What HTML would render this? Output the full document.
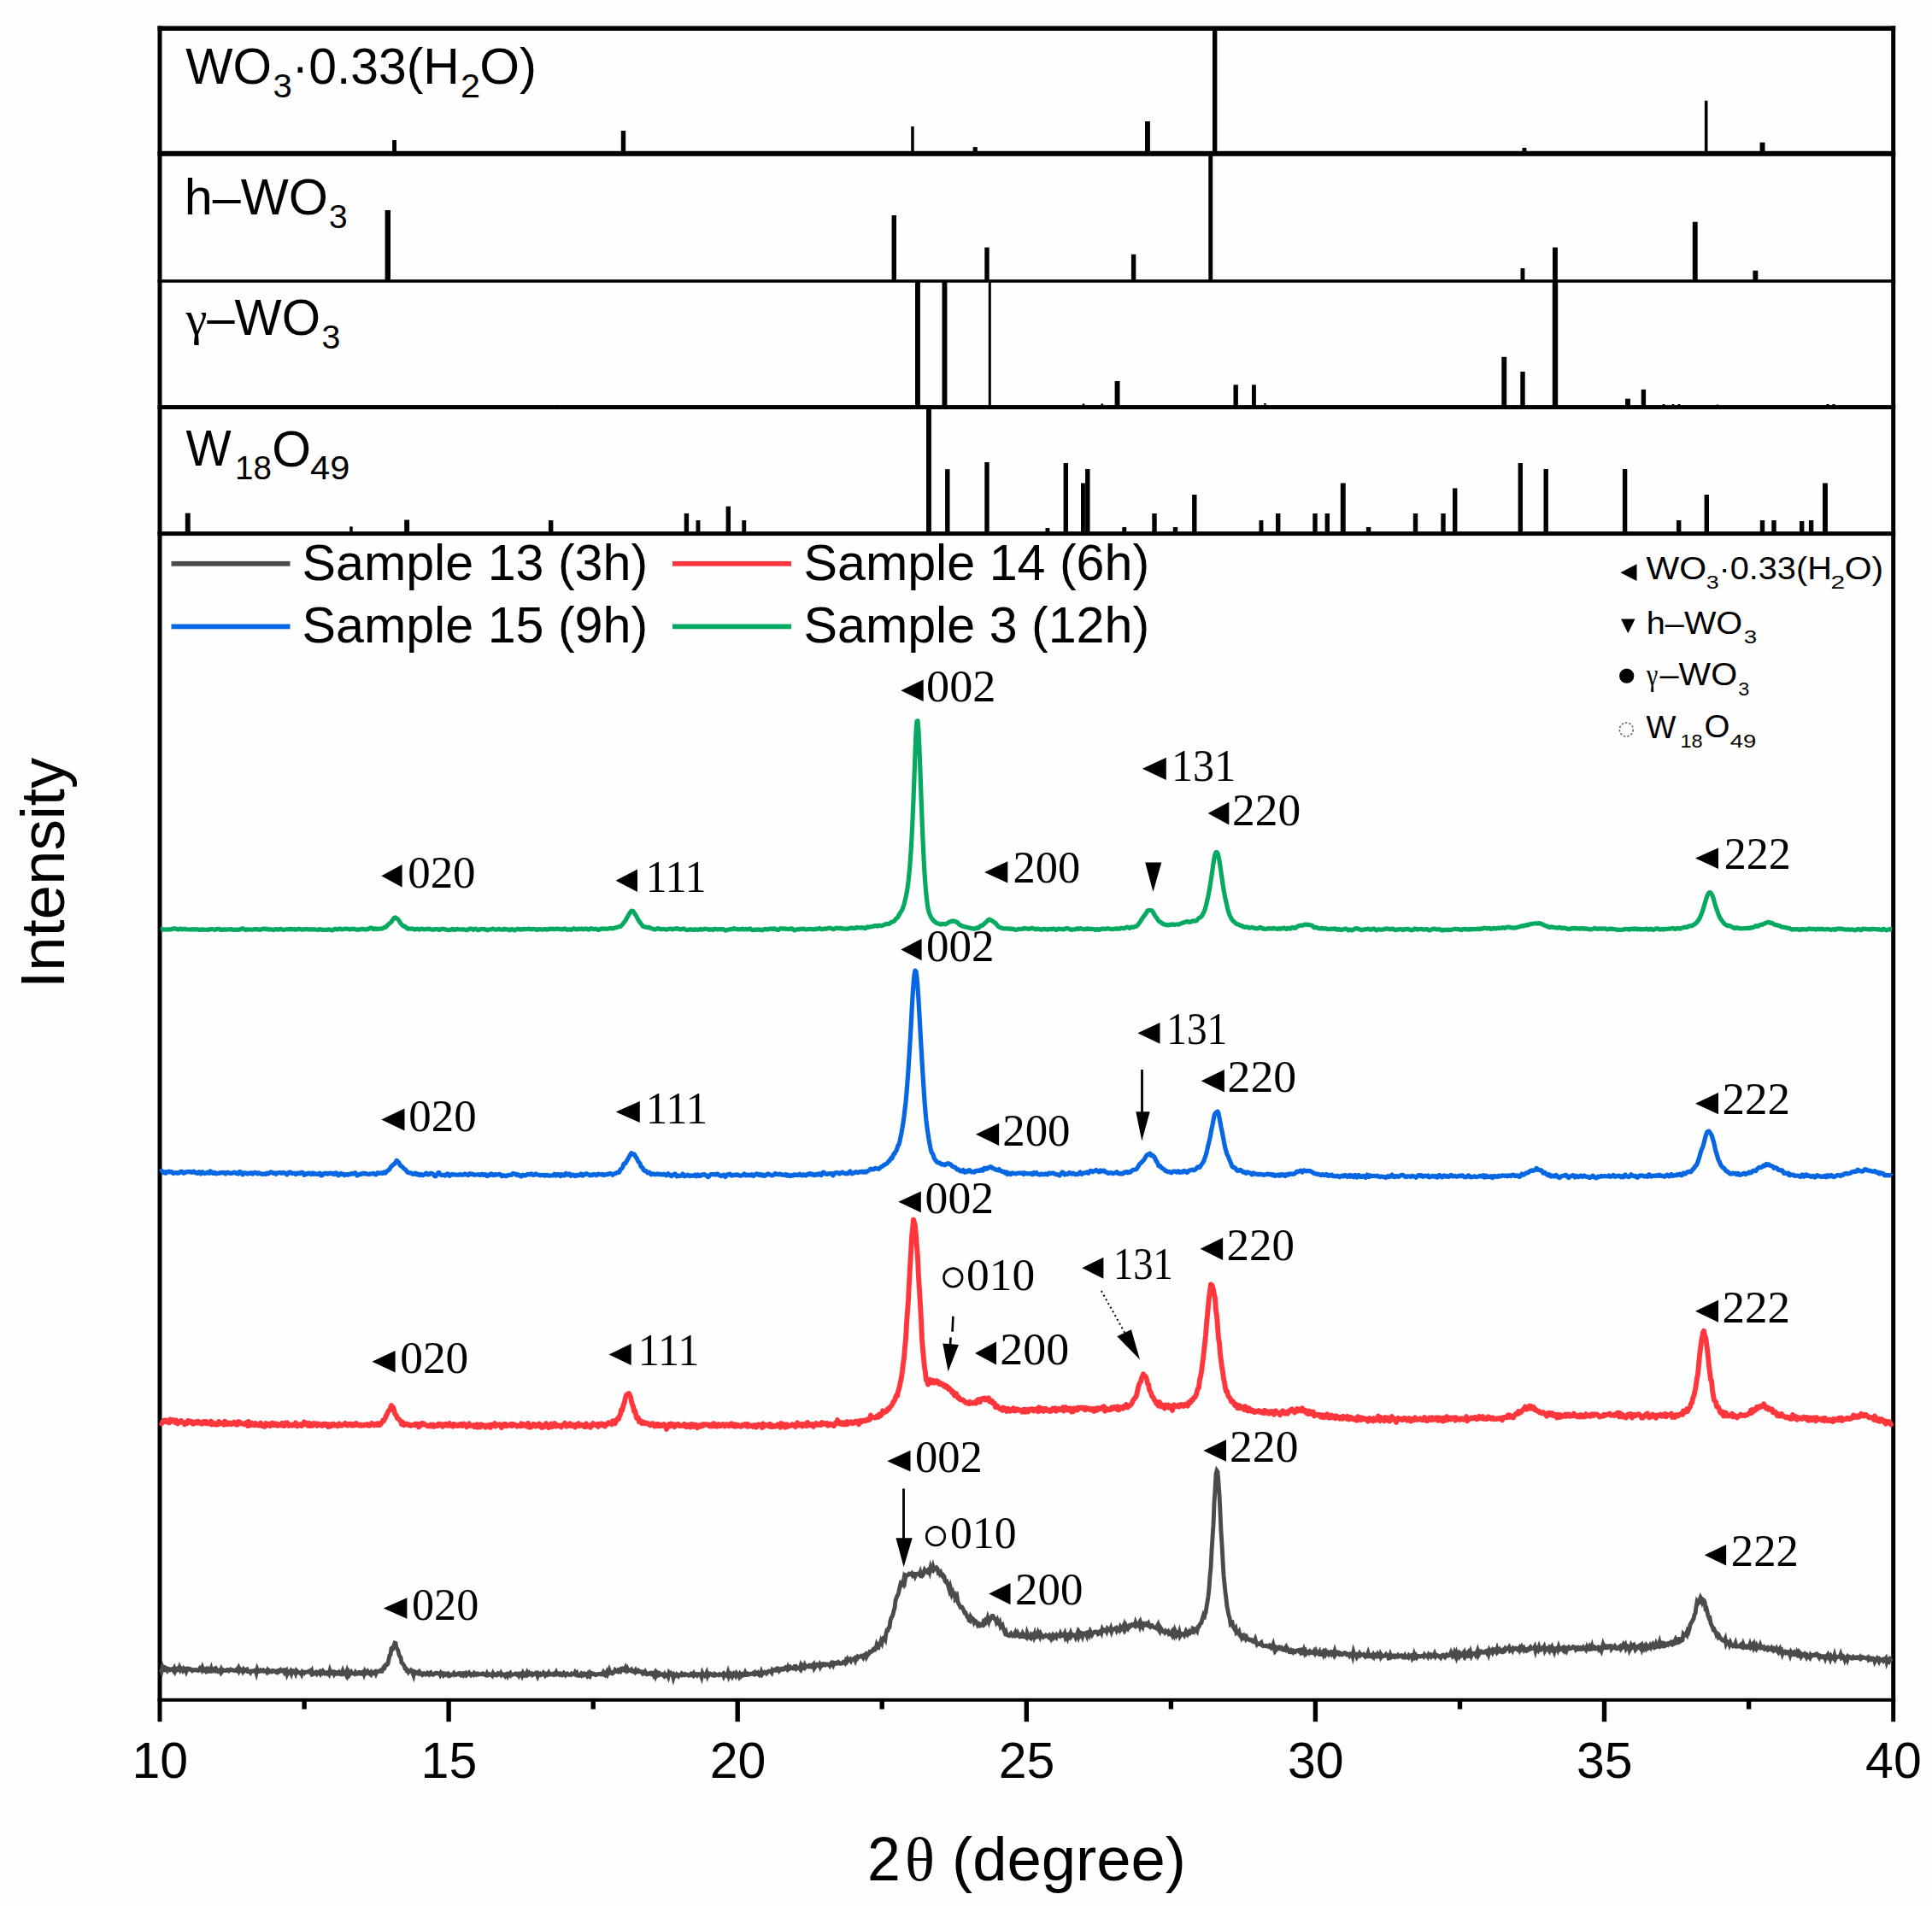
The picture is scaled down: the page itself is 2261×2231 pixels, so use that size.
<!DOCTYPE html>
<html lang="en"><head><meta charset="utf-8"><title>XRD patterns</title>
<style>html,body{margin:0;padding:0;background:#fefefe}svg{display:block}.s{font-family:"Liberation Sans",sans-serif;fill:#000}.t{font-family:"Liberation Serif",serif;fill:#000}</style></head><body>
<svg width="2261" height="2231" viewBox="0 0 2261 2231">
<rect x="0" y="0" width="2261" height="2231" fill="#fefefe"/>
<g id="sticks">
<rect x="459.1" y="164.0" width="4.9" height="15.8" fill="#000"/>
<rect x="726.8" y="153.0" width="5.4" height="26.8" fill="#000"/>
<rect x="1066.2" y="148.0" width="3.5" height="31.8" fill="#000"/>
<rect x="1138.7" y="172.1" width="5.1" height="7.7" fill="#000"/>
<rect x="1340.0" y="142.0" width="5.9" height="37.8" fill="#000"/>
<rect x="1419.0" y="33.2" width="5.4" height="146.6" fill="#000"/>
<rect x="1781.5" y="173.0" width="4.9" height="6.8" fill="#000"/>
<rect x="1994.9" y="117.8" width="3.6" height="62.0" fill="#000"/>
<rect x="2059.6" y="166.7" width="5.9" height="13.1" fill="#000"/>
<rect x="450.6" y="246.0" width="6.4" height="83.0" fill="#000"/>
<rect x="1043.6" y="252.0" width="5.4" height="77.0" fill="#000"/>
<rect x="1152.3" y="289.6" width="5.4" height="39.4" fill="#000"/>
<rect x="1323.9" y="297.7" width="5.4" height="31.3" fill="#000"/>
<rect x="1414.3" y="179.8" width="4.9" height="149.2" fill="#000"/>
<rect x="1779.5" y="314.0" width="4.9" height="15.0" fill="#000"/>
<rect x="1817.0" y="289.6" width="5.9" height="39.4" fill="#000"/>
<rect x="1980.8" y="259.7" width="5.9" height="69.3" fill="#000"/>
<rect x="2051.4" y="316.7" width="5.9" height="12.3" fill="#000"/>
<rect x="650.7" y="474.0" width="2.0" height="2.6" fill="#000"/>
<rect x="901.8" y="474.0" width="2.0" height="2.6" fill="#000"/>
<rect x="1071.0" y="329.0" width="5.9" height="147.6" fill="#000"/>
<rect x="1102.5" y="329.0" width="5.9" height="147.6" fill="#000"/>
<rect x="1156.8" y="329.0" width="3.0" height="147.6" fill="#000"/>
<rect x="1266.8" y="472.5" width="2.5" height="4.1" fill="#000"/>
<rect x="1288.5" y="472.5" width="2.5" height="4.1" fill="#000"/>
<rect x="1304.6" y="446.0" width="5.9" height="30.6" fill="#000"/>
<rect x="1443.5" y="450.4" width="5.4" height="26.2" fill="#000"/>
<rect x="1465.0" y="450.4" width="4.9" height="26.2" fill="#000"/>
<rect x="1479.2" y="472.0" width="2.5" height="4.6" fill="#000"/>
<rect x="1757.3" y="417.8" width="5.9" height="58.8" fill="#000"/>
<rect x="1779.3" y="435.0" width="5.4" height="41.6" fill="#000"/>
<rect x="1816.8" y="329.0" width="6.4" height="147.6" fill="#000"/>
<rect x="1902.0" y="466.7" width="5.9" height="9.9" fill="#000"/>
<rect x="1920.7" y="455.9" width="5.4" height="20.7" fill="#000"/>
<rect x="1945.8" y="473.0" width="2.5" height="3.6" fill="#000"/>
<rect x="1956.8" y="473.0" width="2.5" height="3.6" fill="#000"/>
<rect x="1963.8" y="473.0" width="2.5" height="3.6" fill="#000"/>
<rect x="2008.8" y="473.5" width="2.5" height="3.1" fill="#000"/>
<rect x="2035.8" y="474.0" width="2.5" height="2.6" fill="#000"/>
<rect x="2119.8" y="474.0" width="2.5" height="2.6" fill="#000"/>
<rect x="2137.5" y="473.0" width="3.0" height="3.6" fill="#000"/>
<rect x="2144.5" y="473.0" width="3.0" height="3.6" fill="#000"/>
<rect x="2164.8" y="474.0" width="2.5" height="2.6" fill="#000"/>
<rect x="2195.8" y="474.0" width="2.5" height="2.6" fill="#000"/>
<rect x="216.8" y="600.6" width="5.9" height="24.0" fill="#000"/>
<rect x="409.2" y="616.4" width="3.5" height="8.2" fill="#000"/>
<rect x="473.2" y="608.5" width="5.9" height="16.1" fill="#000"/>
<rect x="642.0" y="609.0" width="5.4" height="15.6" fill="#000"/>
<rect x="800.7" y="600.9" width="5.4" height="23.7" fill="#000"/>
<rect x="814.5" y="609.0" width="4.9" height="15.6" fill="#000"/>
<rect x="849.6" y="592.7" width="5.4" height="31.9" fill="#000"/>
<rect x="868.3" y="609.0" width="4.9" height="15.6" fill="#000"/>
<rect x="1084.0" y="476.6" width="5.9" height="148.0" fill="#000"/>
<rect x="1106.1" y="549.2" width="5.4" height="75.4" fill="#000"/>
<rect x="1152.3" y="541.0" width="5.4" height="83.6" fill="#000"/>
<rect x="1223.5" y="618.0" width="4.9" height="6.6" fill="#000"/>
<rect x="1244.6" y="542.0" width="5.4" height="82.6" fill="#000"/>
<rect x="1265.0" y="565.5" width="4.9" height="59.1" fill="#000"/>
<rect x="1270.1" y="549.0" width="5.4" height="75.6" fill="#000"/>
<rect x="1313.3" y="617.0" width="4.9" height="7.6" fill="#000"/>
<rect x="1348.3" y="601.0" width="5.4" height="23.6" fill="#000"/>
<rect x="1372.8" y="617.0" width="5.4" height="7.6" fill="#000"/>
<rect x="1395.1" y="579.0" width="5.4" height="45.6" fill="#000"/>
<rect x="1473.5" y="609.0" width="4.9" height="15.6" fill="#000"/>
<rect x="1493.0" y="601.0" width="5.4" height="23.6" fill="#000"/>
<rect x="1536.3" y="601.0" width="5.4" height="23.6" fill="#000"/>
<rect x="1550.6" y="601.0" width="5.4" height="23.6" fill="#000"/>
<rect x="1568.8" y="565.5" width="5.9" height="59.1" fill="#000"/>
<rect x="1598.9" y="617.0" width="5.4" height="7.6" fill="#000"/>
<rect x="1653.8" y="601.0" width="5.4" height="23.6" fill="#000"/>
<rect x="1686.3" y="601.0" width="5.4" height="23.6" fill="#000"/>
<rect x="1700.0" y="571.5" width="5.4" height="53.1" fill="#000"/>
<rect x="1776.6" y="542.0" width="5.4" height="82.6" fill="#000"/>
<rect x="1806.5" y="549.0" width="5.4" height="75.6" fill="#000"/>
<rect x="1898.9" y="549.0" width="5.4" height="75.6" fill="#000"/>
<rect x="1962.0" y="609.0" width="5.4" height="15.6" fill="#000"/>
<rect x="1994.6" y="579.0" width="5.4" height="45.6" fill="#000"/>
<rect x="2059.8" y="609.0" width="5.4" height="15.6" fill="#000"/>
<rect x="2073.3" y="609.0" width="5.4" height="15.6" fill="#000"/>
<rect x="2106.0" y="610.0" width="5.4" height="14.6" fill="#000"/>
<rect x="2116.9" y="609.0" width="5.4" height="15.6" fill="#000"/>
<rect x="2133.0" y="565.5" width="5.9" height="59.1" fill="#000"/>
</g>
<g id="frame" fill="#000">
<rect x="184.5" y="30.4" width="5" height="1984.9"/>
<rect x="2213.2" y="30.4" width="5" height="1984.9"/>
<rect x="184.5" y="30.4" width="2033.7" height="5.6"/>
<rect x="184.5" y="176.8" width="2033.7" height="6"/>
<rect x="184.5" y="327.2" width="2033.7" height="3.6"/>
<rect x="184.5" y="474.1" width="2033.7" height="5"/>
<rect x="184.5" y="622.1" width="2033.7" height="5"/>
<rect x="184.5" y="1987.8" width="2033.7" height="4"/>
<rect x="353.4" y="1989" width="5.4" height="11.6"/>
<rect x="522.4" y="1989" width="5.4" height="26.3"/>
<rect x="691.5" y="1989" width="5.4" height="11.6"/>
<rect x="860.5" y="1989" width="5.4" height="26.3"/>
<rect x="1029.5" y="1989" width="5.4" height="11.6"/>
<rect x="1198.6" y="1989" width="5.4" height="26.3"/>
<rect x="1367.7" y="1989" width="5.4" height="11.6"/>
<rect x="1536.7" y="1989" width="5.4" height="26.3"/>
<rect x="1705.8" y="1989" width="5.4" height="11.6"/>
<rect x="1874.8" y="1989" width="5.4" height="26.3"/>
<rect x="2043.9" y="1989" width="5.4" height="11.6"/>
</g>
<g class="s" font-size="59" text-anchor="middle">
<text x="187.3" y="2081">10</text>
<text x="525.4" y="2081">15</text>
<text x="863.5" y="2081">20</text>
<text x="1201.6" y="2081">25</text>
<text x="1539.7" y="2081">30</text>
<text x="1877.8" y="2081">35</text>
<text x="2215.9" y="2081">40</text>
</g>
<text class="s"><tspan class="s" x="1015.0" y="2200.7" font-size="72.8" textLength="38.8" lengthAdjust="spacingAndGlyphs">2</tspan><tspan class="t" x="1059.0" y="2200.7" font-size="72.8" textLength="34.9" lengthAdjust="spacingAndGlyphs">θ</tspan><tspan class="s" x="1093.9" y="2200.7" font-size="72.8" textLength="294.0" lengthAdjust="spacingAndGlyphs"> (degree)</tspan></text>
<text class="s" x="-5.7" y="0.0" font-size="72.6" textLength="270.2" lengthAdjust="spacingAndGlyphs" transform="translate(74.9 1151.2) rotate(-90)">Intensity</text>
<text class="s"><tspan class="s" x="217.3" y="98.3" font-size="59.6" textLength="100.8" lengthAdjust="spacingAndGlyphs">WO</tspan><tspan class="s" x="319.5" y="114.3" font-size="39.6" textLength="22.3" lengthAdjust="spacingAndGlyphs">3</tspan><tspan class="s" x="341.6" y="98.3" font-size="59.6" textLength="196.2" lengthAdjust="spacingAndGlyphs">·0.33(H</tspan><tspan class="s" x="538.9" y="114.3" font-size="39.6" textLength="23.0" lengthAdjust="spacingAndGlyphs">2</tspan><tspan class="s" x="561.2" y="98.3" font-size="59.6" textLength="66.9" lengthAdjust="spacingAndGlyphs">O)</tspan></text>
<text class="s"><tspan class="s" x="215.7" y="250.7" font-size="59.6" textLength="168.2" lengthAdjust="spacingAndGlyphs">h–WO</tspan><tspan class="s" x="385.0" y="266.7" font-size="39.6" textLength="21.6" lengthAdjust="spacingAndGlyphs">3</tspan></text>
<text class="s"><tspan class="t" x="217.6" y="392.0" font-size="58" textLength="24.9" lengthAdjust="spacingAndGlyphs">γ</tspan><tspan class="s" x="242.2" y="392.0" font-size="59.6" textLength="132.8" lengthAdjust="spacingAndGlyphs">–WO</tspan><tspan class="s" x="376.6" y="407.8" font-size="39.6" textLength="21.8" lengthAdjust="spacingAndGlyphs">3</tspan></text>
<text class="s"><tspan class="s" x="217.6" y="545.1" font-size="59.6" textLength="53.2" lengthAdjust="spacingAndGlyphs">W</tspan><tspan class="s" x="275.0" y="561.4" font-size="39.6" textLength="42.8" lengthAdjust="spacingAndGlyphs">18</tspan><tspan class="s" x="318.3" y="545.6" font-size="59.6" textLength="45.8" lengthAdjust="spacingAndGlyphs">O</tspan><tspan class="s" x="363.0" y="561.4" font-size="39.6" textLength="46.3" lengthAdjust="spacingAndGlyphs">49</tspan></text>
<g id="legend">
<rect x="200.5" y="656.9" width="139.0" height="5.8" fill="#4D4A4A"/>
<rect x="787" y="656.9" width="139" height="5.8" fill="#FF363C"/>
<rect x="200.5" y="730.5" width="139.0" height="5.8" fill="#0767E3"/>
<rect x="787" y="730.5" width="139" height="5.8" fill="#05AA60"/>
<g class="s" font-size="59.2">
<text x="353.5" y="679">Sample 13 (3h)</text>
<text x="940.5" y="679">Sample 14 (6h)</text>
<text x="353.5" y="752">Sample 15 (9h)</text>
<text x="940.5" y="752">Sample 3 (12h)</text>
</g></g>
<g id="phases">
<polygon points="1896.4,670.2 1915.5,660.3 1915.5,680.1"/>
<text class="s"><tspan class="s" x="1926.6" y="678.2" font-size="36.4" textLength="70.5" lengthAdjust="spacingAndGlyphs">WO</tspan><tspan class="s" x="1996.8" y="689.1" font-size="21.8" textLength="14.9" lengthAdjust="spacingAndGlyphs">3</tspan><tspan class="s" x="2011.5" y="678.2" font-size="36.4" textLength="132.3" lengthAdjust="spacingAndGlyphs">·0.33(H</tspan><tspan class="s" x="2142.6" y="689.1" font-size="21.8" textLength="16.6" lengthAdjust="spacingAndGlyphs">2</tspan><tspan class="s" x="2158.8" y="678.2" font-size="36.4" textLength="45.4" lengthAdjust="spacingAndGlyphs">O)</tspan></text>
<polygon points="1897,724.5 1913.5,724.5 1905.3,741.2"/>
<text class="s"><tspan class="s" x="1926.8" y="741.7" font-size="36.4" textLength="112.4" lengthAdjust="spacingAndGlyphs">h–WO</tspan><tspan class="s" x="2040.7" y="753.4" font-size="21.8" textLength="15.4" lengthAdjust="spacingAndGlyphs">3</tspan></text>
<circle cx="1903.7" cy="791.2" r="8.6"/>
<text class="s"><tspan class="t" x="1927.1" y="801.9" font-size="36" textLength="13.3" lengthAdjust="spacingAndGlyphs">γ</tspan><tspan class="s" x="1942.5" y="801.9" font-size="36.4" textLength="90.6" lengthAdjust="spacingAndGlyphs">–WO</tspan><tspan class="s" x="2034.2" y="813.8" font-size="21.8" textLength="13.1" lengthAdjust="spacingAndGlyphs">3</tspan></text>
<circle cx="1903.3" cy="854" r="8" fill="none" stroke="#667" stroke-width="1.6" stroke-dasharray="2.5 2"/>
<text class="s"><tspan class="s" x="1926.6" y="864.4" font-size="36.4" textLength="34.9" lengthAdjust="spacingAndGlyphs">W</tspan><tspan class="s" x="1966.5" y="874.7" font-size="21.8" textLength="26.2" lengthAdjust="spacingAndGlyphs">18</tspan><tspan class="s" x="1994.4" y="862.6" font-size="36.4" textLength="29.9" lengthAdjust="spacingAndGlyphs">O</tspan><tspan class="s" x="2024.8" y="874.7" font-size="21.8" textLength="30.5" lengthAdjust="spacingAndGlyphs">49</tspan></text>
</g>
<g id="curves">
<polyline points="188.0,1954.0 189.0,1956.3 190.0,1952.1 191.0,1955.2 192.0,1955.1 193.0,1951.7 194.0,1952.2 195.0,1952.7 196.0,1955.0 197.0,1953.4 198.0,1953.7 199.0,1954.7 200.0,1954.1 201.0,1954.2 202.0,1953.6 203.0,1955.3 204.0,1953.1 205.0,1955.9 206.0,1953.7 207.0,1953.2 208.0,1954.8 209.0,1954.6 210.0,1951.9 211.0,1954.4 212.0,1952.7 213.0,1953.3 214.0,1955.1 215.0,1953.3 216.0,1954.7 217.0,1953.9 218.0,1956.5 219.0,1954.2 220.0,1953.0 221.0,1953.1 222.0,1953.4 223.0,1954.5 224.0,1954.4 225.0,1955.5 226.0,1954.6 227.0,1954.6 228.0,1954.9 229.0,1954.4 230.0,1954.9 231.0,1955.4 232.0,1955.5 233.0,1954.0 234.0,1952.6 235.0,1953.7 236.0,1955.0 237.0,1951.9 238.0,1954.2 239.0,1955.2 240.0,1954.1 241.0,1953.5 242.0,1956.7 243.0,1956.3 244.0,1954.5 245.0,1956.3 246.0,1956.3 247.0,1953.6 248.0,1957.9 249.0,1953.9 250.0,1954.6 251.0,1953.7 252.0,1955.1 253.0,1953.5 254.0,1955.0 255.0,1956.2 256.0,1955.3 257.0,1954.8 258.0,1956.8 259.0,1954.1 260.0,1956.2 261.0,1954.8 262.0,1955.4 263.0,1955.2 264.0,1955.4 265.0,1955.2 266.0,1954.4 267.0,1954.6 268.0,1955.8 269.0,1955.2 270.0,1954.1 271.0,1954.6 272.0,1954.6 273.0,1955.3 274.0,1955.6 275.0,1955.5 276.0,1954.7 277.0,1955.5 278.0,1954.0 279.0,1952.3 280.0,1955.5 281.0,1953.7 282.0,1954.5 283.0,1954.3 284.0,1956.3 285.0,1954.3 286.0,1956.0 287.0,1955.2 288.0,1954.4 289.0,1954.0 290.0,1956.3 291.0,1956.2 292.0,1956.7 293.0,1957.8 294.0,1956.1 295.0,1956.2 296.0,1955.8 297.0,1956.0 298.0,1955.5 299.0,1955.0 300.0,1958.2 301.0,1954.0 302.0,1956.3 303.0,1956.5 304.0,1956.2 305.0,1955.0 306.0,1955.9 307.0,1955.6 308.0,1955.0 309.0,1956.1 310.0,1955.8 311.0,1955.6 312.0,1957.0 313.0,1955.1 314.0,1956.8 315.0,1955.7 316.0,1956.8 317.0,1956.5 318.0,1956.7 319.0,1955.4 320.0,1955.6 321.0,1955.6 322.0,1956.7 323.0,1957.4 324.0,1957.8 325.0,1956.1 326.0,1956.7 327.0,1954.9 328.0,1954.3 329.0,1955.8 330.0,1956.0 331.0,1955.1 332.0,1954.9 333.0,1957.4 334.0,1956.0 335.0,1955.1 336.0,1959.4 337.0,1957.1 338.0,1956.7 339.0,1957.7 340.0,1956.2 341.0,1958.8 342.0,1955.5 343.0,1955.7 344.0,1957.0 345.0,1956.4 346.0,1958.7 347.0,1955.5 348.0,1956.5 349.0,1957.6 350.0,1957.9 351.0,1958.4 352.0,1957.8 353.0,1959.8 354.0,1956.9 355.0,1957.7 356.0,1958.4 357.0,1957.2 358.0,1957.2 359.0,1957.1 360.0,1956.9 361.0,1956.4 362.0,1957.1 363.0,1956.1 364.0,1958.1 365.0,1956.1 366.0,1959.9 367.0,1959.6 368.0,1959.0 369.0,1957.6 370.0,1957.2 371.0,1959.2 372.0,1958.1 373.0,1958.5 374.0,1957.2 375.0,1959.1 376.0,1957.2 377.0,1958.1 378.0,1956.2 379.0,1957.4 380.0,1958.6 381.0,1957.6 382.0,1957.7 383.0,1959.0 384.0,1958.1 385.0,1959.5 386.0,1955.7 387.0,1958.8 388.0,1958.8 389.0,1956.6 390.0,1956.9 391.0,1959.2 392.0,1957.2 393.0,1957.6 394.0,1958.9 395.0,1958.0 396.0,1958.8 397.0,1957.4 398.0,1958.7 399.0,1959.5 400.0,1958.7 401.0,1956.1 402.0,1959.1 403.0,1958.5 404.0,1957.5 405.0,1959.8 406.0,1956.6 407.0,1960.3 408.0,1957.8 409.0,1960.0 410.0,1958.4 411.0,1957.0 412.0,1958.5 413.0,1958.8 414.0,1959.0 415.0,1959.5 416.0,1957.5 417.0,1958.9 418.0,1959.2 419.0,1958.1 420.0,1957.4 421.0,1957.4 422.0,1959.1 423.0,1959.2 424.0,1957.5 425.0,1956.9 426.0,1959.6 427.0,1956.6 428.0,1958.4 429.0,1957.3 430.0,1956.3 431.0,1958.2 432.0,1957.8 433.0,1959.5 434.0,1960.3 435.0,1957.6 436.0,1958.8 437.0,1958.8 438.0,1957.0 439.0,1956.5 440.0,1959.0 441.0,1956.7 442.0,1956.9 443.0,1956.4 444.0,1956.2 445.0,1955.4 446.0,1956.4 447.0,1956.4 448.0,1953.8 449.0,1951.7 450.0,1952.2 451.0,1949.0 452.0,1948.2 453.0,1948.5 454.0,1947.5 455.0,1942.3 456.0,1937.5 457.0,1936.8 458.0,1929.4 459.0,1928.5 460.0,1929.2 461.0,1926.5 462.0,1923.0 463.0,1923.3 464.0,1928.7 465.0,1930.1 466.0,1932.4 467.0,1937.0 468.0,1938.9 469.0,1940.1 470.0,1946.3 471.0,1946.8 472.0,1948.4 473.0,1949.7 474.0,1952.9 475.0,1952.9 476.0,1955.4 477.0,1955.1 478.0,1957.2 479.0,1956.0 480.0,1956.1 481.0,1955.0 482.0,1956.2 483.0,1958.3 484.0,1961.0 485.0,1956.6 486.0,1957.0 487.0,1958.5 488.0,1958.8 489.0,1957.7 490.0,1958.6 491.0,1956.9 492.0,1958.3 493.0,1959.6 494.0,1960.4 495.0,1958.7 496.0,1958.6 497.0,1959.4 498.0,1960.1 499.0,1959.5 500.0,1958.3 501.0,1959.4 502.0,1960.1 503.0,1958.4 504.0,1957.8 505.0,1959.7 506.0,1959.6 507.0,1960.2 508.0,1959.4 509.0,1958.6 510.0,1958.9 511.0,1958.3 512.0,1958.4 513.0,1958.8 514.0,1958.9 515.0,1960.5 516.0,1958.2 517.0,1959.4 518.0,1958.9 519.0,1960.9 520.0,1959.7 521.0,1959.1 522.0,1960.3 523.0,1959.6 524.0,1959.0 525.0,1961.1 526.0,1960.2 527.0,1961.3 528.0,1960.7 529.0,1960.3 530.0,1959.7 531.0,1958.5 532.0,1960.3 533.0,1959.7 534.0,1960.3 535.0,1959.6 536.0,1958.9 537.0,1958.6 538.0,1960.3 539.0,1960.9 540.0,1959.3 541.0,1960.1 542.0,1961.0 543.0,1958.8 544.0,1959.3 545.0,1958.5 546.0,1960.8 547.0,1959.9 548.0,1959.2 549.0,1958.0 550.0,1959.5 551.0,1960.7 552.0,1959.4 553.0,1959.3 554.0,1960.3 555.0,1958.5 556.0,1959.7 557.0,1960.3 558.0,1958.9 559.0,1958.9 560.0,1960.0 561.0,1959.6 562.0,1959.5 563.0,1959.9 564.0,1959.9 565.0,1958.8 566.0,1959.1 567.0,1960.2 568.0,1960.8 569.0,1961.1 570.0,1958.9 571.0,1960.8 572.0,1960.5 573.0,1959.7 574.0,1960.2 575.0,1960.6 576.0,1961.5 577.0,1958.7 578.0,1960.4 579.0,1959.6 580.0,1959.6 581.0,1960.9 582.0,1960.6 583.0,1958.8 584.0,1959.5 585.0,1960.0 586.0,1958.4 587.0,1960.6 588.0,1959.7 589.0,1959.9 590.0,1960.1 591.0,1961.6 592.0,1959.8 593.0,1959.4 594.0,1961.5 595.0,1959.3 596.0,1959.3 597.0,1958.4 598.0,1960.9 599.0,1960.1 600.0,1960.3 601.0,1960.0 602.0,1959.7 603.0,1959.0 604.0,1959.0 605.0,1960.2 606.0,1959.9 607.0,1961.4 608.0,1959.1 609.0,1959.3 610.0,1958.8 611.0,1961.2 612.0,1958.6 613.0,1960.6 614.0,1961.2 615.0,1959.7 616.0,1960.5 617.0,1957.7 618.0,1959.4 619.0,1958.2 620.0,1960.0 621.0,1959.8 622.0,1959.1 623.0,1960.7 624.0,1960.2 625.0,1959.3 626.0,1959.3 627.0,1958.4 628.0,1959.6 629.0,1961.9 630.0,1959.1 631.0,1960.2 632.0,1959.3 633.0,1960.6 634.0,1960.3 635.0,1959.6 636.0,1958.1 637.0,1959.3 638.0,1961.0 639.0,1959.6 640.0,1960.4 641.0,1959.4 642.0,1958.0 643.0,1960.2 644.0,1960.1 645.0,1959.3 646.0,1959.5 647.0,1960.1 648.0,1959.2 649.0,1960.2 650.0,1959.6 651.0,1957.5 652.0,1959.7 653.0,1959.2 654.0,1959.0 655.0,1960.2 656.0,1959.3 657.0,1960.4 658.0,1960.9 659.0,1960.0 660.0,1958.3 661.0,1959.1 662.0,1960.7 663.0,1959.6 664.0,1959.0 665.0,1959.7 666.0,1960.3 667.0,1960.1 668.0,1960.5 669.0,1959.0 670.0,1959.6 671.0,1959.6 672.0,1959.8 673.0,1957.8 674.0,1959.6 675.0,1958.5 676.0,1961.2 677.0,1961.4 678.0,1961.5 679.0,1960.6 680.0,1959.3 681.0,1960.8 682.0,1959.6 683.0,1960.4 684.0,1958.9 685.0,1959.2 686.0,1960.2 687.0,1961.5 688.0,1959.7 689.0,1962.0 690.0,1962.5 691.0,1958.5 692.0,1959.7 693.0,1958.8 694.0,1959.5 695.0,1959.1 696.0,1959.6 697.0,1960.6 698.0,1960.5 699.0,1959.8 700.0,1959.5 701.0,1959.5 702.0,1959.5 703.0,1959.9 704.0,1959.2 705.0,1959.6 706.0,1957.7 707.0,1959.7 708.0,1960.6 709.0,1958.9 710.0,1957.1 711.0,1959.8 712.0,1957.9 713.0,1955.0 714.0,1957.7 715.0,1958.4 716.0,1957.9 717.0,1958.6 718.0,1957.8 719.0,1957.0 720.0,1954.6 721.0,1955.3 722.0,1956.4 723.0,1956.8 724.0,1954.7 725.0,1955.0 726.0,1956.0 727.0,1953.2 728.0,1953.0 729.0,1954.7 730.0,1955.1 731.0,1954.2 732.0,1952.1 733.0,1954.7 734.0,1953.1 735.0,1955.4 736.0,1954.6 737.0,1955.0 738.0,1955.5 739.0,1954.4 740.0,1956.0 741.0,1956.6 742.0,1955.9 743.0,1957.1 744.0,1955.2 745.0,1957.1 746.0,1956.6 747.0,1955.5 748.0,1956.7 749.0,1956.4 750.0,1956.6 751.0,1957.5 752.0,1958.8 753.0,1957.5 754.0,1958.2 755.0,1956.7 756.0,1958.5 757.0,1959.8 758.0,1959.6 759.0,1959.4 760.0,1958.5 761.0,1958.2 762.0,1959.2 763.0,1958.1 764.0,1958.3 765.0,1960.6 766.0,1958.8 767.0,1961.5 768.0,1958.4 769.0,1960.3 770.0,1958.8 771.0,1960.2 772.0,1959.0 773.0,1960.1 774.0,1960.0 775.0,1959.7 776.0,1960.7 777.0,1961.7 778.0,1959.6 779.0,1961.1 780.0,1960.3 781.0,1960.2 782.0,1962.4 783.0,1958.2 784.0,1959.6 785.0,1958.6 786.0,1960.0 787.0,1960.1 788.0,1964.0 789.0,1960.7 790.0,1962.1 791.0,1961.6 792.0,1959.9 793.0,1960.8 794.0,1962.0 795.0,1960.5 796.0,1960.6 797.0,1960.9 798.0,1958.9 799.0,1959.6 800.0,1960.7 801.0,1960.9 802.0,1959.5 803.0,1960.1 804.0,1960.3 805.0,1960.2 806.0,1961.1 807.0,1960.5 808.0,1960.6 809.0,1959.0 810.0,1959.4 811.0,1960.7 812.0,1958.8 813.0,1960.6 814.0,1959.7 815.0,1959.6 816.0,1961.0 817.0,1959.7 818.0,1959.5 819.0,1959.7 820.0,1960.4 821.0,1963.0 822.0,1958.3 823.0,1960.3 824.0,1960.1 825.0,1961.3 826.0,1960.0 827.0,1957.9 828.0,1961.6 829.0,1959.3 830.0,1960.3 831.0,1959.0 832.0,1959.2 833.0,1959.8 834.0,1961.1 835.0,1961.1 836.0,1959.7 837.0,1960.8 838.0,1959.9 839.0,1960.4 840.0,1960.4 841.0,1960.8 842.0,1959.6 843.0,1960.1 844.0,1960.4 845.0,1960.3 846.0,1959.4 847.0,1961.9 848.0,1959.7 849.0,1960.9 850.0,1960.3 851.0,1961.3 852.0,1958.0 853.0,1962.1 854.0,1959.9 855.0,1958.9 856.0,1960.2 857.0,1962.3 858.0,1960.5 859.0,1958.8 860.0,1959.6 861.0,1961.3 862.0,1958.6 863.0,1959.8 864.0,1959.7 865.0,1962.1 866.0,1959.6 867.0,1961.2 868.0,1959.2 869.0,1959.1 870.0,1960.9 871.0,1960.5 872.0,1958.1 873.0,1960.5 874.0,1960.5 875.0,1959.2 876.0,1960.0 877.0,1960.0 878.0,1959.3 879.0,1959.2 880.0,1959.1 881.0,1959.4 882.0,1958.3 883.0,1959.5 884.0,1958.0 885.0,1959.5 886.0,1959.2 887.0,1958.1 888.0,1959.9 889.0,1960.9 890.0,1960.1 891.0,1957.1 892.0,1959.7 893.0,1958.4 894.0,1957.9 895.0,1957.1 896.0,1957.5 897.0,1958.8 898.0,1957.7 899.0,1956.4 900.0,1955.9 901.0,1956.0 902.0,1956.8 903.0,1958.0 904.0,1954.6 905.0,1955.5 906.0,1954.9 907.0,1954.3 908.0,1955.3 909.0,1955.3 910.0,1952.9 911.0,1953.1 912.0,1955.5 913.0,1954.3 914.0,1954.4 915.0,1953.1 916.0,1953.1 917.0,1953.9 918.0,1952.7 919.0,1951.9 920.0,1953.0 921.0,1954.0 922.0,1951.6 923.0,1953.9 924.0,1953.4 925.0,1951.5 926.0,1952.4 927.0,1952.3 928.0,1953.0 929.0,1952.9 930.0,1950.5 931.0,1950.4 932.0,1953.0 933.0,1951.9 934.0,1952.2 935.0,1952.0 936.0,1953.3 937.0,1950.0 938.0,1952.6 939.0,1950.3 940.0,1952.0 941.0,1952.6 942.0,1949.3 943.0,1951.3 944.0,1950.5 945.0,1950.3 946.0,1950.6 947.0,1949.3 948.0,1949.3 949.0,1951.1 950.0,1951.2 951.0,1949.4 952.0,1948.2 953.0,1952.6 954.0,1951.1 955.0,1950.1 956.0,1948.3 957.0,1948.7 958.0,1949.6 959.0,1948.1 960.0,1951.0 961.0,1949.2 962.0,1949.4 963.0,1947.5 964.0,1947.6 965.0,1947.6 966.0,1948.8 967.0,1948.0 968.0,1947.9 969.0,1948.5 970.0,1948.3 971.0,1949.7 972.0,1947.5 973.0,1946.4 974.0,1947.5 975.0,1949.2 976.0,1946.6 977.0,1947.2 978.0,1946.5 979.0,1947.3 980.0,1947.0 981.0,1945.5 982.0,1946.1 983.0,1947.4 984.0,1947.4 985.0,1947.0 986.0,1946.8 987.0,1945.1 988.0,1944.9 989.0,1946.3 990.0,1943.5 991.0,1944.7 992.0,1942.2 993.0,1943.8 994.0,1943.1 995.0,1942.2 996.0,1944.1 997.0,1942.2 998.0,1942.3 999.0,1942.1 1000.0,1941.2 1001.0,1943.6 1002.0,1940.8 1003.0,1941.3 1004.0,1939.0 1005.0,1939.6 1006.0,1939.4 1007.0,1939.0 1008.0,1938.2 1009.0,1938.7 1010.0,1940.1 1011.0,1937.5 1012.0,1937.0 1013.0,1936.2 1014.0,1939.6 1015.0,1937.9 1016.0,1935.9 1017.0,1935.6 1018.0,1933.2 1019.0,1933.4 1020.0,1933.3 1021.0,1932.5 1022.0,1930.5 1023.0,1929.8 1024.0,1930.8 1025.0,1929.7 1026.0,1925.4 1027.0,1927.6 1028.0,1928.2 1029.0,1924.5 1030.0,1924.6 1031.0,1921.0 1032.0,1923.1 1033.0,1918.9 1034.0,1917.0 1035.0,1916.5 1036.0,1918.5 1037.0,1911.7 1038.0,1908.3 1039.0,1908.3 1040.0,1905.3 1041.0,1904.7 1042.0,1897.2 1043.0,1893.7 1044.0,1892.5 1045.0,1889.7 1046.0,1885.5 1047.0,1882.3 1048.0,1873.5 1049.0,1870.5 1050.0,1868.0 1051.0,1866.5 1052.0,1862.6 1053.0,1857.8 1054.0,1853.6 1055.0,1854.5 1056.0,1852.4 1057.0,1854.0 1058.0,1847.6 1059.0,1850.1 1060.0,1844.0 1061.0,1844.5 1062.0,1843.6 1063.0,1843.3 1064.0,1842.0 1065.0,1842.2 1066.0,1842.8 1067.0,1841.7 1068.0,1843.7 1069.0,1842.2 1070.0,1842.3 1071.0,1845.0 1072.0,1842.8 1073.0,1842.4 1074.0,1842.1 1075.0,1842.2 1076.0,1843.2 1077.0,1840.5 1078.0,1844.2 1079.0,1844.9 1080.0,1844.0 1081.0,1840.5 1082.0,1837.8 1083.0,1839.4 1084.0,1839.8 1085.0,1840.4 1086.0,1837.7 1087.0,1836.8 1088.0,1839.8 1089.0,1835.2 1090.0,1838.4 1091.0,1838.2 1092.0,1834.1 1093.0,1837.5 1094.0,1836.3 1095.0,1836.1 1096.0,1835.0 1097.0,1836.1 1098.0,1840.6 1099.0,1839.9 1100.0,1842.2 1101.0,1840.8 1102.0,1843.5 1103.0,1845.0 1104.0,1844.0 1105.0,1845.3 1106.0,1850.8 1107.0,1851.7 1108.0,1851.2 1109.0,1854.2 1110.0,1857.1 1111.0,1860.8 1112.0,1857.5 1113.0,1861.9 1114.0,1866.3 1115.0,1864.3 1116.0,1868.5 1117.0,1862.9 1118.0,1871.7 1119.0,1870.7 1120.0,1869.0 1121.0,1875.3 1122.0,1877.5 1123.0,1879.4 1124.0,1881.1 1125.0,1880.7 1126.0,1881.2 1127.0,1883.3 1128.0,1885.6 1129.0,1887.9 1130.0,1887.8 1131.0,1890.0 1132.0,1892.5 1133.0,1892.7 1134.0,1896.8 1135.0,1897.4 1136.0,1892.9 1137.0,1894.7 1138.0,1894.3 1139.0,1895.3 1140.0,1898.8 1141.0,1897.1 1142.0,1897.6 1143.0,1899.5 1144.0,1901.7 1145.0,1900.2 1146.0,1900.5 1147.0,1902.8 1148.0,1902.1 1149.0,1902.0 1150.0,1902.4 1151.0,1898.6 1152.0,1899.8 1153.0,1897.5 1154.0,1899.2 1155.0,1897.9 1156.0,1893.9 1157.0,1896.9 1158.0,1892.0 1159.0,1895.2 1160.0,1893.3 1161.0,1891.4 1162.0,1891.4 1163.0,1893.4 1164.0,1894.9 1165.0,1895.0 1166.0,1898.4 1167.0,1896.5 1168.0,1899.8 1169.0,1900.9 1170.0,1899.1 1171.0,1903.8 1172.0,1902.5 1173.0,1901.9 1174.0,1906.1 1175.0,1907.9 1176.0,1910.8 1177.0,1909.6 1178.0,1913.5 1179.0,1914.1 1180.0,1914.0 1181.0,1914.6 1182.0,1913.3 1183.0,1912.1 1184.0,1914.0 1185.0,1914.7 1186.0,1913.7 1187.0,1913.1 1188.0,1911.2 1189.0,1914.8 1190.0,1914.4 1191.0,1912.0 1192.0,1914.2 1193.0,1915.3 1194.0,1914.1 1195.0,1915.5 1196.0,1915.6 1197.0,1912.3 1198.0,1914.1 1199.0,1915.4 1200.0,1916.1 1201.0,1916.9 1202.0,1911.8 1203.0,1914.7 1204.0,1915.9 1205.0,1916.7 1206.0,1917.4 1207.0,1913.4 1208.0,1914.2 1209.0,1913.2 1210.0,1916.0 1211.0,1912.8 1212.0,1916.6 1213.0,1916.2 1214.0,1915.5 1215.0,1911.5 1216.0,1913.8 1217.0,1915.9 1218.0,1912.6 1219.0,1914.4 1220.0,1914.6 1221.0,1916.1 1222.0,1915.2 1223.0,1915.2 1224.0,1914.1 1225.0,1914.8 1226.0,1914.6 1227.0,1915.9 1228.0,1914.5 1229.0,1916.3 1230.0,1912.2 1231.0,1916.6 1232.0,1914.5 1233.0,1916.5 1234.0,1914.9 1235.0,1916.1 1236.0,1917.0 1237.0,1913.9 1238.0,1914.9 1239.0,1914.5 1240.0,1915.1 1241.0,1912.3 1242.0,1914.5 1243.0,1914.4 1244.0,1913.5 1245.0,1914.4 1246.0,1912.3 1247.0,1916.8 1248.0,1915.3 1249.0,1917.4 1250.0,1913.2 1251.0,1912.7 1252.0,1914.8 1253.0,1911.8 1254.0,1914.6 1255.0,1913.1 1256.0,1913.6 1257.0,1914.4 1258.0,1914.0 1259.0,1916.7 1260.0,1914.7 1261.0,1911.7 1262.0,1915.0 1263.0,1911.4 1264.0,1913.5 1265.0,1911.3 1266.0,1911.8 1267.0,1915.0 1268.0,1912.0 1269.0,1911.8 1270.0,1911.8 1271.0,1912.1 1272.0,1914.6 1273.0,1910.5 1274.0,1910.3 1275.0,1912.9 1276.0,1909.5 1277.0,1911.3 1278.0,1913.4 1279.0,1911.6 1280.0,1910.7 1281.0,1910.2 1282.0,1909.8 1283.0,1910.2 1284.0,1911.1 1285.0,1912.7 1286.0,1912.1 1287.0,1909.6 1288.0,1909.2 1289.0,1911.2 1290.0,1907.2 1291.0,1909.1 1292.0,1909.1 1293.0,1907.7 1294.0,1907.7 1295.0,1909.6 1296.0,1906.3 1297.0,1907.3 1298.0,1907.5 1299.0,1908.5 1300.0,1906.0 1301.0,1909.7 1302.0,1907.3 1303.0,1907.2 1304.0,1906.8 1305.0,1906.1 1306.0,1905.5 1307.0,1908.6 1308.0,1906.9 1309.0,1906.2 1310.0,1907.8 1311.0,1904.9 1312.0,1906.9 1313.0,1905.7 1314.0,1904.1 1315.0,1906.5 1316.0,1902.8 1317.0,1906.0 1318.0,1903.3 1319.0,1905.2 1320.0,1906.5 1321.0,1905.0 1322.0,1902.9 1323.0,1903.6 1324.0,1902.8 1325.0,1901.3 1326.0,1901.2 1327.0,1902.8 1328.0,1903.4 1329.0,1899.6 1330.0,1902.1 1331.0,1902.9 1332.0,1902.1 1333.0,1900.2 1334.0,1903.3 1335.0,1899.7 1336.0,1902.6 1337.0,1904.1 1338.0,1898.3 1339.0,1902.1 1340.0,1902.3 1341.0,1902.3 1342.0,1900.9 1343.0,1901.9 1344.0,1900.4 1345.0,1903.1 1346.0,1904.1 1347.0,1902.5 1348.0,1902.5 1349.0,1903.5 1350.0,1904.6 1351.0,1905.1 1352.0,1905.2 1353.0,1905.8 1354.0,1904.0 1355.0,1902.1 1356.0,1907.7 1357.0,1909.3 1358.0,1905.1 1359.0,1906.6 1360.0,1908.4 1361.0,1909.7 1362.0,1909.6 1363.0,1910.9 1364.0,1909.2 1365.0,1910.3 1366.0,1910.6 1367.0,1909.7 1368.0,1912.5 1369.0,1912.0 1370.0,1912.8 1371.0,1911.0 1372.0,1913.5 1373.0,1910.5 1374.0,1913.0 1375.0,1908.6 1376.0,1911.1 1377.0,1913.9 1378.0,1912.1 1379.0,1913.1 1380.0,1910.3 1381.0,1915.0 1382.0,1913.4 1383.0,1912.4 1384.0,1912.9 1385.0,1912.6 1386.0,1914.1 1387.0,1912.1 1388.0,1909.3 1389.0,1910.9 1390.0,1913.0 1391.0,1911.6 1392.0,1909.8 1393.0,1911.1 1394.0,1909.9 1395.0,1910.3 1396.0,1906.4 1397.0,1907.0 1398.0,1908.8 1399.0,1906.8 1400.0,1907.0 1401.0,1908.7 1402.0,1904.3 1403.0,1904.1 1404.0,1901.7 1405.0,1900.2 1406.0,1899.5 1407.0,1895.5 1408.0,1892.2 1409.0,1895.2 1410.0,1889.6 1411.0,1887.7 1412.0,1881.1 1413.0,1875.1 1414.0,1868.5 1415.0,1859.3 1416.0,1844.4 1417.0,1835.5 1418.0,1815.3 1419.0,1799.5 1420.0,1784.7 1421.0,1759.1 1422.0,1744.1 1423.0,1725.5 1424.0,1721.4 1425.0,1722.9 1426.0,1735.1 1427.0,1749.5 1428.0,1769.5 1429.0,1792.5 1430.0,1807.7 1431.0,1826.2 1432.0,1843.7 1433.0,1853.7 1434.0,1863.5 1435.0,1871.6 1436.0,1880.6 1437.0,1885.3 1438.0,1890.7 1439.0,1893.8 1440.0,1900.2 1441.0,1899.1 1442.0,1898.8 1443.0,1904.0 1444.0,1905.5 1445.0,1907.2 1446.0,1905.8 1447.0,1911.2 1448.0,1910.5 1449.0,1911.5 1450.0,1910.0 1451.0,1914.0 1452.0,1914.0 1453.0,1916.8 1454.0,1914.8 1455.0,1914.2 1456.0,1916.8 1457.0,1915.9 1458.0,1918.3 1459.0,1916.6 1460.0,1918.5 1461.0,1918.8 1462.0,1919.5 1463.0,1919.2 1464.0,1919.2 1465.0,1920.6 1466.0,1920.3 1467.0,1921.7 1468.0,1921.5 1469.0,1919.0 1470.0,1922.5 1471.0,1924.9 1472.0,1923.7 1473.0,1924.4 1474.0,1924.5 1475.0,1923.5 1476.0,1922.6 1477.0,1926.0 1478.0,1926.6 1479.0,1926.2 1480.0,1926.3 1481.0,1926.6 1482.0,1926.3 1483.0,1927.0 1484.0,1926.9 1485.0,1927.5 1486.0,1926.0 1487.0,1926.7 1488.0,1928.6 1489.0,1927.6 1490.0,1924.9 1491.0,1928.7 1492.0,1925.6 1493.0,1931.5 1494.0,1930.1 1495.0,1930.2 1496.0,1928.5 1497.0,1928.1 1498.0,1929.5 1499.0,1930.0 1500.0,1929.0 1501.0,1930.5 1502.0,1931.3 1503.0,1931.4 1504.0,1929.3 1505.0,1927.9 1506.0,1931.0 1507.0,1930.2 1508.0,1931.8 1509.0,1933.6 1510.0,1933.7 1511.0,1932.0 1512.0,1933.3 1513.0,1934.1 1514.0,1932.1 1515.0,1932.5 1516.0,1933.4 1517.0,1932.3 1518.0,1931.8 1519.0,1931.6 1520.0,1932.7 1521.0,1931.9 1522.0,1933.9 1523.0,1932.5 1524.0,1935.0 1525.0,1934.8 1526.0,1931.6 1527.0,1934.8 1528.0,1932.9 1529.0,1935.3 1530.0,1934.2 1531.0,1933.6 1532.0,1934.6 1533.0,1933.1 1534.0,1934.3 1535.0,1934.4 1536.0,1933.8 1537.0,1934.6 1538.0,1932.8 1539.0,1934.9 1540.0,1932.7 1541.0,1935.1 1542.0,1935.0 1543.0,1935.3 1544.0,1933.7 1545.0,1938.5 1546.0,1934.3 1547.0,1934.8 1548.0,1933.7 1549.0,1936.6 1550.0,1934.2 1551.0,1936.1 1552.0,1933.6 1553.0,1935.3 1554.0,1934.5 1555.0,1936.2 1556.0,1934.7 1557.0,1934.0 1558.0,1935.7 1559.0,1933.7 1560.0,1934.0 1561.0,1936.3 1562.0,1932.9 1563.0,1936.4 1564.0,1934.9 1565.0,1934.3 1566.0,1935.8 1567.0,1936.4 1568.0,1934.8 1569.0,1935.4 1570.0,1936.7 1571.0,1936.7 1572.0,1935.7 1573.0,1934.8 1574.0,1934.6 1575.0,1935.1 1576.0,1936.8 1577.0,1936.7 1578.0,1936.4 1579.0,1937.9 1580.0,1935.8 1581.0,1935.7 1582.0,1935.8 1583.0,1938.8 1584.0,1933.7 1585.0,1936.8 1586.0,1937.1 1587.0,1936.6 1588.0,1939.6 1589.0,1938.2 1590.0,1937.7 1591.0,1935.6 1592.0,1937.5 1593.0,1936.4 1594.0,1937.0 1595.0,1937.3 1596.0,1936.5 1597.0,1938.0 1598.0,1939.3 1599.0,1938.6 1600.0,1937.7 1601.0,1935.0 1602.0,1938.9 1603.0,1938.9 1604.0,1937.4 1605.0,1937.1 1606.0,1938.6 1607.0,1936.8 1608.0,1938.9 1609.0,1936.6 1610.0,1936.9 1611.0,1938.1 1612.0,1936.3 1613.0,1938.2 1614.0,1938.9 1615.0,1936.6 1616.0,1939.5 1617.0,1937.7 1618.0,1939.1 1619.0,1938.7 1620.0,1938.0 1621.0,1937.9 1622.0,1936.5 1623.0,1937.8 1624.0,1937.7 1625.0,1940.7 1626.0,1940.0 1627.0,1937.0 1628.0,1939.8 1629.0,1939.0 1630.0,1938.3 1631.0,1939.4 1632.0,1939.8 1633.0,1938.1 1634.0,1938.5 1635.0,1939.0 1636.0,1937.6 1637.0,1939.0 1638.0,1938.7 1639.0,1937.9 1640.0,1937.7 1641.0,1939.2 1642.0,1939.9 1643.0,1939.2 1644.0,1937.7 1645.0,1939.7 1646.0,1939.0 1647.0,1939.5 1648.0,1940.2 1649.0,1937.6 1650.0,1938.5 1651.0,1938.0 1652.0,1937.6 1653.0,1941.2 1654.0,1939.8 1655.0,1936.4 1656.0,1939.2 1657.0,1937.9 1658.0,1940.0 1659.0,1938.7 1660.0,1938.3 1661.0,1938.7 1662.0,1939.0 1663.0,1938.5 1664.0,1938.2 1665.0,1938.3 1666.0,1939.1 1667.0,1937.0 1668.0,1938.4 1669.0,1938.2 1670.0,1937.8 1671.0,1939.3 1672.0,1936.7 1673.0,1937.8 1674.0,1937.2 1675.0,1938.9 1676.0,1937.6 1677.0,1938.3 1678.0,1938.7 1679.0,1936.1 1680.0,1938.7 1681.0,1937.2 1682.0,1937.7 1683.0,1937.9 1684.0,1939.0 1685.0,1938.9 1686.0,1940.2 1687.0,1938.1 1688.0,1937.3 1689.0,1937.2 1690.0,1938.7 1691.0,1939.8 1692.0,1938.2 1693.0,1937.0 1694.0,1938.1 1695.0,1938.0 1696.0,1937.7 1697.0,1936.7 1698.0,1934.4 1699.0,1936.9 1700.0,1938.8 1701.0,1937.7 1702.0,1934.7 1703.0,1937.4 1704.0,1935.1 1705.0,1939.8 1706.0,1937.5 1707.0,1935.7 1708.0,1938.2 1709.0,1936.2 1710.0,1937.8 1711.0,1937.0 1712.0,1935.5 1713.0,1937.7 1714.0,1935.1 1715.0,1938.4 1716.0,1936.7 1717.0,1935.2 1718.0,1934.1 1719.0,1938.3 1720.0,1938.0 1721.0,1934.5 1722.0,1938.0 1723.0,1936.0 1724.0,1935.4 1725.0,1935.5 1726.0,1935.1 1727.0,1937.1 1728.0,1935.4 1729.0,1932.7 1730.0,1937.6 1731.0,1935.9 1732.0,1933.2 1733.0,1934.0 1734.0,1933.2 1735.0,1934.2 1736.0,1934.5 1737.0,1934.2 1738.0,1933.0 1739.0,1932.6 1740.0,1934.5 1741.0,1933.2 1742.0,1936.1 1743.0,1932.0 1744.0,1933.9 1745.0,1932.8 1746.0,1931.6 1747.0,1934.2 1748.0,1932.5 1749.0,1931.0 1750.0,1931.6 1751.0,1933.2 1752.0,1930.1 1753.0,1933.4 1754.0,1932.4 1755.0,1931.0 1756.0,1933.0 1757.0,1933.4 1758.0,1931.8 1759.0,1931.1 1760.0,1933.2 1761.0,1932.7 1762.0,1929.4 1763.0,1930.2 1764.0,1930.1 1765.0,1929.8 1766.0,1928.3 1767.0,1931.4 1768.0,1930.2 1769.0,1930.2 1770.0,1931.9 1771.0,1929.2 1772.0,1929.8 1773.0,1930.2 1774.0,1929.3 1775.0,1929.7 1776.0,1930.8 1777.0,1929.8 1778.0,1931.6 1779.0,1928.8 1780.0,1930.1 1781.0,1927.9 1782.0,1929.7 1783.0,1928.9 1784.0,1931.7 1785.0,1930.8 1786.0,1930.5 1787.0,1932.3 1788.0,1931.8 1789.0,1930.9 1790.0,1929.0 1791.0,1928.0 1792.0,1929.9 1793.0,1929.5 1794.0,1929.1 1795.0,1929.6 1796.0,1927.8 1797.0,1932.1 1798.0,1928.6 1799.0,1929.2 1800.0,1930.9 1801.0,1928.0 1802.0,1931.4 1803.0,1931.4 1804.0,1929.8 1805.0,1928.8 1806.0,1929.6 1807.0,1927.8 1808.0,1932.1 1809.0,1930.3 1810.0,1929.3 1811.0,1929.0 1812.0,1931.0 1813.0,1932.3 1814.0,1928.6 1815.0,1929.5 1816.0,1927.9 1817.0,1931.1 1818.0,1930.4 1819.0,1933.2 1820.0,1930.0 1821.0,1929.6 1822.0,1929.2 1823.0,1931.3 1824.0,1928.0 1825.0,1931.1 1826.0,1930.5 1827.0,1929.4 1828.0,1928.9 1829.0,1931.5 1830.0,1932.5 1831.0,1929.4 1832.0,1930.7 1833.0,1932.3 1834.0,1929.1 1835.0,1929.6 1836.0,1928.3 1837.0,1929.7 1838.0,1929.7 1839.0,1929.3 1840.0,1928.8 1841.0,1927.6 1842.0,1927.9 1843.0,1928.4 1844.0,1930.5 1845.0,1929.0 1846.0,1928.5 1847.0,1930.5 1848.0,1930.3 1849.0,1928.5 1850.0,1928.6 1851.0,1930.3 1852.0,1929.9 1853.0,1928.3 1854.0,1929.7 1855.0,1929.3 1856.0,1930.8 1857.0,1928.1 1858.0,1930.4 1859.0,1929.8 1860.0,1927.8 1861.0,1930.5 1862.0,1930.3 1863.0,1927.3 1864.0,1931.7 1865.0,1927.4 1866.0,1927.7 1867.0,1928.5 1868.0,1929.9 1869.0,1929.6 1870.0,1928.7 1871.0,1930.6 1872.0,1929.3 1873.0,1930.6 1874.0,1932.5 1875.0,1928.9 1876.0,1925.1 1877.0,1928.0 1878.0,1927.1 1879.0,1928.7 1880.0,1928.7 1881.0,1926.8 1882.0,1926.9 1883.0,1928.1 1884.0,1928.2 1885.0,1924.8 1886.0,1929.7 1887.0,1928.4 1888.0,1928.3 1889.0,1928.7 1890.0,1926.9 1891.0,1928.2 1892.0,1929.7 1893.0,1929.7 1894.0,1928.9 1895.0,1927.8 1896.0,1927.0 1897.0,1930.0 1898.0,1928.8 1899.0,1927.5 1900.0,1925.1 1901.0,1926.8 1902.0,1925.3 1903.0,1929.7 1904.0,1928.2 1905.0,1926.9 1906.0,1927.5 1907.0,1931.5 1908.0,1929.5 1909.0,1925.9 1910.0,1927.6 1911.0,1926.0 1912.0,1925.3 1913.0,1927.9 1914.0,1931.0 1915.0,1929.8 1916.0,1927.6 1917.0,1927.0 1918.0,1927.8 1919.0,1928.9 1920.0,1925.3 1921.0,1924.7 1922.0,1930.0 1923.0,1927.7 1924.0,1929.5 1925.0,1927.5 1926.0,1929.2 1927.0,1926.2 1928.0,1927.7 1929.0,1929.2 1930.0,1928.4 1931.0,1926.2 1932.0,1928.1 1933.0,1925.8 1934.0,1924.6 1935.0,1927.3 1936.0,1928.5 1937.0,1927.6 1938.0,1924.6 1939.0,1927.5 1940.0,1927.1 1941.0,1925.4 1942.0,1922.4 1943.0,1927.3 1944.0,1927.0 1945.0,1926.4 1946.0,1923.0 1947.0,1923.2 1948.0,1926.7 1949.0,1926.3 1950.0,1925.7 1951.0,1924.4 1952.0,1925.2 1953.0,1923.6 1954.0,1923.8 1955.0,1922.7 1956.0,1924.1 1957.0,1922.9 1958.0,1924.6 1959.0,1924.0 1960.0,1921.4 1961.0,1924.9 1962.0,1920.2 1963.0,1922.0 1964.0,1922.5 1965.0,1922.3 1966.0,1916.5 1967.0,1920.6 1968.0,1920.2 1969.0,1919.7 1970.0,1913.2 1971.0,1914.5 1972.0,1914.2 1973.0,1912.4 1974.0,1913.7 1975.0,1908.9 1976.0,1910.2 1977.0,1907.1 1978.0,1901.7 1979.0,1900.0 1980.0,1898.3 1981.0,1896.4 1982.0,1895.0 1983.0,1889.9 1984.0,1888.5 1985.0,1881.0 1986.0,1875.3 1987.0,1877.1 1988.0,1876.0 1989.0,1872.5 1990.0,1870.0 1991.0,1872.0 1992.0,1875.0 1993.0,1872.4 1994.0,1873.1 1995.0,1875.2 1996.0,1883.0 1997.0,1882.6 1998.0,1886.9 1999.0,1891.2 2000.0,1894.1 2001.0,1893.8 2002.0,1899.8 2003.0,1902.3 2004.0,1904.2 2005.0,1907.3 2006.0,1906.9 2007.0,1909.6 2008.0,1910.6 2009.0,1914.1 2010.0,1913.3 2011.0,1916.1 2012.0,1915.0 2013.0,1917.4 2014.0,1917.9 2015.0,1919.1 2016.0,1920.2 2017.0,1920.3 2018.0,1920.9 2019.0,1918.6 2020.0,1923.8 2021.0,1921.6 2022.0,1922.6 2023.0,1922.1 2024.0,1925.1 2025.0,1922.6 2026.0,1924.9 2027.0,1926.1 2028.0,1927.0 2029.0,1926.6 2030.0,1925.9 2031.0,1923.5 2032.0,1927.3 2033.0,1927.3 2034.0,1926.9 2035.0,1927.0 2036.0,1926.1 2037.0,1925.3 2038.0,1927.8 2039.0,1928.2 2040.0,1924.9 2041.0,1927.8 2042.0,1927.0 2043.0,1928.0 2044.0,1927.2 2045.0,1928.5 2046.0,1928.4 2047.0,1928.3 2048.0,1925.1 2049.0,1928.3 2050.0,1927.3 2051.0,1925.6 2052.0,1928.3 2053.0,1925.4 2054.0,1928.7 2055.0,1929.9 2056.0,1926.8 2057.0,1928.9 2058.0,1928.2 2059.0,1928.6 2060.0,1925.8 2061.0,1928.6 2062.0,1928.0 2063.0,1928.9 2064.0,1928.0 2065.0,1929.7 2066.0,1928.7 2067.0,1929.4 2068.0,1930.5 2069.0,1929.0 2070.0,1930.4 2071.0,1929.5 2072.0,1930.2 2073.0,1928.9 2074.0,1931.0 2075.0,1931.9 2076.0,1930.3 2077.0,1931.8 2078.0,1931.5 2079.0,1929.7 2080.0,1932.0 2081.0,1933.6 2082.0,1931.4 2083.0,1929.9 2084.0,1932.9 2085.0,1932.0 2086.0,1935.8 2087.0,1933.4 2088.0,1933.8 2089.0,1933.2 2090.0,1934.6 2091.0,1933.8 2092.0,1933.6 2093.0,1935.0 2094.0,1934.2 2095.0,1937.3 2096.0,1934.1 2097.0,1935.8 2098.0,1935.2 2099.0,1934.4 2100.0,1938.6 2101.0,1933.8 2102.0,1938.6 2103.0,1934.9 2104.0,1937.0 2105.0,1940.0 2106.0,1934.2 2107.0,1935.3 2108.0,1938.9 2109.0,1937.5 2110.0,1936.6 2111.0,1937.4 2112.0,1936.2 2113.0,1937.7 2114.0,1939.6 2115.0,1937.2 2116.0,1938.0 2117.0,1939.4 2118.0,1940.5 2119.0,1937.2 2120.0,1938.4 2121.0,1937.4 2122.0,1937.3 2123.0,1937.7 2124.0,1937.5 2125.0,1936.1 2126.0,1935.8 2127.0,1937.5 2128.0,1938.7 2129.0,1940.2 2130.0,1938.0 2131.0,1938.5 2132.0,1939.6 2133.0,1939.8 2134.0,1938.7 2135.0,1938.9 2136.0,1941.4 2137.0,1938.6 2138.0,1938.5 2139.0,1937.0 2140.0,1939.8 2141.0,1938.9 2142.0,1941.8 2143.0,1938.9 2144.0,1940.5 2145.0,1940.7 2146.0,1941.6 2147.0,1937.8 2148.0,1941.6 2149.0,1939.7 2150.0,1939.5 2151.0,1939.3 2152.0,1939.3 2153.0,1939.4 2154.0,1936.8 2155.0,1940.6 2156.0,1940.0 2157.0,1938.8 2158.0,1939.9 2159.0,1943.0 2160.0,1940.6 2161.0,1939.7 2162.0,1942.4 2163.0,1939.2 2164.0,1940.1 2165.0,1939.6 2166.0,1940.1 2167.0,1941.3 2168.0,1941.2 2169.0,1939.5 2170.0,1940.4 2171.0,1940.7 2172.0,1940.1 2173.0,1940.6 2174.0,1939.8 2175.0,1939.8 2176.0,1940.8 2177.0,1939.5 2178.0,1941.4 2179.0,1940.6 2180.0,1939.7 2181.0,1940.2 2182.0,1940.4 2183.0,1940.8 2184.0,1941.2 2185.0,1940.8 2186.0,1940.0 2187.0,1943.0 2188.0,1942.4 2189.0,1941.4 2190.0,1942.5 2191.0,1941.7 2192.0,1941.0 2193.0,1941.5 2194.0,1944.8 2195.0,1942.8 2196.0,1942.9 2197.0,1941.1 2198.0,1942.4 2199.0,1944.5 2200.0,1942.2 2201.0,1943.1 2202.0,1943.4 2203.0,1942.6 2204.0,1943.9 2205.0,1942.2 2206.0,1942.6 2207.0,1941.2 2208.0,1945.4 2209.0,1942.5 2210.0,1942.3 2211.0,1943.9 2212.0,1941.6 2213.0,1942.3 2214.0,1941.3" fill="none" stroke="#4D4A4A" stroke-width="4.9" stroke-linejoin="miter" stroke-linecap="butt"/>
<polyline points="188.0,1664.9 189.0,1666.3 190.0,1665.1 191.0,1663.2 192.0,1662.6 193.0,1664.0 194.0,1662.5 195.0,1664.5 196.0,1663.1 197.0,1664.9 198.0,1665.4 199.0,1661.4 200.0,1664.2 201.0,1663.0 202.0,1662.2 203.0,1663.2 204.0,1663.7 205.0,1665.2 206.0,1662.2 207.0,1665.3 208.0,1666.4 209.0,1664.8 210.0,1664.8 211.0,1664.1 212.0,1662.8 213.0,1664.8 214.0,1664.7 215.0,1665.1 216.0,1667.3 217.0,1665.2 218.0,1664.9 219.0,1666.2 220.0,1662.9 221.0,1663.1 222.0,1664.1 223.0,1663.8 224.0,1665.4 225.0,1664.2 226.0,1666.7 227.0,1666.4 228.0,1665.6 229.0,1664.3 230.0,1665.5 231.0,1665.7 232.0,1663.6 233.0,1665.3 234.0,1665.7 235.0,1665.2 236.0,1666.8 237.0,1666.4 238.0,1664.1 239.0,1665.2 240.0,1664.1 241.0,1665.8 242.0,1664.2 243.0,1666.3 244.0,1665.7 245.0,1666.4 246.0,1665.1 247.0,1663.6 248.0,1667.4 249.0,1665.2 250.0,1667.0 251.0,1666.0 252.0,1666.3 253.0,1667.6 254.0,1666.0 255.0,1667.2 256.0,1663.9 257.0,1666.7 258.0,1665.4 259.0,1665.6 260.0,1665.8 261.0,1666.2 262.0,1667.7 263.0,1663.7 264.0,1665.9 265.0,1665.1 266.0,1667.3 267.0,1665.5 268.0,1666.5 269.0,1665.6 270.0,1666.9 271.0,1667.3 272.0,1665.7 273.0,1666.2 274.0,1664.6 275.0,1666.6 276.0,1667.3 277.0,1665.7 278.0,1667.6 279.0,1664.0 280.0,1664.3 281.0,1664.8 282.0,1665.9 283.0,1666.5 284.0,1666.4 285.0,1666.5 286.0,1667.4 287.0,1666.1 288.0,1665.2 289.0,1665.2 290.0,1669.1 291.0,1664.0 292.0,1666.5 293.0,1668.4 294.0,1667.4 295.0,1665.9 296.0,1666.9 297.0,1667.9 298.0,1668.3 299.0,1665.9 300.0,1667.8 301.0,1667.3 302.0,1668.3 303.0,1668.6 304.0,1666.7 305.0,1665.5 306.0,1667.6 307.0,1669.2 308.0,1667.9 309.0,1667.5 310.0,1669.9 311.0,1666.1 312.0,1668.3 313.0,1666.6 314.0,1667.4 315.0,1667.4 316.0,1669.1 317.0,1666.3 318.0,1666.8 319.0,1665.6 320.0,1668.0 321.0,1666.9 322.0,1668.0 323.0,1666.3 324.0,1667.1 325.0,1668.7 326.0,1667.4 327.0,1668.3 328.0,1668.2 329.0,1667.2 330.0,1665.9 331.0,1668.7 332.0,1667.8 333.0,1668.8 334.0,1665.4 335.0,1665.8 336.0,1665.3 337.0,1666.7 338.0,1668.9 339.0,1668.4 340.0,1667.7 341.0,1667.9 342.0,1668.6 343.0,1667.5 344.0,1668.3 345.0,1668.0 346.0,1665.4 347.0,1667.4 348.0,1669.4 349.0,1667.4 350.0,1667.7 351.0,1667.2 352.0,1667.3 353.0,1669.2 354.0,1667.6 355.0,1666.8 356.0,1664.4 357.0,1667.3 358.0,1665.7 359.0,1665.9 360.0,1668.8 361.0,1668.7 362.0,1665.8 363.0,1668.9 364.0,1668.4 365.0,1667.1 366.0,1668.8 367.0,1666.1 368.0,1666.6 369.0,1666.3 370.0,1666.7 371.0,1668.9 372.0,1666.5 373.0,1666.7 374.0,1666.9 375.0,1668.2 376.0,1667.6 377.0,1668.9 378.0,1667.2 379.0,1666.5 380.0,1667.4 381.0,1668.0 382.0,1666.9 383.0,1668.3 384.0,1670.0 385.0,1667.3 386.0,1668.0 387.0,1669.5 388.0,1667.2 389.0,1667.0 390.0,1666.7 391.0,1668.4 392.0,1668.5 393.0,1667.8 394.0,1668.0 395.0,1669.4 396.0,1668.9 397.0,1666.4 398.0,1667.9 399.0,1668.1 400.0,1668.8 401.0,1667.7 402.0,1667.2 403.0,1667.4 404.0,1665.9 405.0,1667.9 406.0,1667.3 407.0,1668.5 408.0,1666.8 409.0,1667.4 410.0,1666.8 411.0,1666.7 412.0,1668.7 413.0,1667.4 414.0,1668.4 415.0,1666.6 416.0,1668.0 417.0,1666.0 418.0,1667.3 419.0,1667.3 420.0,1668.5 421.0,1668.0 422.0,1667.6 423.0,1668.8 424.0,1668.0 425.0,1668.4 426.0,1668.6 427.0,1667.7 428.0,1667.4 429.0,1668.1 430.0,1667.2 431.0,1668.1 432.0,1668.8 433.0,1668.5 434.0,1667.1 435.0,1666.0 436.0,1667.3 437.0,1667.2 438.0,1668.5 439.0,1666.7 440.0,1666.8 441.0,1667.8 442.0,1666.2 443.0,1666.4 444.0,1668.2 445.0,1667.6 446.0,1666.1 447.0,1665.0 448.0,1662.6 449.0,1663.3 450.0,1661.3 451.0,1659.7 452.0,1656.8 453.0,1655.3 454.0,1652.7 455.0,1651.1 456.0,1650.7 457.0,1648.1 458.0,1645.1 459.0,1646.5 460.0,1647.2 461.0,1650.2 462.0,1654.2 463.0,1656.2 464.0,1657.2 465.0,1660.2 466.0,1660.6 467.0,1661.2 468.0,1662.4 469.0,1663.9 470.0,1667.2 471.0,1664.5 472.0,1667.8 473.0,1668.2 474.0,1666.7 475.0,1667.0 476.0,1666.5 477.0,1667.3 478.0,1668.1 479.0,1667.5 480.0,1668.7 481.0,1668.9 482.0,1668.0 483.0,1668.1 484.0,1667.7 485.0,1668.2 486.0,1666.6 487.0,1668.3 488.0,1668.1 489.0,1666.9 490.0,1670.3 491.0,1666.9 492.0,1667.0 493.0,1668.3 494.0,1665.8 495.0,1667.1 496.0,1666.3 497.0,1667.0 498.0,1667.9 499.0,1668.4 500.0,1669.3 501.0,1669.0 502.0,1669.4 503.0,1668.8 504.0,1667.6 505.0,1669.4 506.0,1667.6 507.0,1667.5 508.0,1669.9 509.0,1669.1 510.0,1668.4 511.0,1669.0 512.0,1669.2 513.0,1666.7 514.0,1668.1 515.0,1666.9 516.0,1668.4 517.0,1667.5 518.0,1669.8 519.0,1668.8 520.0,1667.3 521.0,1668.2 522.0,1666.9 523.0,1668.3 524.0,1668.9 525.0,1668.6 526.0,1666.1 527.0,1667.9 528.0,1668.9 529.0,1668.6 530.0,1669.6 531.0,1666.9 532.0,1668.9 533.0,1667.6 534.0,1668.5 535.0,1668.8 536.0,1669.1 537.0,1667.7 538.0,1668.5 539.0,1667.0 540.0,1666.8 541.0,1669.0 542.0,1668.3 543.0,1666.5 544.0,1667.4 545.0,1668.4 546.0,1670.1 547.0,1669.5 548.0,1669.2 549.0,1666.4 550.0,1668.3 551.0,1668.9 552.0,1668.8 553.0,1668.8 554.0,1668.1 555.0,1670.3 556.0,1670.0 557.0,1668.3 558.0,1667.3 559.0,1670.7 560.0,1667.8 561.0,1669.7 562.0,1670.5 563.0,1667.4 564.0,1668.7 565.0,1668.0 566.0,1669.0 567.0,1668.8 568.0,1670.6 569.0,1669.1 570.0,1668.4 571.0,1669.7 572.0,1668.1 573.0,1668.0 574.0,1670.9 575.0,1667.5 576.0,1667.9 577.0,1668.5 578.0,1667.3 579.0,1666.1 580.0,1669.6 581.0,1667.6 582.0,1667.8 583.0,1668.0 584.0,1667.4 585.0,1667.3 586.0,1668.6 587.0,1671.1 588.0,1669.3 589.0,1669.3 590.0,1666.8 591.0,1668.4 592.0,1667.1 593.0,1669.3 594.0,1668.2 595.0,1668.5 596.0,1668.4 597.0,1667.8 598.0,1666.8 599.0,1669.1 600.0,1666.9 601.0,1667.2 602.0,1668.1 603.0,1667.7 604.0,1668.8 605.0,1669.6 606.0,1668.8 607.0,1668.7 608.0,1668.5 609.0,1669.4 610.0,1666.4 611.0,1668.9 612.0,1667.4 613.0,1667.1 614.0,1668.5 615.0,1668.1 616.0,1669.1 617.0,1669.7 618.0,1665.9 619.0,1668.4 620.0,1670.7 621.0,1669.5 622.0,1670.1 623.0,1668.6 624.0,1666.9 625.0,1667.2 626.0,1669.3 627.0,1669.6 628.0,1667.7 629.0,1668.2 630.0,1668.8 631.0,1666.5 632.0,1668.1 633.0,1670.3 634.0,1670.9 635.0,1668.4 636.0,1670.5 637.0,1667.9 638.0,1667.6 639.0,1666.0 640.0,1669.6 641.0,1668.1 642.0,1671.1 643.0,1668.9 644.0,1668.7 645.0,1666.5 646.0,1670.2 647.0,1668.1 648.0,1668.3 649.0,1666.0 650.0,1669.5 651.0,1669.6 652.0,1667.8 653.0,1668.6 654.0,1668.9 655.0,1669.5 656.0,1668.6 657.0,1670.4 658.0,1668.2 659.0,1667.8 660.0,1667.9 661.0,1665.6 662.0,1667.6 663.0,1669.6 664.0,1668.7 665.0,1667.5 666.0,1668.8 667.0,1666.2 668.0,1668.1 669.0,1669.0 670.0,1669.2 671.0,1667.6 672.0,1669.4 673.0,1670.5 674.0,1667.9 675.0,1669.2 676.0,1666.7 677.0,1666.2 678.0,1669.1 679.0,1668.4 680.0,1668.6 681.0,1667.7 682.0,1668.0 683.0,1669.2 684.0,1670.2 685.0,1668.1 686.0,1666.4 687.0,1669.7 688.0,1668.9 689.0,1669.0 690.0,1668.4 691.0,1670.8 692.0,1668.3 693.0,1668.7 694.0,1666.1 695.0,1667.5 696.0,1667.3 697.0,1668.0 698.0,1668.4 699.0,1667.1 700.0,1669.9 701.0,1666.7 702.0,1667.4 703.0,1668.1 704.0,1666.4 705.0,1668.3 706.0,1668.4 707.0,1667.2 708.0,1669.6 709.0,1667.5 710.0,1667.6 711.0,1666.1 712.0,1665.2 713.0,1666.2 714.0,1666.4 715.0,1666.0 716.0,1667.2 717.0,1663.3 718.0,1664.3 719.0,1663.0 720.0,1666.1 721.0,1663.0 722.0,1662.1 723.0,1660.1 724.0,1660.9 725.0,1657.3 726.0,1655.8 727.0,1650.2 728.0,1651.2 729.0,1646.8 730.0,1643.5 731.0,1640.9 732.0,1635.7 733.0,1632.9 734.0,1632.3 735.0,1631.3 736.0,1631.0 737.0,1633.2 738.0,1635.2 739.0,1640.2 740.0,1644.0 741.0,1646.3 742.0,1652.1 743.0,1650.8 744.0,1655.2 745.0,1659.9 746.0,1659.3 747.0,1659.5 748.0,1664.4 749.0,1664.4 750.0,1663.1 751.0,1666.1 752.0,1664.5 753.0,1664.5 754.0,1666.2 755.0,1666.0 756.0,1665.5 757.0,1666.5 758.0,1666.0 759.0,1667.3 760.0,1667.3 761.0,1668.3 762.0,1667.0 763.0,1666.1 764.0,1666.2 765.0,1667.5 766.0,1669.5 767.0,1668.8 768.0,1667.2 769.0,1669.0 770.0,1666.7 771.0,1669.2 772.0,1667.6 773.0,1669.0 774.0,1668.8 775.0,1667.8 776.0,1668.6 777.0,1667.0 778.0,1668.1 779.0,1669.5 780.0,1672.9 781.0,1669.1 782.0,1668.4 783.0,1667.2 784.0,1669.5 785.0,1666.5 786.0,1667.5 787.0,1668.8 788.0,1667.1 789.0,1670.1 790.0,1669.6 791.0,1667.8 792.0,1667.8 793.0,1667.0 794.0,1666.9 795.0,1669.0 796.0,1669.2 797.0,1668.9 798.0,1668.8 799.0,1667.9 800.0,1668.9 801.0,1666.9 802.0,1668.5 803.0,1670.2 804.0,1670.0 805.0,1668.0 806.0,1668.2 807.0,1670.1 808.0,1670.5 809.0,1666.9 810.0,1668.1 811.0,1668.8 812.0,1669.9 813.0,1667.6 814.0,1669.3 815.0,1668.2 816.0,1671.2 817.0,1669.0 818.0,1668.4 819.0,1668.2 820.0,1669.7 821.0,1669.3 822.0,1667.4 823.0,1668.8 824.0,1667.1 825.0,1667.7 826.0,1667.1 827.0,1667.1 828.0,1667.8 829.0,1667.5 830.0,1669.2 831.0,1669.5 832.0,1668.3 833.0,1667.3 834.0,1669.5 835.0,1666.3 836.0,1666.4 837.0,1669.4 838.0,1669.3 839.0,1669.7 840.0,1668.4 841.0,1667.2 842.0,1668.0 843.0,1669.2 844.0,1667.7 845.0,1667.8 846.0,1667.0 847.0,1667.3 848.0,1669.5 849.0,1669.1 850.0,1667.3 851.0,1667.4 852.0,1668.0 853.0,1669.2 854.0,1667.3 855.0,1668.4 856.0,1666.2 857.0,1667.2 858.0,1669.1 859.0,1669.6 860.0,1667.3 861.0,1667.7 862.0,1669.5 863.0,1668.1 864.0,1668.0 865.0,1669.1 866.0,1668.8 867.0,1669.8 868.0,1669.5 869.0,1667.9 870.0,1668.4 871.0,1668.5 872.0,1667.0 873.0,1667.5 874.0,1669.6 875.0,1666.8 876.0,1669.7 877.0,1668.9 878.0,1668.4 879.0,1669.1 880.0,1669.1 881.0,1669.9 882.0,1668.1 883.0,1668.3 884.0,1668.3 885.0,1670.6 886.0,1669.6 887.0,1667.5 888.0,1668.1 889.0,1667.7 890.0,1668.5 891.0,1668.7 892.0,1671.1 893.0,1666.5 894.0,1669.6 895.0,1669.0 896.0,1667.7 897.0,1668.3 898.0,1667.9 899.0,1668.5 900.0,1669.6 901.0,1666.8 902.0,1669.9 903.0,1668.0 904.0,1670.1 905.0,1668.9 906.0,1669.8 907.0,1669.1 908.0,1669.6 909.0,1668.5 910.0,1667.5 911.0,1669.1 912.0,1669.2 913.0,1670.7 914.0,1666.1 915.0,1668.1 916.0,1669.5 917.0,1666.9 918.0,1668.0 919.0,1670.7 920.0,1669.9 921.0,1667.3 922.0,1669.8 923.0,1669.5 924.0,1669.1 925.0,1668.6 926.0,1668.4 927.0,1667.2 928.0,1667.5 929.0,1668.9 930.0,1668.2 931.0,1670.1 932.0,1667.7 933.0,1665.3 934.0,1667.6 935.0,1668.3 936.0,1668.4 937.0,1668.0 938.0,1667.0 939.0,1669.5 940.0,1667.1 941.0,1668.6 942.0,1667.5 943.0,1666.4 944.0,1669.3 945.0,1664.9 946.0,1666.7 947.0,1668.1 948.0,1667.2 949.0,1668.4 950.0,1667.4 951.0,1667.0 952.0,1669.9 953.0,1667.2 954.0,1667.2 955.0,1666.1 956.0,1666.5 957.0,1668.0 958.0,1667.9 959.0,1667.2 960.0,1666.3 961.0,1667.9 962.0,1665.1 963.0,1666.6 964.0,1666.7 965.0,1666.0 966.0,1667.1 967.0,1666.1 968.0,1665.9 969.0,1668.8 970.0,1667.5 971.0,1668.0 972.0,1666.6 973.0,1667.6 974.0,1667.4 975.0,1667.8 976.0,1669.1 977.0,1666.0 978.0,1666.5 979.0,1666.1 980.0,1662.1 981.0,1664.5 982.0,1666.0 983.0,1666.7 984.0,1665.2 985.0,1667.1 986.0,1667.2 987.0,1665.2 988.0,1667.2 989.0,1667.5 990.0,1666.0 991.0,1664.2 992.0,1667.0 993.0,1665.0 994.0,1664.7 995.0,1665.2 996.0,1664.3 997.0,1666.1 998.0,1665.6 999.0,1666.1 1000.0,1665.2 1001.0,1663.5 1002.0,1664.1 1003.0,1665.2 1004.0,1663.6 1005.0,1667.3 1006.0,1663.4 1007.0,1662.8 1008.0,1664.7 1009.0,1664.0 1010.0,1662.9 1011.0,1662.4 1012.0,1662.9 1013.0,1663.2 1014.0,1662.8 1015.0,1661.3 1016.0,1661.8 1017.0,1662.0 1018.0,1661.6 1019.0,1656.6 1020.0,1658.9 1021.0,1658.7 1022.0,1659.0 1023.0,1659.1 1024.0,1659.6 1025.0,1658.8 1026.0,1657.5 1027.0,1657.2 1028.0,1658.8 1029.0,1655.4 1030.0,1656.0 1031.0,1657.0 1032.0,1654.9 1033.0,1651.3 1034.0,1653.7 1035.0,1652.1 1036.0,1651.7 1037.0,1652.4 1038.0,1650.8 1039.0,1649.0 1040.0,1649.6 1041.0,1648.0 1042.0,1646.5 1043.0,1645.5 1044.0,1644.2 1045.0,1642.0 1046.0,1640.2 1047.0,1639.1 1048.0,1635.8 1049.0,1633.2 1050.0,1634.1 1051.0,1629.0 1052.0,1625.9 1053.0,1621.7 1054.0,1617.2 1055.0,1611.6 1056.0,1605.1 1057.0,1596.1 1058.0,1589.7 1059.0,1576.8 1060.0,1567.4 1061.0,1549.1 1062.0,1535.1 1063.0,1521.7 1064.0,1501.9 1065.0,1482.6 1066.0,1466.6 1067.0,1448.4 1068.0,1438.5 1069.0,1427.7 1070.0,1430.6 1071.0,1434.9 1072.0,1446.1 1073.0,1459.6 1074.0,1472.5 1075.0,1494.8 1076.0,1510.1 1077.0,1526.8 1078.0,1544.6 1079.0,1567.5 1080.0,1579.6 1081.0,1590.9 1082.0,1600.4 1083.0,1607.1 1084.0,1615.6 1085.0,1616.5 1086.0,1620.6 1087.0,1618.1 1088.0,1614.7 1089.0,1618.5 1090.0,1616.1 1091.0,1615.8 1092.0,1618.5 1093.0,1616.2 1094.0,1618.5 1095.0,1617.1 1096.0,1616.2 1097.0,1618.3 1098.0,1617.0 1099.0,1620.0 1100.0,1620.0 1101.0,1619.2 1102.0,1620.5 1103.0,1621.0 1104.0,1620.4 1105.0,1622.7 1106.0,1621.8 1107.0,1623.7 1108.0,1622.3 1109.0,1624.6 1110.0,1625.8 1111.0,1625.0 1112.0,1626.4 1113.0,1627.1 1114.0,1629.7 1115.0,1628.6 1116.0,1631.1 1117.0,1633.5 1118.0,1632.8 1119.0,1631.0 1120.0,1634.2 1121.0,1636.3 1122.0,1635.3 1123.0,1638.0 1124.0,1638.1 1125.0,1638.6 1126.0,1638.4 1127.0,1638.7 1128.0,1639.7 1129.0,1640.7 1130.0,1641.8 1131.0,1642.2 1132.0,1641.7 1133.0,1642.5 1134.0,1643.2 1135.0,1640.7 1136.0,1642.0 1137.0,1642.0 1138.0,1642.7 1139.0,1642.4 1140.0,1642.2 1141.0,1641.1 1142.0,1642.7 1143.0,1641.7 1144.0,1638.6 1145.0,1640.2 1146.0,1638.1 1147.0,1641.2 1148.0,1637.7 1149.0,1637.3 1150.0,1637.4 1151.0,1636.6 1152.0,1636.5 1153.0,1638.6 1154.0,1636.8 1155.0,1637.8 1156.0,1638.6 1157.0,1636.3 1158.0,1640.5 1159.0,1639.9 1160.0,1641.1 1161.0,1639.6 1162.0,1642.7 1163.0,1643.0 1164.0,1642.7 1165.0,1647.2 1166.0,1645.7 1167.0,1645.4 1168.0,1646.7 1169.0,1648.2 1170.0,1649.1 1171.0,1648.9 1172.0,1650.1 1173.0,1650.8 1174.0,1647.6 1175.0,1648.9 1176.0,1648.5 1177.0,1650.0 1178.0,1651.9 1179.0,1651.0 1180.0,1648.9 1181.0,1650.0 1182.0,1651.7 1183.0,1649.8 1184.0,1650.4 1185.0,1650.9 1186.0,1648.2 1187.0,1651.5 1188.0,1651.0 1189.0,1651.3 1190.0,1649.3 1191.0,1649.6 1192.0,1649.8 1193.0,1650.9 1194.0,1650.7 1195.0,1650.7 1196.0,1652.8 1197.0,1652.2 1198.0,1649.6 1199.0,1649.7 1200.0,1652.7 1201.0,1650.1 1202.0,1652.2 1203.0,1652.5 1204.0,1649.8 1205.0,1650.1 1206.0,1650.6 1207.0,1649.3 1208.0,1649.2 1209.0,1649.9 1210.0,1651.5 1211.0,1649.8 1212.0,1650.1 1213.0,1649.8 1214.0,1648.6 1215.0,1652.2 1216.0,1647.3 1217.0,1649.5 1218.0,1651.0 1219.0,1648.5 1220.0,1651.0 1221.0,1651.8 1222.0,1649.1 1223.0,1650.5 1224.0,1648.8 1225.0,1650.8 1226.0,1650.3 1227.0,1650.4 1228.0,1651.9 1229.0,1650.7 1230.0,1651.8 1231.0,1650.9 1232.0,1648.6 1233.0,1650.4 1234.0,1650.7 1235.0,1648.2 1236.0,1651.7 1237.0,1650.1 1238.0,1650.5 1239.0,1648.8 1240.0,1650.0 1241.0,1650.3 1242.0,1649.5 1243.0,1650.0 1244.0,1647.2 1245.0,1651.6 1246.0,1648.4 1247.0,1647.1 1248.0,1648.6 1249.0,1648.8 1250.0,1650.5 1251.0,1648.6 1252.0,1650.1 1253.0,1648.5 1254.0,1652.6 1255.0,1650.4 1256.0,1652.2 1257.0,1648.4 1258.0,1650.5 1259.0,1648.4 1260.0,1650.4 1261.0,1650.5 1262.0,1647.6 1263.0,1648.1 1264.0,1648.1 1265.0,1647.6 1266.0,1648.6 1267.0,1648.3 1268.0,1647.7 1269.0,1649.6 1270.0,1650.2 1271.0,1647.8 1272.0,1648.7 1273.0,1649.4 1274.0,1649.1 1275.0,1648.5 1276.0,1650.4 1277.0,1650.4 1278.0,1650.2 1279.0,1649.0 1280.0,1651.8 1281.0,1651.5 1282.0,1648.7 1283.0,1649.0 1284.0,1650.7 1285.0,1648.1 1286.0,1649.6 1287.0,1649.2 1288.0,1648.2 1289.0,1648.7 1290.0,1647.0 1291.0,1648.3 1292.0,1646.4 1293.0,1651.8 1294.0,1650.8 1295.0,1650.4 1296.0,1649.2 1297.0,1650.0 1298.0,1650.4 1299.0,1650.0 1300.0,1649.8 1301.0,1647.4 1302.0,1649.1 1303.0,1647.8 1304.0,1646.9 1305.0,1646.9 1306.0,1648.8 1307.0,1649.6 1308.0,1646.4 1309.0,1650.3 1310.0,1649.8 1311.0,1647.3 1312.0,1647.1 1313.0,1647.5 1314.0,1648.7 1315.0,1646.8 1316.0,1645.6 1317.0,1647.3 1318.0,1643.9 1319.0,1646.4 1320.0,1647.3 1321.0,1645.7 1322.0,1645.6 1323.0,1644.5 1324.0,1643.8 1325.0,1641.8 1326.0,1639.1 1327.0,1638.1 1328.0,1636.3 1329.0,1635.7 1330.0,1633.5 1331.0,1629.0 1332.0,1624.2 1333.0,1620.9 1334.0,1618.4 1335.0,1617.5 1336.0,1613.3 1337.0,1610.7 1338.0,1608.4 1339.0,1610.6 1340.0,1610.5 1341.0,1611.8 1342.0,1614.5 1343.0,1619.7 1344.0,1620.3 1345.0,1626.2 1346.0,1628.7 1347.0,1630.1 1348.0,1634.0 1349.0,1635.1 1350.0,1636.3 1351.0,1638.9 1352.0,1639.6 1353.0,1642.7 1354.0,1643.1 1355.0,1644.7 1356.0,1645.7 1357.0,1641.1 1358.0,1646.0 1359.0,1643.6 1360.0,1646.4 1361.0,1645.2 1362.0,1646.7 1363.0,1648.4 1364.0,1644.5 1365.0,1647.1 1366.0,1646.8 1367.0,1644.5 1368.0,1647.7 1369.0,1647.0 1370.0,1646.2 1371.0,1645.9 1372.0,1651.0 1373.0,1646.3 1374.0,1644.4 1375.0,1645.4 1376.0,1646.1 1377.0,1645.9 1378.0,1646.2 1379.0,1644.8 1380.0,1646.7 1381.0,1645.2 1382.0,1643.9 1383.0,1644.3 1384.0,1644.6 1385.0,1646.0 1386.0,1645.2 1387.0,1643.8 1388.0,1643.9 1389.0,1643.7 1390.0,1645.6 1391.0,1641.6 1392.0,1642.4 1393.0,1642.0 1394.0,1639.0 1395.0,1639.5 1396.0,1638.4 1397.0,1636.2 1398.0,1635.9 1399.0,1634.6 1400.0,1632.5 1401.0,1627.9 1402.0,1625.1 1403.0,1624.2 1404.0,1614.8 1405.0,1611.2 1406.0,1606.0 1407.0,1597.8 1408.0,1590.6 1409.0,1581.0 1410.0,1572.3 1411.0,1562.8 1412.0,1549.7 1413.0,1539.5 1414.0,1528.6 1415.0,1518.5 1416.0,1511.1 1417.0,1503.5 1418.0,1503.9 1419.0,1505.9 1420.0,1509.4 1421.0,1515.0 1422.0,1519.7 1423.0,1533.7 1424.0,1540.7 1425.0,1552.8 1426.0,1566.5 1427.0,1572.2 1428.0,1584.8 1429.0,1592.7 1430.0,1599.9 1431.0,1605.9 1432.0,1613.9 1433.0,1618.0 1434.0,1624.6 1435.0,1628.7 1436.0,1628.4 1437.0,1632.4 1438.0,1635.0 1439.0,1635.8 1440.0,1637.5 1441.0,1640.5 1442.0,1641.3 1443.0,1640.4 1444.0,1642.8 1445.0,1644.9 1446.0,1643.4 1447.0,1644.3 1448.0,1648.1 1449.0,1648.3 1450.0,1645.0 1451.0,1645.7 1452.0,1648.3 1453.0,1646.7 1454.0,1648.2 1455.0,1648.3 1456.0,1649.9 1457.0,1646.2 1458.0,1646.9 1459.0,1648.4 1460.0,1651.4 1461.0,1650.2 1462.0,1648.4 1463.0,1651.4 1464.0,1651.8 1465.0,1650.8 1466.0,1650.8 1467.0,1652.0 1468.0,1653.1 1469.0,1651.9 1470.0,1652.5 1471.0,1651.9 1472.0,1651.6 1473.0,1651.0 1474.0,1652.6 1475.0,1652.0 1476.0,1652.2 1477.0,1653.8 1478.0,1653.3 1479.0,1653.9 1480.0,1650.9 1481.0,1653.7 1482.0,1652.3 1483.0,1652.1 1484.0,1652.1 1485.0,1654.8 1486.0,1654.4 1487.0,1652.5 1488.0,1652.0 1489.0,1653.5 1490.0,1653.0 1491.0,1655.7 1492.0,1651.8 1493.0,1651.4 1494.0,1653.4 1495.0,1653.7 1496.0,1653.8 1497.0,1654.6 1498.0,1656.2 1499.0,1653.2 1500.0,1652.9 1501.0,1651.3 1502.0,1653.7 1503.0,1654.3 1504.0,1652.8 1505.0,1654.5 1506.0,1652.9 1507.0,1654.6 1508.0,1652.9 1509.0,1650.9 1510.0,1651.2 1511.0,1649.9 1512.0,1649.4 1513.0,1651.7 1514.0,1652.2 1515.0,1653.4 1516.0,1650.7 1517.0,1650.3 1518.0,1649.0 1519.0,1651.6 1520.0,1650.8 1521.0,1649.5 1522.0,1651.2 1523.0,1651.2 1524.0,1648.2 1525.0,1651.8 1526.0,1651.2 1527.0,1650.8 1528.0,1651.1 1529.0,1654.2 1530.0,1654.3 1531.0,1655.0 1532.0,1651.6 1533.0,1652.6 1534.0,1654.9 1535.0,1652.6 1536.0,1653.6 1537.0,1652.6 1538.0,1657.4 1539.0,1656.7 1540.0,1656.3 1541.0,1656.2 1542.0,1655.7 1543.0,1656.0 1544.0,1657.4 1545.0,1656.0 1546.0,1658.6 1547.0,1656.6 1548.0,1656.3 1549.0,1659.1 1550.0,1657.5 1551.0,1658.5 1552.0,1657.5 1553.0,1655.3 1554.0,1658.9 1555.0,1656.7 1556.0,1659.8 1557.0,1656.7 1558.0,1656.4 1559.0,1659.1 1560.0,1659.4 1561.0,1659.1 1562.0,1657.6 1563.0,1660.2 1564.0,1657.4 1565.0,1658.8 1566.0,1658.5 1567.0,1659.0 1568.0,1660.6 1569.0,1658.9 1570.0,1660.4 1571.0,1660.7 1572.0,1657.8 1573.0,1658.6 1574.0,1659.6 1575.0,1659.4 1576.0,1660.6 1577.0,1657.9 1578.0,1661.2 1579.0,1661.3 1580.0,1660.3 1581.0,1658.9 1582.0,1660.6 1583.0,1660.0 1584.0,1661.4 1585.0,1660.6 1586.0,1661.7 1587.0,1660.3 1588.0,1662.6 1589.0,1658.2 1590.0,1659.7 1591.0,1661.6 1592.0,1659.2 1593.0,1661.9 1594.0,1659.6 1595.0,1661.2 1596.0,1660.0 1597.0,1660.6 1598.0,1661.4 1599.0,1661.0 1600.0,1660.7 1601.0,1663.8 1602.0,1661.2 1603.0,1660.0 1604.0,1662.3 1605.0,1662.2 1606.0,1662.7 1607.0,1663.3 1608.0,1660.1 1609.0,1662.5 1610.0,1662.6 1611.0,1661.2 1612.0,1661.5 1613.0,1657.6 1614.0,1660.5 1615.0,1663.3 1616.0,1659.1 1617.0,1660.6 1618.0,1661.5 1619.0,1661.9 1620.0,1663.2 1621.0,1659.1 1622.0,1661.3 1623.0,1662.2 1624.0,1659.6 1625.0,1661.2 1626.0,1663.5 1627.0,1662.8 1628.0,1661.9 1629.0,1658.1 1630.0,1661.1 1631.0,1661.7 1632.0,1660.8 1633.0,1661.1 1634.0,1664.9 1635.0,1660.9 1636.0,1660.0 1637.0,1661.5 1638.0,1660.8 1639.0,1660.8 1640.0,1661.1 1641.0,1662.1 1642.0,1661.5 1643.0,1659.8 1644.0,1661.0 1645.0,1661.8 1646.0,1660.6 1647.0,1662.6 1648.0,1662.1 1649.0,1660.0 1650.0,1661.6 1651.0,1663.6 1652.0,1663.0 1653.0,1661.1 1654.0,1662.2 1655.0,1660.4 1656.0,1659.4 1657.0,1661.8 1658.0,1661.4 1659.0,1661.8 1660.0,1661.1 1661.0,1661.5 1662.0,1660.5 1663.0,1661.7 1664.0,1662.1 1665.0,1661.1 1666.0,1662.1 1667.0,1659.0 1668.0,1660.2 1669.0,1662.8 1670.0,1663.2 1671.0,1661.4 1672.0,1661.0 1673.0,1659.6 1674.0,1661.5 1675.0,1662.0 1676.0,1659.3 1677.0,1661.7 1678.0,1661.6 1679.0,1661.6 1680.0,1659.7 1681.0,1661.7 1682.0,1659.2 1683.0,1662.8 1684.0,1661.2 1685.0,1659.6 1686.0,1662.6 1687.0,1662.4 1688.0,1660.2 1689.0,1663.6 1690.0,1659.8 1691.0,1661.3 1692.0,1662.4 1693.0,1658.2 1694.0,1662.1 1695.0,1660.9 1696.0,1660.9 1697.0,1659.6 1698.0,1661.3 1699.0,1659.6 1700.0,1659.7 1701.0,1660.3 1702.0,1659.4 1703.0,1662.7 1704.0,1659.3 1705.0,1659.9 1706.0,1660.4 1707.0,1660.8 1708.0,1661.8 1709.0,1661.8 1710.0,1660.4 1711.0,1660.3 1712.0,1660.8 1713.0,1661.7 1714.0,1661.6 1715.0,1660.1 1716.0,1658.2 1717.0,1663.3 1718.0,1661.8 1719.0,1661.0 1720.0,1661.0 1721.0,1660.0 1722.0,1659.4 1723.0,1660.2 1724.0,1660.3 1725.0,1659.8 1726.0,1658.8 1727.0,1660.1 1728.0,1661.2 1729.0,1659.9 1730.0,1660.5 1731.0,1657.9 1732.0,1660.1 1733.0,1660.2 1734.0,1658.9 1735.0,1658.2 1736.0,1660.8 1737.0,1659.3 1738.0,1660.8 1739.0,1659.7 1740.0,1660.9 1741.0,1659.7 1742.0,1658.3 1743.0,1660.0 1744.0,1659.7 1745.0,1660.8 1746.0,1659.4 1747.0,1659.5 1748.0,1660.9 1749.0,1661.3 1750.0,1660.7 1751.0,1661.0 1752.0,1660.3 1753.0,1660.6 1754.0,1660.7 1755.0,1660.1 1756.0,1659.6 1757.0,1659.7 1758.0,1662.3 1759.0,1659.4 1760.0,1659.0 1761.0,1658.8 1762.0,1659.1 1763.0,1659.3 1764.0,1657.5 1765.0,1656.3 1766.0,1659.0 1767.0,1656.5 1768.0,1658.5 1769.0,1658.2 1770.0,1659.1 1771.0,1659.5 1772.0,1657.5 1773.0,1656.0 1774.0,1654.8 1775.0,1654.7 1776.0,1655.2 1777.0,1652.0 1778.0,1654.0 1779.0,1653.2 1780.0,1653.3 1781.0,1651.3 1782.0,1651.1 1783.0,1649.3 1784.0,1648.9 1785.0,1646.5 1786.0,1648.3 1787.0,1649.6 1788.0,1647.4 1789.0,1647.4 1790.0,1645.5 1791.0,1648.7 1792.0,1646.0 1793.0,1648.4 1794.0,1648.0 1795.0,1647.1 1796.0,1650.3 1797.0,1649.7 1798.0,1650.6 1799.0,1651.6 1800.0,1651.7 1801.0,1651.8 1802.0,1653.5 1803.0,1653.0 1804.0,1654.1 1805.0,1653.7 1806.0,1653.1 1807.0,1654.4 1808.0,1655.0 1809.0,1655.9 1810.0,1657.6 1811.0,1654.2 1812.0,1656.6 1813.0,1653.8 1814.0,1655.4 1815.0,1656.1 1816.0,1654.0 1817.0,1654.6 1818.0,1657.1 1819.0,1657.0 1820.0,1656.8 1821.0,1655.9 1822.0,1659.5 1823.0,1656.7 1824.0,1655.8 1825.0,1658.9 1826.0,1657.6 1827.0,1656.4 1828.0,1658.3 1829.0,1657.0 1830.0,1657.6 1831.0,1657.0 1832.0,1655.5 1833.0,1657.9 1834.0,1656.9 1835.0,1655.4 1836.0,1655.7 1837.0,1657.8 1838.0,1656.1 1839.0,1656.6 1840.0,1657.3 1841.0,1656.7 1842.0,1654.6 1843.0,1657.3 1844.0,1657.6 1845.0,1657.5 1846.0,1658.4 1847.0,1656.8 1848.0,1657.3 1849.0,1658.3 1850.0,1656.0 1851.0,1658.4 1852.0,1658.4 1853.0,1657.2 1854.0,1658.5 1855.0,1657.3 1856.0,1655.1 1857.0,1657.6 1858.0,1656.6 1859.0,1656.7 1860.0,1656.4 1861.0,1657.8 1862.0,1656.8 1863.0,1655.3 1864.0,1656.7 1865.0,1657.0 1866.0,1655.2 1867.0,1655.6 1868.0,1655.6 1869.0,1655.4 1870.0,1656.5 1871.0,1657.4 1872.0,1658.5 1873.0,1657.6 1874.0,1657.4 1875.0,1657.5 1876.0,1657.8 1877.0,1655.7 1878.0,1657.0 1879.0,1656.5 1880.0,1656.0 1881.0,1655.6 1882.0,1655.5 1883.0,1655.8 1884.0,1654.7 1885.0,1656.8 1886.0,1656.2 1887.0,1656.4 1888.0,1656.7 1889.0,1657.1 1890.0,1655.5 1891.0,1656.2 1892.0,1654.3 1893.0,1653.6 1894.0,1653.9 1895.0,1658.3 1896.0,1654.1 1897.0,1657.0 1898.0,1658.2 1899.0,1655.9 1900.0,1658.5 1901.0,1658.8 1902.0,1657.7 1903.0,1659.5 1904.0,1657.3 1905.0,1655.7 1906.0,1657.2 1907.0,1656.1 1908.0,1655.0 1909.0,1655.1 1910.0,1659.6 1911.0,1656.1 1912.0,1656.7 1913.0,1656.0 1914.0,1657.0 1915.0,1656.5 1916.0,1656.4 1917.0,1655.4 1918.0,1655.2 1919.0,1656.0 1920.0,1657.3 1921.0,1659.5 1922.0,1658.3 1923.0,1659.3 1924.0,1657.7 1925.0,1657.0 1926.0,1655.5 1927.0,1657.1 1928.0,1654.5 1929.0,1656.8 1930.0,1659.2 1931.0,1657.6 1932.0,1658.6 1933.0,1656.8 1934.0,1655.6 1935.0,1656.7 1936.0,1656.8 1937.0,1658.8 1938.0,1659.7 1939.0,1656.4 1940.0,1656.8 1941.0,1657.1 1942.0,1656.9 1943.0,1655.7 1944.0,1657.4 1945.0,1657.7 1946.0,1657.7 1947.0,1655.7 1948.0,1657.1 1949.0,1655.0 1950.0,1658.3 1951.0,1655.8 1952.0,1656.7 1953.0,1656.4 1954.0,1656.2 1955.0,1655.6 1956.0,1654.6 1957.0,1658.9 1958.0,1656.9 1959.0,1656.9 1960.0,1659.0 1961.0,1656.2 1962.0,1656.8 1963.0,1656.0 1964.0,1657.3 1965.0,1656.2 1966.0,1655.8 1967.0,1654.8 1968.0,1655.2 1969.0,1656.0 1970.0,1651.5 1971.0,1653.5 1972.0,1652.7 1973.0,1652.2 1974.0,1649.4 1975.0,1652.0 1976.0,1648.9 1977.0,1648.4 1978.0,1646.5 1979.0,1643.0 1980.0,1642.1 1981.0,1637.2 1982.0,1634.7 1983.0,1631.1 1984.0,1626.3 1985.0,1620.3 1986.0,1613.1 1987.0,1608.6 1988.0,1597.8 1989.0,1586.6 1990.0,1578.8 1991.0,1570.7 1992.0,1564.8 1993.0,1559.7 1994.0,1557.8 1995.0,1563.3 1996.0,1565.2 1997.0,1571.2 1998.0,1579.4 1999.0,1588.2 2000.0,1599.4 2001.0,1606.4 2002.0,1615.1 2003.0,1616.1 2004.0,1627.1 2005.0,1633.3 2006.0,1639.0 2007.0,1640.1 2008.0,1640.9 2009.0,1646.4 2010.0,1646.8 2011.0,1646.9 2012.0,1649.8 2013.0,1652.9 2014.0,1654.0 2015.0,1654.1 2016.0,1652.5 2017.0,1657.5 2018.0,1653.3 2019.0,1655.1 2020.0,1653.7 2021.0,1657.5 2022.0,1656.7 2023.0,1657.5 2024.0,1656.7 2025.0,1656.7 2026.0,1657.1 2027.0,1654.7 2028.0,1658.4 2029.0,1658.4 2030.0,1656.9 2031.0,1657.4 2032.0,1657.8 2033.0,1659.4 2034.0,1658.0 2035.0,1657.5 2036.0,1656.8 2037.0,1655.5 2038.0,1656.4 2039.0,1657.1 2040.0,1656.5 2041.0,1656.7 2042.0,1657.2 2043.0,1656.5 2044.0,1655.9 2045.0,1656.0 2046.0,1654.9 2047.0,1654.1 2048.0,1654.2 2049.0,1650.8 2050.0,1653.9 2051.0,1650.0 2052.0,1652.0 2053.0,1650.2 2054.0,1650.9 2055.0,1648.8 2056.0,1646.8 2057.0,1648.8 2058.0,1647.0 2059.0,1646.4 2060.0,1645.9 2061.0,1646.8 2062.0,1646.4 2063.0,1645.6 2064.0,1643.3 2065.0,1645.1 2066.0,1646.1 2067.0,1648.7 2068.0,1647.5 2069.0,1647.5 2070.0,1649.9 2071.0,1649.0 2072.0,1649.9 2073.0,1650.9 2074.0,1649.6 2075.0,1653.4 2076.0,1653.5 2077.0,1653.3 2078.0,1652.9 2079.0,1655.2 2080.0,1657.3 2081.0,1655.3 2082.0,1655.3 2083.0,1657.5 2084.0,1655.5 2085.0,1655.1 2086.0,1657.6 2087.0,1657.5 2088.0,1658.3 2089.0,1658.2 2090.0,1659.4 2091.0,1658.9 2092.0,1658.6 2093.0,1658.9 2094.0,1660.3 2095.0,1660.8 2096.0,1660.8 2097.0,1660.7 2098.0,1655.9 2099.0,1658.7 2100.0,1659.6 2101.0,1660.3 2102.0,1658.1 2103.0,1661.8 2104.0,1660.5 2105.0,1659.4 2106.0,1660.4 2107.0,1659.8 2108.0,1659.4 2109.0,1660.9 2110.0,1659.8 2111.0,1658.7 2112.0,1659.7 2113.0,1660.3 2114.0,1659.2 2115.0,1662.1 2116.0,1659.3 2117.0,1662.7 2118.0,1661.7 2119.0,1659.6 2120.0,1660.9 2121.0,1662.2 2122.0,1660.6 2123.0,1659.4 2124.0,1661.0 2125.0,1663.3 2126.0,1659.2 2127.0,1661.7 2128.0,1661.1 2129.0,1661.0 2130.0,1660.7 2131.0,1660.8 2132.0,1662.5 2133.0,1662.0 2134.0,1660.1 2135.0,1663.2 2136.0,1659.9 2137.0,1662.2 2138.0,1661.7 2139.0,1663.0 2140.0,1662.0 2141.0,1662.8 2142.0,1661.6 2143.0,1662.8 2144.0,1662.1 2145.0,1664.2 2146.0,1660.8 2147.0,1663.1 2148.0,1662.2 2149.0,1661.9 2150.0,1661.0 2151.0,1662.1 2152.0,1659.8 2153.0,1659.9 2154.0,1662.3 2155.0,1659.5 2156.0,1662.9 2157.0,1660.8 2158.0,1661.3 2159.0,1660.9 2160.0,1661.2 2161.0,1660.1 2162.0,1659.8 2163.0,1659.9 2164.0,1661.1 2165.0,1661.0 2166.0,1660.9 2167.0,1659.5 2168.0,1658.6 2169.0,1656.5 2170.0,1659.1 2171.0,1659.1 2172.0,1657.4 2173.0,1658.6 2174.0,1659.0 2175.0,1657.4 2176.0,1658.4 2177.0,1657.4 2178.0,1654.8 2179.0,1656.3 2180.0,1656.3 2181.0,1657.5 2182.0,1655.9 2183.0,1656.6 2184.0,1656.1 2185.0,1657.5 2186.0,1657.8 2187.0,1659.2 2188.0,1659.3 2189.0,1658.9 2190.0,1659.3 2191.0,1659.5 2192.0,1659.9 2193.0,1662.0 2194.0,1657.5 2195.0,1660.7 2196.0,1661.7 2197.0,1663.0 2198.0,1660.7 2199.0,1662.8 2200.0,1663.7 2201.0,1662.5 2202.0,1661.1 2203.0,1663.2 2204.0,1662.5 2205.0,1664.9 2206.0,1663.4 2207.0,1666.7 2208.0,1665.0 2209.0,1664.1 2210.0,1664.6 2211.0,1664.1 2212.0,1665.9 2213.0,1667.4 2214.0,1665.5" fill="none" stroke="#FF363C" stroke-width="5.9" stroke-linejoin="round" stroke-linecap="butt"/>
<polyline points="188.0,1371.8 189.0,1370.4 190.0,1371.2 191.0,1372.5 192.0,1371.8 193.0,1372.9 194.0,1373.2 195.0,1371.7 196.0,1371.7 197.0,1371.6 198.0,1371.1 199.0,1371.9 200.0,1372.0 201.0,1371.6 202.0,1372.8 203.0,1373.5 204.0,1373.0 205.0,1372.8 206.0,1372.7 207.0,1373.2 208.0,1372.9 209.0,1373.2 210.0,1372.7 211.0,1371.6 212.0,1371.3 213.0,1371.3 214.0,1372.3 215.0,1373.3 216.0,1372.7 217.0,1371.9 218.0,1372.1 219.0,1371.7 220.0,1371.3 221.0,1371.7 222.0,1371.4 223.0,1371.5 224.0,1372.4 225.0,1372.0 226.0,1371.5 227.0,1371.1 228.0,1372.6 229.0,1372.7 230.0,1372.5 231.0,1373.6 232.0,1372.5 233.0,1371.6 234.0,1372.4 235.0,1373.9 236.0,1372.9 237.0,1371.8 238.0,1372.9 239.0,1373.2 240.0,1373.7 241.0,1373.3 242.0,1372.5 243.0,1372.2 244.0,1373.0 245.0,1373.3 246.0,1371.0 247.0,1371.3 248.0,1372.5 249.0,1373.5 250.0,1373.5 251.0,1372.4 252.0,1372.9 253.0,1373.8 254.0,1373.5 255.0,1373.2 256.0,1373.5 257.0,1372.8 258.0,1372.6 259.0,1372.8 260.0,1372.3 261.0,1372.9 262.0,1372.7 263.0,1372.6 264.0,1373.9 265.0,1373.2 266.0,1372.3 267.0,1372.3 268.0,1372.9 269.0,1373.5 270.0,1373.4 271.0,1373.5 272.0,1373.1 273.0,1372.7 274.0,1372.2 275.0,1372.5 276.0,1373.4 277.0,1372.8 278.0,1373.3 279.0,1373.9 280.0,1371.8 281.0,1371.5 282.0,1372.2 283.0,1372.8 284.0,1374.9 285.0,1374.1 286.0,1372.8 287.0,1372.9 288.0,1373.1 289.0,1373.6 290.0,1374.1 291.0,1373.2 292.0,1373.4 293.0,1373.4 294.0,1372.8 295.0,1373.9 296.0,1374.1 297.0,1373.0 298.0,1372.3 299.0,1372.5 300.0,1372.9 301.0,1373.8 302.0,1373.1 303.0,1372.8 304.0,1373.8 305.0,1373.8 306.0,1373.8 307.0,1374.3 308.0,1374.3 309.0,1374.0 310.0,1374.0 311.0,1374.5 312.0,1373.2 313.0,1373.0 314.0,1373.9 315.0,1373.1 316.0,1372.7 317.0,1371.9 318.0,1372.2 319.0,1372.8 320.0,1373.3 321.0,1372.9 322.0,1373.4 323.0,1374.3 324.0,1373.4 325.0,1372.9 326.0,1372.7 327.0,1372.5 328.0,1372.6 329.0,1373.2 330.0,1373.4 331.0,1372.7 332.0,1372.6 333.0,1372.9 334.0,1373.2 335.0,1374.6 336.0,1374.9 337.0,1373.7 338.0,1372.6 339.0,1372.0 340.0,1372.0 341.0,1373.1 342.0,1373.6 343.0,1373.3 344.0,1373.4 345.0,1373.4 346.0,1374.5 347.0,1374.1 348.0,1373.1 349.0,1373.1 350.0,1373.7 351.0,1373.6 352.0,1372.6 353.0,1372.4 354.0,1372.3 355.0,1373.3 356.0,1375.4 357.0,1374.6 358.0,1373.8 359.0,1374.4 360.0,1373.4 361.0,1373.1 362.0,1373.6 363.0,1373.3 364.0,1374.5 365.0,1373.9 366.0,1373.1 367.0,1374.3 368.0,1373.8 369.0,1373.7 370.0,1374.4 371.0,1374.5 372.0,1374.2 373.0,1374.5 374.0,1373.2 375.0,1373.7 376.0,1376.0 377.0,1375.7 378.0,1375.0 379.0,1373.8 380.0,1373.2 381.0,1373.5 382.0,1373.3 383.0,1374.2 384.0,1374.1 385.0,1373.5 386.0,1373.0 387.0,1373.0 388.0,1374.0 389.0,1373.7 390.0,1373.3 391.0,1374.7 392.0,1374.4 393.0,1372.9 394.0,1373.1 395.0,1374.3 396.0,1375.9 397.0,1375.4 398.0,1373.9 399.0,1373.5 400.0,1374.5 401.0,1374.2 402.0,1374.4 403.0,1375.7 404.0,1375.0 405.0,1374.5 406.0,1374.9 407.0,1375.4 408.0,1374.4 409.0,1374.3 410.0,1374.6 411.0,1373.6 412.0,1373.8 413.0,1374.1 414.0,1373.6 415.0,1372.8 416.0,1372.9 417.0,1374.5 418.0,1376.0 419.0,1375.6 420.0,1375.2 421.0,1374.6 422.0,1373.9 423.0,1374.3 424.0,1373.8 425.0,1373.1 426.0,1373.7 427.0,1374.1 428.0,1373.4 429.0,1373.8 430.0,1374.2 431.0,1374.5 432.0,1374.7 433.0,1373.9 434.0,1374.0 435.0,1374.0 436.0,1373.6 437.0,1373.4 438.0,1374.2 439.0,1374.7 440.0,1374.9 441.0,1373.6 442.0,1372.7 443.0,1373.3 444.0,1373.5 445.0,1373.3 446.0,1372.8 447.0,1373.3 448.0,1373.4 449.0,1372.1 450.0,1372.4 451.0,1373.1 452.0,1371.5 453.0,1370.8 454.0,1370.0 455.0,1369.3 456.0,1368.6 457.0,1366.5 458.0,1365.3 459.0,1364.2 460.0,1363.4 461.0,1362.8 462.0,1361.8 463.0,1360.8 464.0,1358.5 465.0,1358.9 466.0,1360.3 467.0,1361.1 468.0,1363.6 469.0,1364.7 470.0,1365.0 471.0,1366.0 472.0,1367.2 473.0,1368.0 474.0,1368.8 475.0,1369.4 476.0,1371.1 477.0,1372.2 478.0,1372.6 479.0,1372.9 480.0,1372.8 481.0,1373.1 482.0,1373.6 483.0,1374.3 484.0,1374.3 485.0,1373.6 486.0,1373.2 487.0,1374.5 488.0,1374.9 489.0,1373.9 490.0,1374.9 491.0,1375.7 492.0,1375.2 493.0,1374.5 494.0,1375.5 495.0,1375.9 496.0,1375.0 497.0,1374.7 498.0,1373.7 499.0,1373.1 500.0,1374.1 501.0,1375.0 502.0,1374.7 503.0,1373.9 504.0,1373.3 505.0,1373.7 506.0,1373.7 507.0,1374.4 508.0,1375.8 509.0,1376.8 510.0,1376.7 511.0,1374.9 512.0,1374.0 513.0,1372.5 514.0,1372.6 515.0,1374.4 516.0,1375.2 517.0,1375.7 518.0,1375.5 519.0,1375.3 520.0,1375.3 521.0,1376.0 522.0,1375.1 523.0,1374.1 524.0,1373.9 525.0,1375.0 526.0,1376.4 527.0,1376.0 528.0,1374.7 529.0,1374.4 530.0,1374.9 531.0,1374.8 532.0,1374.9 533.0,1375.1 534.0,1375.0 535.0,1375.2 536.0,1375.5 537.0,1374.9 538.0,1374.8 539.0,1374.7 540.0,1375.2 541.0,1375.3 542.0,1375.0 543.0,1374.9 544.0,1374.0 545.0,1374.7 546.0,1374.9 547.0,1374.8 548.0,1375.6 549.0,1374.4 550.0,1373.7 551.0,1374.3 552.0,1374.3 553.0,1374.0 554.0,1374.8 555.0,1375.3 556.0,1375.1 557.0,1375.0 558.0,1375.0 559.0,1374.8 560.0,1374.7 561.0,1375.4 562.0,1375.4 563.0,1374.9 564.0,1374.3 565.0,1374.6 566.0,1375.4 567.0,1375.2 568.0,1374.6 569.0,1375.0 570.0,1376.7 571.0,1376.3 572.0,1375.1 573.0,1375.5 574.0,1374.0 575.0,1373.8 576.0,1374.8 577.0,1375.5 578.0,1375.7 579.0,1374.6 580.0,1374.6 581.0,1375.1 582.0,1375.0 583.0,1374.8 584.0,1374.4 585.0,1374.3 586.0,1375.5 587.0,1376.6 588.0,1376.6 589.0,1375.7 590.0,1376.0 591.0,1376.4 592.0,1376.6 593.0,1376.7 594.0,1375.7 595.0,1375.3 596.0,1375.4 597.0,1375.5 598.0,1375.5 599.0,1374.9 600.0,1373.7 601.0,1373.7 602.0,1373.8 603.0,1374.2 604.0,1375.3 605.0,1374.3 606.0,1374.7 607.0,1376.1 608.0,1375.7 609.0,1376.2 610.0,1377.1 611.0,1375.6 612.0,1375.2 613.0,1376.0 614.0,1375.7 615.0,1376.0 616.0,1375.4 617.0,1374.6 618.0,1374.5 619.0,1374.4 620.0,1374.8 621.0,1374.4 622.0,1373.9 623.0,1375.0 624.0,1375.5 625.0,1375.4 626.0,1374.5 627.0,1373.9 628.0,1374.6 629.0,1375.0 630.0,1375.0 631.0,1375.5 632.0,1375.8 633.0,1375.3 634.0,1375.3 635.0,1375.7 636.0,1375.4 637.0,1375.6 638.0,1376.1 639.0,1375.6 640.0,1375.4 641.0,1375.6 642.0,1376.1 643.0,1376.3 644.0,1376.0 645.0,1376.0 646.0,1375.8 647.0,1376.0 648.0,1376.0 649.0,1374.2 650.0,1374.9 651.0,1376.1 652.0,1374.7 653.0,1374.6 654.0,1374.7 655.0,1375.9 656.0,1376.7 657.0,1374.7 658.0,1374.8 659.0,1375.4 660.0,1376.1 661.0,1375.8 662.0,1373.5 663.0,1374.1 664.0,1375.1 665.0,1374.9 666.0,1373.9 667.0,1374.4 668.0,1376.4 669.0,1375.2 670.0,1374.9 671.0,1375.6 672.0,1376.2 673.0,1376.7 674.0,1375.4 675.0,1375.7 676.0,1376.1 677.0,1375.2 678.0,1375.3 679.0,1375.3 680.0,1374.0 681.0,1375.3 682.0,1376.1 683.0,1374.7 684.0,1375.1 685.0,1374.5 686.0,1373.6 687.0,1374.2 688.0,1374.6 689.0,1374.9 690.0,1375.8 691.0,1375.5 692.0,1375.1 693.0,1375.7 694.0,1374.8 695.0,1374.6 696.0,1374.7 697.0,1375.1 698.0,1375.8 699.0,1375.2 700.0,1374.2 701.0,1374.3 702.0,1374.5 703.0,1374.8 704.0,1375.1 705.0,1374.3 706.0,1374.8 707.0,1375.5 708.0,1374.7 709.0,1374.9 710.0,1375.0 711.0,1374.1 712.0,1374.3 713.0,1373.9 714.0,1373.5 715.0,1373.7 716.0,1374.6 717.0,1375.3 718.0,1374.2 719.0,1374.0 720.0,1373.8 721.0,1372.8 722.0,1372.8 723.0,1372.2 724.0,1372.4 725.0,1371.6 726.0,1368.8 727.0,1368.3 728.0,1367.5 729.0,1365.3 730.0,1362.4 731.0,1361.5 732.0,1361.7 733.0,1359.8 734.0,1358.0 735.0,1356.6 736.0,1354.4 737.0,1352.5 738.0,1351.1 739.0,1349.7 740.0,1350.5 741.0,1351.3 742.0,1350.9 743.0,1352.1 744.0,1354.3 745.0,1355.4 746.0,1357.6 747.0,1359.7 748.0,1360.5 749.0,1361.8 750.0,1365.2 751.0,1366.4 752.0,1366.9 753.0,1369.2 754.0,1370.4 755.0,1370.3 756.0,1370.5 757.0,1371.8 758.0,1372.9 759.0,1372.9 760.0,1372.2 761.0,1373.3 762.0,1374.8 763.0,1374.6 764.0,1373.9 765.0,1374.0 766.0,1374.5 767.0,1374.9 768.0,1374.2 769.0,1373.9 770.0,1374.6 771.0,1374.0 772.0,1374.3 773.0,1374.9 774.0,1374.6 775.0,1374.9 776.0,1374.4 777.0,1374.2 778.0,1375.2 779.0,1375.4 780.0,1375.8 781.0,1375.0 782.0,1373.7 783.0,1374.5 784.0,1375.5 785.0,1376.5 786.0,1376.7 787.0,1375.1 788.0,1375.2 789.0,1375.2 790.0,1374.0 791.0,1375.9 792.0,1376.9 793.0,1375.9 794.0,1376.0 795.0,1376.6 796.0,1376.5 797.0,1376.2 798.0,1375.5 799.0,1374.1 800.0,1375.4 801.0,1376.9 802.0,1376.5 803.0,1375.8 804.0,1375.6 805.0,1375.2 806.0,1375.9 807.0,1376.6 808.0,1376.1 809.0,1375.9 810.0,1376.2 811.0,1376.3 812.0,1376.1 813.0,1375.2 814.0,1375.1 815.0,1376.9 816.0,1376.4 817.0,1375.1 818.0,1375.9 819.0,1376.5 820.0,1376.3 821.0,1375.0 822.0,1374.9 823.0,1375.1 824.0,1374.4 825.0,1375.4 826.0,1375.6 827.0,1375.8 828.0,1377.6 829.0,1377.6 830.0,1376.3 831.0,1375.4 832.0,1374.7 833.0,1374.6 834.0,1374.7 835.0,1374.7 836.0,1374.6 837.0,1375.1 838.0,1374.9 839.0,1374.2 840.0,1374.1 841.0,1375.1 842.0,1375.8 843.0,1376.1 844.0,1376.6 845.0,1375.9 846.0,1375.7 847.0,1375.1 848.0,1376.0 849.0,1377.4 850.0,1376.0 851.0,1374.8 852.0,1375.1 853.0,1374.7 854.0,1374.1 855.0,1375.5 856.0,1376.0 857.0,1375.3 858.0,1375.8 859.0,1375.5 860.0,1375.1 861.0,1375.4 862.0,1374.8 863.0,1375.3 864.0,1375.2 865.0,1376.0 866.0,1376.2 867.0,1376.2 868.0,1376.0 869.0,1375.2 870.0,1375.2 871.0,1374.1 872.0,1374.9 873.0,1375.9 874.0,1375.2 875.0,1375.4 876.0,1375.7 877.0,1375.1 878.0,1375.7 879.0,1376.0 880.0,1374.8 881.0,1375.4 882.0,1376.6 883.0,1375.5 884.0,1374.7 885.0,1374.0 886.0,1373.8 887.0,1375.0 888.0,1375.5 889.0,1374.6 890.0,1374.5 891.0,1376.0 892.0,1376.1 893.0,1374.9 894.0,1375.8 895.0,1376.4 896.0,1375.7 897.0,1375.1 898.0,1374.2 899.0,1373.9 900.0,1374.5 901.0,1375.0 902.0,1375.4 903.0,1375.8 904.0,1375.8 905.0,1375.6 906.0,1374.9 907.0,1373.6 908.0,1373.9 909.0,1374.5 910.0,1374.4 911.0,1374.8 912.0,1374.5 913.0,1374.0 914.0,1374.6 915.0,1375.3 916.0,1375.0 917.0,1375.1 918.0,1375.4 919.0,1374.6 920.0,1374.7 921.0,1376.2 922.0,1375.8 923.0,1375.4 924.0,1376.5 925.0,1376.7 926.0,1375.5 927.0,1375.8 928.0,1376.2 929.0,1375.0 930.0,1374.8 931.0,1375.3 932.0,1375.4 933.0,1375.0 934.0,1375.6 935.0,1375.3 936.0,1374.1 937.0,1374.8 938.0,1375.8 939.0,1375.9 940.0,1374.9 941.0,1374.9 942.0,1375.7 943.0,1376.1 944.0,1375.1 945.0,1374.3 946.0,1374.8 947.0,1373.8 948.0,1373.6 949.0,1375.0 950.0,1375.1 951.0,1374.1 952.0,1374.8 953.0,1375.7 954.0,1375.7 955.0,1374.7 956.0,1374.2 957.0,1375.1 958.0,1374.7 959.0,1373.8 960.0,1374.5 961.0,1375.7 962.0,1374.7 963.0,1372.4 964.0,1372.2 965.0,1373.0 966.0,1373.7 967.0,1374.5 968.0,1374.5 969.0,1373.8 970.0,1373.9 971.0,1373.7 972.0,1373.6 973.0,1373.7 974.0,1375.1 975.0,1375.9 976.0,1373.9 977.0,1372.9 978.0,1373.1 979.0,1372.7 980.0,1372.5 981.0,1373.0 982.0,1373.8 983.0,1373.9 984.0,1372.9 985.0,1372.4 986.0,1372.1 987.0,1372.8 988.0,1373.2 989.0,1373.8 990.0,1373.5 991.0,1373.4 992.0,1373.8 993.0,1373.2 994.0,1371.9 995.0,1371.1 996.0,1372.5 997.0,1373.8 998.0,1373.5 999.0,1373.1 1000.0,1372.6 1001.0,1371.9 1002.0,1371.7 1003.0,1372.3 1004.0,1372.7 1005.0,1372.0 1006.0,1371.5 1007.0,1371.8 1008.0,1372.0 1009.0,1371.2 1010.0,1371.8 1011.0,1372.2 1012.0,1371.1 1013.0,1371.6 1014.0,1372.0 1015.0,1371.0 1016.0,1370.5 1017.0,1369.8 1018.0,1369.0 1019.0,1368.1 1020.0,1368.9 1021.0,1368.8 1022.0,1368.3 1023.0,1368.6 1024.0,1367.4 1025.0,1367.5 1026.0,1367.8 1027.0,1367.9 1028.0,1368.3 1029.0,1367.8 1030.0,1366.9 1031.0,1365.9 1032.0,1365.3 1033.0,1365.2 1034.0,1364.0 1035.0,1363.3 1036.0,1362.9 1037.0,1362.3 1038.0,1361.8 1039.0,1360.6 1040.0,1359.1 1041.0,1358.8 1042.0,1357.2 1043.0,1355.3 1044.0,1355.8 1045.0,1353.2 1046.0,1350.5 1047.0,1350.5 1048.0,1348.1 1049.0,1346.9 1050.0,1344.0 1051.0,1340.6 1052.0,1339.7 1053.0,1335.8 1054.0,1330.8 1055.0,1325.9 1056.0,1320.2 1057.0,1314.2 1058.0,1307.0 1059.0,1298.3 1060.0,1290.1 1061.0,1278.9 1062.0,1265.9 1063.0,1252.7 1064.0,1236.7 1065.0,1220.4 1066.0,1203.4 1067.0,1183.7 1068.0,1166.3 1069.0,1151.8 1070.0,1140.8 1071.0,1136.1 1072.0,1137.2 1073.0,1144.4 1074.0,1155.8 1075.0,1170.8 1076.0,1188.4 1077.0,1206.6 1078.0,1224.6 1079.0,1241.6 1080.0,1257.9 1081.0,1273.7 1082.0,1288.5 1083.0,1301.4 1084.0,1312.1 1085.0,1320.1 1086.0,1327.0 1087.0,1333.5 1088.0,1339.0 1089.0,1344.0 1090.0,1348.3 1091.0,1350.1 1092.0,1351.7 1093.0,1355.0 1094.0,1357.3 1095.0,1357.9 1096.0,1359.6 1097.0,1360.6 1098.0,1360.7 1099.0,1361.4 1100.0,1361.1 1101.0,1362.3 1102.0,1363.0 1103.0,1362.4 1104.0,1362.8 1105.0,1363.4 1106.0,1363.7 1107.0,1363.1 1108.0,1362.1 1109.0,1361.9 1110.0,1361.9 1111.0,1362.1 1112.0,1363.2 1113.0,1363.4 1114.0,1364.7 1115.0,1365.6 1116.0,1365.6 1117.0,1366.1 1118.0,1366.5 1119.0,1367.7 1120.0,1369.0 1121.0,1368.5 1122.0,1369.0 1123.0,1370.4 1124.0,1370.8 1125.0,1371.1 1126.0,1370.2 1127.0,1369.6 1128.0,1371.4 1129.0,1372.3 1130.0,1370.7 1131.0,1370.9 1132.0,1371.6 1133.0,1370.5 1134.0,1369.5 1135.0,1369.7 1136.0,1371.1 1137.0,1371.9 1138.0,1371.6 1139.0,1371.8 1140.0,1372.2 1141.0,1370.8 1142.0,1370.3 1143.0,1370.8 1144.0,1370.1 1145.0,1370.1 1146.0,1370.4 1147.0,1370.3 1148.0,1369.2 1149.0,1368.8 1150.0,1370.2 1151.0,1369.5 1152.0,1367.2 1153.0,1367.5 1154.0,1368.3 1155.0,1368.1 1156.0,1366.8 1157.0,1366.9 1158.0,1366.9 1159.0,1365.7 1160.0,1365.9 1161.0,1366.6 1162.0,1367.5 1163.0,1368.2 1164.0,1368.2 1165.0,1368.8 1166.0,1369.3 1167.0,1369.7 1168.0,1369.4 1169.0,1368.5 1170.0,1370.1 1171.0,1370.6 1172.0,1370.4 1173.0,1371.4 1174.0,1371.6 1175.0,1371.7 1176.0,1372.9 1177.0,1372.0 1178.0,1371.9 1179.0,1374.6 1180.0,1374.2 1181.0,1373.1 1182.0,1373.6 1183.0,1374.6 1184.0,1373.7 1185.0,1372.8 1186.0,1373.3 1187.0,1373.6 1188.0,1373.8 1189.0,1373.9 1190.0,1373.6 1191.0,1373.3 1192.0,1373.2 1193.0,1372.9 1194.0,1373.2 1195.0,1373.4 1196.0,1372.9 1197.0,1373.8 1198.0,1374.4 1199.0,1372.8 1200.0,1373.5 1201.0,1373.8 1202.0,1373.5 1203.0,1373.9 1204.0,1373.8 1205.0,1373.9 1206.0,1373.5 1207.0,1373.4 1208.0,1374.8 1209.0,1373.6 1210.0,1372.6 1211.0,1374.0 1212.0,1373.4 1213.0,1372.5 1214.0,1374.2 1215.0,1374.7 1216.0,1374.7 1217.0,1375.1 1218.0,1374.1 1219.0,1374.1 1220.0,1374.4 1221.0,1374.7 1222.0,1374.6 1223.0,1374.1 1224.0,1373.9 1225.0,1374.6 1226.0,1374.9 1227.0,1373.7 1228.0,1372.9 1229.0,1373.6 1230.0,1373.6 1231.0,1373.3 1232.0,1373.1 1233.0,1373.1 1234.0,1373.9 1235.0,1374.5 1236.0,1374.3 1237.0,1374.9 1238.0,1374.8 1239.0,1375.4 1240.0,1376.0 1241.0,1374.6 1242.0,1373.8 1243.0,1372.0 1244.0,1372.2 1245.0,1373.8 1246.0,1374.9 1247.0,1374.1 1248.0,1374.0 1249.0,1374.6 1250.0,1374.0 1251.0,1372.8 1252.0,1372.5 1253.0,1373.6 1254.0,1373.9 1255.0,1374.1 1256.0,1373.2 1257.0,1373.6 1258.0,1374.6 1259.0,1374.4 1260.0,1374.5 1261.0,1374.7 1262.0,1374.2 1263.0,1372.8 1264.0,1372.0 1265.0,1373.4 1266.0,1374.4 1267.0,1373.7 1268.0,1373.0 1269.0,1372.8 1270.0,1372.9 1271.0,1372.5 1272.0,1372.0 1273.0,1373.1 1274.0,1373.3 1275.0,1371.6 1276.0,1370.6 1277.0,1370.3 1278.0,1371.1 1279.0,1371.7 1280.0,1371.0 1281.0,1370.4 1282.0,1370.2 1283.0,1369.5 1284.0,1370.3 1285.0,1371.1 1286.0,1371.8 1287.0,1371.3 1288.0,1370.0 1289.0,1371.1 1290.0,1371.2 1291.0,1370.2 1292.0,1370.1 1293.0,1371.1 1294.0,1372.0 1295.0,1372.1 1296.0,1372.6 1297.0,1373.4 1298.0,1373.2 1299.0,1372.8 1300.0,1372.6 1301.0,1373.0 1302.0,1373.7 1303.0,1373.4 1304.0,1373.2 1305.0,1373.0 1306.0,1372.1 1307.0,1371.7 1308.0,1372.8 1309.0,1373.6 1310.0,1374.0 1311.0,1373.7 1312.0,1373.3 1313.0,1373.9 1314.0,1373.9 1315.0,1372.8 1316.0,1372.0 1317.0,1372.3 1318.0,1371.7 1319.0,1371.8 1320.0,1372.7 1321.0,1371.9 1322.0,1372.2 1323.0,1372.0 1324.0,1370.5 1325.0,1370.2 1326.0,1369.4 1327.0,1369.2 1328.0,1369.0 1329.0,1369.0 1330.0,1368.5 1331.0,1367.0 1332.0,1365.6 1333.0,1363.4 1334.0,1362.3 1335.0,1361.3 1336.0,1360.5 1337.0,1359.4 1338.0,1358.3 1339.0,1357.2 1340.0,1355.4 1341.0,1353.7 1342.0,1352.2 1343.0,1351.5 1344.0,1351.3 1345.0,1350.3 1346.0,1350.2 1347.0,1352.4 1348.0,1352.9 1349.0,1352.5 1350.0,1353.4 1351.0,1354.2 1352.0,1356.7 1353.0,1358.9 1354.0,1359.9 1355.0,1362.3 1356.0,1364.8 1357.0,1364.5 1358.0,1364.9 1359.0,1366.7 1360.0,1367.3 1361.0,1368.0 1362.0,1368.5 1363.0,1369.7 1364.0,1370.6 1365.0,1370.4 1366.0,1371.1 1367.0,1371.8 1368.0,1371.6 1369.0,1371.5 1370.0,1372.4 1371.0,1372.7 1372.0,1371.8 1373.0,1371.2 1374.0,1371.1 1375.0,1371.1 1376.0,1371.4 1377.0,1372.1 1378.0,1371.0 1379.0,1370.9 1380.0,1372.3 1381.0,1372.3 1382.0,1371.5 1383.0,1372.0 1384.0,1372.1 1385.0,1370.7 1386.0,1370.4 1387.0,1370.9 1388.0,1371.9 1389.0,1372.4 1390.0,1371.9 1391.0,1370.5 1392.0,1369.8 1393.0,1369.8 1394.0,1369.8 1395.0,1369.1 1396.0,1369.0 1397.0,1369.9 1398.0,1369.4 1399.0,1368.9 1400.0,1368.0 1401.0,1366.4 1402.0,1365.9 1403.0,1366.5 1404.0,1366.5 1405.0,1364.6 1406.0,1363.4 1407.0,1361.9 1408.0,1360.3 1409.0,1358.7 1410.0,1355.2 1411.0,1352.6 1412.0,1349.2 1413.0,1344.6 1414.0,1340.2 1415.0,1336.3 1416.0,1332.1 1417.0,1326.8 1418.0,1321.2 1419.0,1316.6 1420.0,1311.6 1421.0,1306.0 1422.0,1303.4 1423.0,1302.5 1424.0,1301.5 1425.0,1301.0 1426.0,1303.2 1427.0,1308.4 1428.0,1313.5 1429.0,1319.2 1430.0,1323.9 1431.0,1328.8 1432.0,1334.4 1433.0,1339.5 1434.0,1344.1 1435.0,1347.9 1436.0,1351.1 1437.0,1352.9 1438.0,1355.4 1439.0,1358.1 1440.0,1360.2 1441.0,1362.8 1442.0,1365.5 1443.0,1366.3 1444.0,1366.1 1445.0,1366.8 1446.0,1367.7 1447.0,1369.2 1448.0,1370.3 1449.0,1370.3 1450.0,1370.4 1451.0,1369.4 1452.0,1369.6 1453.0,1370.4 1454.0,1371.3 1455.0,1372.2 1456.0,1371.8 1457.0,1371.8 1458.0,1373.3 1459.0,1373.1 1460.0,1372.0 1461.0,1372.6 1462.0,1372.8 1463.0,1372.9 1464.0,1373.6 1465.0,1374.9 1466.0,1373.8 1467.0,1373.0 1468.0,1374.1 1469.0,1374.1 1470.0,1374.1 1471.0,1374.0 1472.0,1374.8 1473.0,1374.8 1474.0,1374.2 1475.0,1374.6 1476.0,1374.7 1477.0,1374.7 1478.0,1375.2 1479.0,1375.4 1480.0,1375.0 1481.0,1375.0 1482.0,1374.5 1483.0,1374.1 1484.0,1374.1 1485.0,1374.7 1486.0,1374.9 1487.0,1374.3 1488.0,1374.8 1489.0,1375.7 1490.0,1374.7 1491.0,1375.3 1492.0,1376.3 1493.0,1375.3 1494.0,1375.9 1495.0,1376.0 1496.0,1375.1 1497.0,1376.3 1498.0,1376.0 1499.0,1374.8 1500.0,1375.8 1501.0,1375.2 1502.0,1374.7 1503.0,1375.4 1504.0,1376.6 1505.0,1375.9 1506.0,1374.5 1507.0,1375.2 1508.0,1375.1 1509.0,1373.9 1510.0,1373.9 1511.0,1374.3 1512.0,1374.1 1513.0,1374.4 1514.0,1374.4 1515.0,1373.7 1516.0,1373.0 1517.0,1371.8 1518.0,1371.2 1519.0,1371.6 1520.0,1371.1 1521.0,1370.7 1522.0,1370.2 1523.0,1370.7 1524.0,1372.1 1525.0,1370.9 1526.0,1369.9 1527.0,1370.0 1528.0,1370.5 1529.0,1370.9 1530.0,1370.5 1531.0,1370.4 1532.0,1370.7 1533.0,1370.6 1534.0,1371.2 1535.0,1371.7 1536.0,1372.0 1537.0,1372.9 1538.0,1373.5 1539.0,1373.8 1540.0,1374.1 1541.0,1374.0 1542.0,1374.1 1543.0,1374.7 1544.0,1374.8 1545.0,1375.1 1546.0,1375.7 1547.0,1374.8 1548.0,1374.7 1549.0,1375.1 1550.0,1375.7 1551.0,1375.5 1552.0,1374.4 1553.0,1374.7 1554.0,1376.2 1555.0,1376.4 1556.0,1375.7 1557.0,1376.1 1558.0,1375.1 1559.0,1375.3 1560.0,1376.6 1561.0,1376.7 1562.0,1376.9 1563.0,1376.8 1564.0,1376.3 1565.0,1376.3 1566.0,1376.5 1567.0,1377.7 1568.0,1377.7 1569.0,1376.9 1570.0,1376.3 1571.0,1375.9 1572.0,1377.0 1573.0,1376.8 1574.0,1375.5 1575.0,1376.1 1576.0,1376.3 1577.0,1377.4 1578.0,1376.4 1579.0,1375.6 1580.0,1377.2 1581.0,1376.4 1582.0,1375.7 1583.0,1376.6 1584.0,1377.8 1585.0,1377.1 1586.0,1375.4 1587.0,1376.4 1588.0,1378.0 1589.0,1377.3 1590.0,1375.4 1591.0,1376.3 1592.0,1377.4 1593.0,1377.2 1594.0,1377.3 1595.0,1376.5 1596.0,1376.3 1597.0,1377.3 1598.0,1378.3 1599.0,1376.4 1600.0,1375.1 1601.0,1377.2 1602.0,1377.5 1603.0,1375.9 1604.0,1376.1 1605.0,1376.7 1606.0,1376.7 1607.0,1376.5 1608.0,1376.4 1609.0,1376.4 1610.0,1376.7 1611.0,1376.6 1612.0,1376.2 1613.0,1376.6 1614.0,1377.4 1615.0,1377.7 1616.0,1377.0 1617.0,1377.1 1618.0,1377.3 1619.0,1377.6 1620.0,1377.7 1621.0,1378.1 1622.0,1378.5 1623.0,1377.5 1624.0,1376.6 1625.0,1377.1 1626.0,1377.6 1627.0,1377.1 1628.0,1376.0 1629.0,1375.1 1630.0,1376.1 1631.0,1377.5 1632.0,1377.7 1633.0,1376.6 1634.0,1376.7 1635.0,1377.1 1636.0,1376.8 1637.0,1377.3 1638.0,1376.7 1639.0,1376.1 1640.0,1375.5 1641.0,1375.3 1642.0,1375.5 1643.0,1376.2 1644.0,1377.2 1645.0,1377.4 1646.0,1377.6 1647.0,1376.8 1648.0,1376.8 1649.0,1376.9 1650.0,1377.0 1651.0,1377.4 1652.0,1376.6 1653.0,1376.4 1654.0,1376.9 1655.0,1376.8 1656.0,1377.2 1657.0,1378.3 1658.0,1377.6 1659.0,1376.5 1660.0,1375.6 1661.0,1375.7 1662.0,1376.6 1663.0,1375.6 1664.0,1375.9 1665.0,1377.4 1666.0,1376.9 1667.0,1376.4 1668.0,1376.2 1669.0,1376.8 1670.0,1376.5 1671.0,1376.0 1672.0,1377.8 1673.0,1378.0 1674.0,1377.2 1675.0,1377.1 1676.0,1376.3 1677.0,1376.3 1678.0,1377.2 1679.0,1376.6 1680.0,1376.6 1681.0,1377.8 1682.0,1378.2 1683.0,1376.7 1684.0,1375.6 1685.0,1375.6 1686.0,1376.7 1687.0,1377.9 1688.0,1377.7 1689.0,1376.9 1690.0,1375.9 1691.0,1376.4 1692.0,1377.1 1693.0,1376.6 1694.0,1376.6 1695.0,1377.4 1696.0,1377.4 1697.0,1376.5 1698.0,1375.3 1699.0,1375.7 1700.0,1376.9 1701.0,1376.9 1702.0,1376.6 1703.0,1376.4 1704.0,1377.0 1705.0,1377.3 1706.0,1377.0 1707.0,1376.5 1708.0,1376.1 1709.0,1376.7 1710.0,1376.5 1711.0,1375.8 1712.0,1376.1 1713.0,1377.4 1714.0,1377.7 1715.0,1377.9 1716.0,1377.7 1717.0,1376.7 1718.0,1376.1 1719.0,1375.9 1720.0,1377.4 1721.0,1377.9 1722.0,1377.5 1723.0,1377.7 1724.0,1377.3 1725.0,1376.9 1726.0,1376.9 1727.0,1377.4 1728.0,1377.6 1729.0,1377.5 1730.0,1377.3 1731.0,1376.6 1732.0,1376.4 1733.0,1376.3 1734.0,1377.0 1735.0,1376.4 1736.0,1375.7 1737.0,1378.1 1738.0,1378.0 1739.0,1376.2 1740.0,1376.3 1741.0,1377.6 1742.0,1377.5 1743.0,1377.2 1744.0,1377.3 1745.0,1376.8 1746.0,1378.4 1747.0,1378.6 1748.0,1376.7 1749.0,1376.4 1750.0,1376.9 1751.0,1377.3 1752.0,1377.5 1753.0,1377.4 1754.0,1376.2 1755.0,1376.4 1756.0,1377.0 1757.0,1376.6 1758.0,1375.9 1759.0,1375.8 1760.0,1376.2 1761.0,1376.4 1762.0,1376.0 1763.0,1376.1 1764.0,1376.9 1765.0,1376.2 1766.0,1375.8 1767.0,1375.9 1768.0,1376.7 1769.0,1375.8 1770.0,1375.1 1771.0,1375.5 1772.0,1375.4 1773.0,1376.7 1774.0,1376.5 1775.0,1376.1 1776.0,1375.9 1777.0,1376.7 1778.0,1377.5 1779.0,1376.9 1780.0,1375.5 1781.0,1374.1 1782.0,1375.0 1783.0,1375.2 1784.0,1374.1 1785.0,1374.0 1786.0,1373.0 1787.0,1372.7 1788.0,1372.9 1789.0,1372.2 1790.0,1371.2 1791.0,1370.7 1792.0,1370.1 1793.0,1369.9 1794.0,1370.4 1795.0,1370.0 1796.0,1369.5 1797.0,1369.2 1798.0,1367.5 1799.0,1367.8 1800.0,1369.4 1801.0,1369.4 1802.0,1369.8 1803.0,1369.6 1804.0,1370.0 1805.0,1371.6 1806.0,1373.2 1807.0,1373.1 1808.0,1372.4 1809.0,1374.0 1810.0,1374.4 1811.0,1375.2 1812.0,1376.0 1813.0,1374.7 1814.0,1375.5 1815.0,1377.1 1816.0,1376.0 1817.0,1376.1 1818.0,1376.9 1819.0,1376.9 1820.0,1377.0 1821.0,1375.4 1822.0,1376.0 1823.0,1377.3 1824.0,1378.2 1825.0,1378.7 1826.0,1378.0 1827.0,1377.0 1828.0,1376.4 1829.0,1376.3 1830.0,1376.2 1831.0,1376.2 1832.0,1375.3 1833.0,1375.6 1834.0,1376.9 1835.0,1378.2 1836.0,1378.6 1837.0,1377.0 1838.0,1376.9 1839.0,1376.5 1840.0,1375.9 1841.0,1375.6 1842.0,1376.7 1843.0,1378.0 1844.0,1376.6 1845.0,1376.3 1846.0,1377.4 1847.0,1377.7 1848.0,1377.4 1849.0,1376.7 1850.0,1376.2 1851.0,1376.7 1852.0,1377.5 1853.0,1377.0 1854.0,1375.9 1855.0,1377.0 1856.0,1377.1 1857.0,1377.0 1858.0,1377.7 1859.0,1377.6 1860.0,1378.4 1861.0,1378.3 1862.0,1377.8 1863.0,1376.9 1864.0,1376.1 1865.0,1376.9 1866.0,1378.1 1867.0,1378.5 1868.0,1378.9 1869.0,1378.4 1870.0,1377.2 1871.0,1377.6 1872.0,1377.5 1873.0,1376.9 1874.0,1376.4 1875.0,1376.9 1876.0,1376.9 1877.0,1376.7 1878.0,1376.5 1879.0,1376.8 1880.0,1377.0 1881.0,1376.9 1882.0,1376.6 1883.0,1375.9 1884.0,1377.3 1885.0,1377.2 1886.0,1376.6 1887.0,1376.7 1888.0,1375.5 1889.0,1375.9 1890.0,1377.3 1891.0,1376.6 1892.0,1376.6 1893.0,1376.8 1894.0,1376.0 1895.0,1376.4 1896.0,1376.6 1897.0,1377.8 1898.0,1377.3 1899.0,1376.5 1900.0,1377.8 1901.0,1376.4 1902.0,1374.9 1903.0,1376.3 1904.0,1376.9 1905.0,1376.8 1906.0,1377.7 1907.0,1377.3 1908.0,1376.1 1909.0,1374.8 1910.0,1375.5 1911.0,1376.4 1912.0,1376.5 1913.0,1377.1 1914.0,1376.2 1915.0,1377.0 1916.0,1378.3 1917.0,1377.8 1918.0,1376.6 1919.0,1375.9 1920.0,1376.2 1921.0,1376.2 1922.0,1375.9 1923.0,1376.4 1924.0,1377.1 1925.0,1377.0 1926.0,1376.6 1927.0,1377.1 1928.0,1377.4 1929.0,1375.3 1930.0,1374.8 1931.0,1376.2 1932.0,1377.1 1933.0,1376.9 1934.0,1376.3 1935.0,1376.0 1936.0,1376.5 1937.0,1376.6 1938.0,1375.9 1939.0,1375.7 1940.0,1376.3 1941.0,1376.4 1942.0,1375.2 1943.0,1375.8 1944.0,1376.3 1945.0,1376.1 1946.0,1376.6 1947.0,1377.0 1948.0,1377.3 1949.0,1376.4 1950.0,1375.7 1951.0,1375.2 1952.0,1376.2 1953.0,1377.0 1954.0,1376.8 1955.0,1376.4 1956.0,1374.5 1957.0,1375.4 1958.0,1376.5 1959.0,1375.7 1960.0,1375.5 1961.0,1375.7 1962.0,1375.9 1963.0,1374.6 1964.0,1374.8 1965.0,1375.2 1966.0,1374.3 1967.0,1375.3 1968.0,1375.9 1969.0,1374.7 1970.0,1373.0 1971.0,1373.1 1972.0,1374.1 1973.0,1373.7 1974.0,1372.4 1975.0,1371.7 1976.0,1371.3 1977.0,1371.4 1978.0,1371.9 1979.0,1371.7 1980.0,1370.1 1981.0,1368.7 1982.0,1368.3 1983.0,1366.6 1984.0,1364.8 1985.0,1364.4 1986.0,1362.6 1987.0,1359.7 1988.0,1356.8 1989.0,1353.5 1990.0,1349.7 1991.0,1346.4 1992.0,1344.4 1993.0,1341.9 1994.0,1338.2 1995.0,1334.0 1996.0,1330.2 1997.0,1326.9 1998.0,1324.8 1999.0,1324.4 2000.0,1324.1 2001.0,1325.3 2002.0,1327.1 2003.0,1328.3 2004.0,1331.5 2005.0,1335.0 2006.0,1338.4 2007.0,1343.5 2008.0,1347.7 2009.0,1350.5 2010.0,1354.3 2011.0,1357.7 2012.0,1359.4 2013.0,1361.6 2014.0,1364.1 2015.0,1365.1 2016.0,1366.6 2017.0,1367.1 2018.0,1367.6 2019.0,1369.2 2020.0,1370.7 2021.0,1371.2 2022.0,1371.3 2023.0,1372.5 2024.0,1373.7 2025.0,1373.9 2026.0,1374.1 2027.0,1373.7 2028.0,1373.1 2029.0,1373.6 2030.0,1373.8 2031.0,1373.4 2032.0,1374.6 2033.0,1374.8 2034.0,1373.5 2035.0,1373.9 2036.0,1375.4 2037.0,1375.2 2038.0,1374.8 2039.0,1374.5 2040.0,1373.5 2041.0,1373.3 2042.0,1373.3 2043.0,1374.5 2044.0,1373.8 2045.0,1373.5 2046.0,1373.3 2047.0,1372.0 2048.0,1372.7 2049.0,1372.8 2050.0,1372.2 2051.0,1370.6 2052.0,1370.2 2053.0,1370.0 2054.0,1370.7 2055.0,1370.6 2056.0,1368.8 2057.0,1367.8 2058.0,1366.9 2059.0,1366.3 2060.0,1366.5 2061.0,1366.5 2062.0,1365.8 2063.0,1365.1 2064.0,1364.1 2065.0,1364.8 2066.0,1364.3 2067.0,1362.4 2068.0,1363.0 2069.0,1363.4 2070.0,1363.0 2071.0,1364.2 2072.0,1364.3 2073.0,1364.6 2074.0,1365.0 2075.0,1365.8 2076.0,1367.4 2077.0,1366.9 2078.0,1366.6 2079.0,1367.0 2080.0,1367.8 2081.0,1369.4 2082.0,1369.2 2083.0,1369.6 2084.0,1370.2 2085.0,1369.8 2086.0,1370.1 2087.0,1372.1 2088.0,1373.6 2089.0,1373.0 2090.0,1373.0 2091.0,1373.8 2092.0,1373.4 2093.0,1373.1 2094.0,1375.7 2095.0,1375.7 2096.0,1374.8 2097.0,1375.5 2098.0,1375.3 2099.0,1375.1 2100.0,1376.2 2101.0,1376.4 2102.0,1376.2 2103.0,1376.0 2104.0,1376.1 2105.0,1376.3 2106.0,1377.0 2107.0,1377.4 2108.0,1376.6 2109.0,1374.9 2110.0,1375.5 2111.0,1377.2 2112.0,1376.4 2113.0,1375.0 2114.0,1374.9 2115.0,1376.5 2116.0,1376.5 2117.0,1375.8 2118.0,1376.5 2119.0,1377.4 2120.0,1377.3 2121.0,1376.6 2122.0,1376.4 2123.0,1377.3 2124.0,1378.1 2125.0,1377.2 2126.0,1375.9 2127.0,1375.6 2128.0,1376.6 2129.0,1376.7 2130.0,1376.8 2131.0,1377.4 2132.0,1377.1 2133.0,1377.2 2134.0,1377.4 2135.0,1376.5 2136.0,1376.1 2137.0,1377.8 2138.0,1377.3 2139.0,1375.8 2140.0,1377.0 2141.0,1377.1 2142.0,1376.1 2143.0,1375.4 2144.0,1376.1 2145.0,1377.2 2146.0,1377.6 2147.0,1377.1 2148.0,1376.8 2149.0,1376.1 2150.0,1375.6 2151.0,1375.6 2152.0,1375.5 2153.0,1376.1 2154.0,1376.5 2155.0,1375.4 2156.0,1375.3 2157.0,1375.4 2158.0,1374.0 2159.0,1374.0 2160.0,1373.5 2161.0,1373.4 2162.0,1374.1 2163.0,1373.8 2164.0,1373.6 2165.0,1373.3 2166.0,1372.8 2167.0,1371.9 2168.0,1371.7 2169.0,1371.7 2170.0,1371.2 2171.0,1371.3 2172.0,1371.4 2173.0,1370.3 2174.0,1369.2 2175.0,1369.7 2176.0,1370.6 2177.0,1370.7 2178.0,1370.8 2179.0,1371.2 2180.0,1370.9 2181.0,1370.1 2182.0,1369.2 2183.0,1368.7 2184.0,1369.0 2185.0,1369.7 2186.0,1370.2 2187.0,1370.2 2188.0,1370.1 2189.0,1370.6 2190.0,1371.0 2191.0,1371.0 2192.0,1371.3 2193.0,1371.1 2194.0,1370.6 2195.0,1371.4 2196.0,1372.4 2197.0,1372.3 2198.0,1372.2 2199.0,1373.8 2200.0,1373.9 2201.0,1372.8 2202.0,1373.6 2203.0,1373.4 2204.0,1373.5 2205.0,1375.3 2206.0,1376.0 2207.0,1375.6 2208.0,1375.6 2209.0,1375.6 2210.0,1375.9 2211.0,1376.0 2212.0,1375.4 2213.0,1375.7 2214.0,1376.5" fill="none" stroke="#0767E3" stroke-width="5.2" stroke-linejoin="round" stroke-linecap="butt"/>
<polyline points="188.0,1087.6 189.0,1087.4 190.0,1087.6 191.0,1088.1 192.0,1088.2 193.0,1088.0 194.0,1087.8 195.0,1088.0 196.0,1088.2 197.0,1087.9 198.0,1087.8 199.0,1087.9 200.0,1087.8 201.0,1087.7 202.0,1087.0 203.0,1087.0 204.0,1086.7 205.0,1087.1 206.0,1087.1 207.0,1087.7 208.0,1087.8 209.0,1088.0 210.0,1087.3 211.0,1087.1 212.0,1087.2 213.0,1087.9 214.0,1087.6 215.0,1087.5 216.0,1087.2 217.0,1087.4 218.0,1087.8 219.0,1087.8 220.0,1088.0 221.0,1088.0 222.0,1088.0 223.0,1088.0 224.0,1087.8 225.0,1088.0 226.0,1087.7 227.0,1087.7 228.0,1088.0 229.0,1087.9 230.0,1088.1 231.0,1087.8 232.0,1088.1 233.0,1088.4 234.0,1088.5 235.0,1088.4 236.0,1087.9 237.0,1087.8 238.0,1088.1 239.0,1088.3 240.0,1088.1 241.0,1088.3 242.0,1088.5 243.0,1088.3 244.0,1088.2 245.0,1087.7 246.0,1087.9 247.0,1087.6 248.0,1087.5 249.0,1087.5 250.0,1088.0 251.0,1088.5 252.0,1088.2 253.0,1087.7 254.0,1087.6 255.0,1087.4 256.0,1087.5 257.0,1087.3 258.0,1088.2 259.0,1088.5 260.0,1088.4 261.0,1088.0 262.0,1087.7 263.0,1088.2 264.0,1088.2 265.0,1088.2 266.0,1087.9 267.0,1088.0 268.0,1088.0 269.0,1087.6 270.0,1087.6 271.0,1087.6 272.0,1088.2 273.0,1088.3 274.0,1088.4 275.0,1088.3 276.0,1088.0 277.0,1088.3 278.0,1088.2 279.0,1088.4 280.0,1087.8 281.0,1087.9 282.0,1087.3 283.0,1087.1 284.0,1086.9 285.0,1087.1 286.0,1087.7 287.0,1088.4 288.0,1088.4 289.0,1088.2 290.0,1087.6 291.0,1088.0 292.0,1088.1 293.0,1088.0 294.0,1088.0 295.0,1088.2 296.0,1088.0 297.0,1087.8 298.0,1087.7 299.0,1087.7 300.0,1087.8 301.0,1087.5 302.0,1088.1 303.0,1088.0 304.0,1088.3 305.0,1087.9 306.0,1087.8 307.0,1087.3 308.0,1087.1 309.0,1087.2 310.0,1087.2 311.0,1087.7 312.0,1087.2 313.0,1087.9 314.0,1087.5 315.0,1088.1 316.0,1088.0 317.0,1087.8 318.0,1087.9 319.0,1088.3 320.0,1088.6 321.0,1088.2 322.0,1087.8 323.0,1087.6 324.0,1087.9 325.0,1087.9 326.0,1088.1 327.0,1087.6 328.0,1087.6 329.0,1087.3 330.0,1087.8 331.0,1087.9 332.0,1088.5 333.0,1088.2 334.0,1088.0 335.0,1087.7 336.0,1087.5 337.0,1087.7 338.0,1087.7 339.0,1087.8 340.0,1087.4 341.0,1087.3 342.0,1087.8 343.0,1088.0 344.0,1087.9 345.0,1087.6 346.0,1088.1 347.0,1088.0 348.0,1087.9 349.0,1087.4 350.0,1087.3 351.0,1087.5 352.0,1087.7 353.0,1088.2 354.0,1087.8 355.0,1087.9 356.0,1087.7 357.0,1087.9 358.0,1087.5 359.0,1087.3 360.0,1087.7 361.0,1087.8 362.0,1088.2 363.0,1087.9 364.0,1087.9 365.0,1087.7 366.0,1087.9 367.0,1087.9 368.0,1088.0 369.0,1087.8 370.0,1088.2 371.0,1088.4 372.0,1088.5 373.0,1088.1 374.0,1087.5 375.0,1087.7 376.0,1088.1 377.0,1088.4 378.0,1088.3 379.0,1088.2 380.0,1088.5 381.0,1088.6 382.0,1088.3 383.0,1088.4 384.0,1087.9 385.0,1088.2 386.0,1087.9 387.0,1088.5 388.0,1088.8 389.0,1089.0 390.0,1088.5 391.0,1087.6 392.0,1087.4 393.0,1087.4 394.0,1087.8 395.0,1087.9 396.0,1087.7 397.0,1087.1 398.0,1087.0 399.0,1087.4 400.0,1087.9 401.0,1087.8 402.0,1087.6 403.0,1087.3 404.0,1087.2 405.0,1087.2 406.0,1087.1 407.0,1087.3 408.0,1087.5 409.0,1088.1 410.0,1087.7 411.0,1087.5 412.0,1087.2 413.0,1087.2 414.0,1087.4 415.0,1087.4 416.0,1087.8 417.0,1087.8 418.0,1088.5 419.0,1088.1 420.0,1088.2 421.0,1087.6 422.0,1088.0 423.0,1087.4 424.0,1087.3 425.0,1087.4 426.0,1087.8 427.0,1087.9 428.0,1087.6 429.0,1087.9 430.0,1087.9 431.0,1087.4 432.0,1086.9 433.0,1086.3 434.0,1086.0 435.0,1086.1 436.0,1086.9 437.0,1087.7 438.0,1087.5 439.0,1086.9 440.0,1087.1 441.0,1087.4 442.0,1087.6 443.0,1087.2 444.0,1087.1 445.0,1087.2 446.0,1087.2 447.0,1087.0 448.0,1086.3 449.0,1086.0 450.0,1085.3 451.0,1085.4 452.0,1084.3 453.0,1083.7 454.0,1082.5 455.0,1081.5 456.0,1080.8 457.0,1080.0 458.0,1079.0 459.0,1077.5 460.0,1076.1 461.0,1074.7 462.0,1074.0 463.0,1073.9 464.0,1075.0 465.0,1075.4 466.0,1076.4 467.0,1077.6 468.0,1079.5 469.0,1080.9 470.0,1082.1 471.0,1083.2 472.0,1083.9 473.0,1084.5 474.0,1084.3 475.0,1085.4 476.0,1086.2 477.0,1087.2 478.0,1087.2 479.0,1087.2 480.0,1087.2 481.0,1087.1 482.0,1087.1 483.0,1087.1 484.0,1087.7 485.0,1087.9 486.0,1087.9 487.0,1087.4 488.0,1087.2 489.0,1087.6 490.0,1087.9 491.0,1088.1 492.0,1087.7 493.0,1087.3 494.0,1087.2 495.0,1087.6 496.0,1087.8 497.0,1087.8 498.0,1087.5 499.0,1087.6 500.0,1087.3 501.0,1087.3 502.0,1087.1 503.0,1087.7 504.0,1087.6 505.0,1088.0 506.0,1088.1 507.0,1088.3 508.0,1088.0 509.0,1087.6 510.0,1087.7 511.0,1087.6 512.0,1087.7 513.0,1088.2 514.0,1088.4 515.0,1088.2 516.0,1087.4 517.0,1087.6 518.0,1087.3 519.0,1087.3 520.0,1087.6 521.0,1087.7 522.0,1088.2 523.0,1088.3 524.0,1088.6 525.0,1088.5 526.0,1088.6 527.0,1088.5 528.0,1088.2 529.0,1087.3 530.0,1087.4 531.0,1087.9 532.0,1088.5 533.0,1088.3 534.0,1087.7 535.0,1087.3 536.0,1087.6 537.0,1087.8 538.0,1088.0 539.0,1088.0 540.0,1087.9 541.0,1087.9 542.0,1087.9 543.0,1087.9 544.0,1088.1 545.0,1088.5 546.0,1088.7 547.0,1088.6 548.0,1087.6 549.0,1087.6 550.0,1087.1 551.0,1087.1 552.0,1087.3 553.0,1087.9 554.0,1088.3 555.0,1087.6 556.0,1087.3 557.0,1087.2 558.0,1087.8 559.0,1088.5 560.0,1088.7 561.0,1088.3 562.0,1087.5 563.0,1087.4 564.0,1087.5 565.0,1087.5 566.0,1087.6 567.0,1087.3 568.0,1087.9 569.0,1088.2 570.0,1088.8 571.0,1088.3 572.0,1088.2 573.0,1087.9 574.0,1087.9 575.0,1087.7 576.0,1087.4 577.0,1087.1 578.0,1087.4 579.0,1087.7 580.0,1088.1 581.0,1088.2 582.0,1087.8 583.0,1087.5 584.0,1087.3 585.0,1087.9 586.0,1088.0 587.0,1088.2 588.0,1088.1 589.0,1087.9 590.0,1087.4 591.0,1087.6 592.0,1088.0 593.0,1087.7 594.0,1087.9 595.0,1087.9 596.0,1088.8 597.0,1088.3 598.0,1088.1 599.0,1087.4 600.0,1088.2 601.0,1088.2 602.0,1088.9 603.0,1088.1 604.0,1088.2 605.0,1087.3 606.0,1087.4 607.0,1087.6 608.0,1087.7 609.0,1088.1 610.0,1087.9 611.0,1088.0 612.0,1087.6 613.0,1087.4 614.0,1087.6 615.0,1087.6 616.0,1087.5 617.0,1087.5 618.0,1087.3 619.0,1087.2 620.0,1087.3 621.0,1087.8 622.0,1087.7 623.0,1087.7 624.0,1087.3 625.0,1087.5 626.0,1087.7 627.0,1087.7 628.0,1088.4 629.0,1087.9 630.0,1088.2 631.0,1087.7 632.0,1087.7 633.0,1087.8 634.0,1087.8 635.0,1088.2 636.0,1088.0 637.0,1087.7 638.0,1087.6 639.0,1087.6 640.0,1088.1 641.0,1087.9 642.0,1087.9 643.0,1087.2 644.0,1087.6 645.0,1087.3 646.0,1087.3 647.0,1087.1 648.0,1087.7 649.0,1087.7 650.0,1087.5 651.0,1087.0 652.0,1087.1 653.0,1087.5 654.0,1087.4 655.0,1087.6 656.0,1087.6 657.0,1087.6 658.0,1087.9 659.0,1087.5 660.0,1087.4 661.0,1086.8 662.0,1087.5 663.0,1087.8 664.0,1088.3 665.0,1087.8 666.0,1087.9 667.0,1087.9 668.0,1088.4 669.0,1088.1 670.0,1087.6 671.0,1086.9 672.0,1086.8 673.0,1087.4 674.0,1087.9 675.0,1087.9 676.0,1087.4 677.0,1087.1 678.0,1087.7 679.0,1087.3 680.0,1087.5 681.0,1086.9 682.0,1087.9 683.0,1087.5 684.0,1087.7 685.0,1087.0 686.0,1087.0 687.0,1087.4 688.0,1088.0 689.0,1088.2 690.0,1087.6 691.0,1086.9 692.0,1086.8 693.0,1087.1 694.0,1087.5 695.0,1087.6 696.0,1087.3 697.0,1087.3 698.0,1087.3 699.0,1087.9 700.0,1088.4 701.0,1088.3 702.0,1087.8 703.0,1087.2 704.0,1087.1 705.0,1087.1 706.0,1087.1 707.0,1086.9 708.0,1087.2 709.0,1087.2 710.0,1087.5 711.0,1087.2 712.0,1087.0 713.0,1086.7 714.0,1086.6 715.0,1086.6 716.0,1086.8 717.0,1086.8 718.0,1086.5 719.0,1086.3 720.0,1085.8 721.0,1085.8 722.0,1085.5 723.0,1085.0 724.0,1084.9 725.0,1084.5 726.0,1084.5 727.0,1083.6 728.0,1082.6 729.0,1081.4 730.0,1080.2 731.0,1078.8 732.0,1077.5 733.0,1075.5 734.0,1073.9 735.0,1072.0 736.0,1070.4 737.0,1068.6 738.0,1067.4 739.0,1066.2 740.0,1066.3 741.0,1066.6 742.0,1068.1 743.0,1069.6 744.0,1071.1 745.0,1072.8 746.0,1074.8 747.0,1076.8 748.0,1078.6 749.0,1079.6 750.0,1080.9 751.0,1082.3 752.0,1083.9 753.0,1084.6 754.0,1084.6 755.0,1085.1 756.0,1085.4 757.0,1085.5 758.0,1085.6 759.0,1085.4 760.0,1085.9 761.0,1085.8 762.0,1086.6 763.0,1086.9 764.0,1087.3 765.0,1087.4 766.0,1088.0 767.0,1088.0 768.0,1087.5 769.0,1086.8 770.0,1086.7 771.0,1086.9 772.0,1087.4 773.0,1087.6 774.0,1087.8 775.0,1087.5 776.0,1087.5 777.0,1087.4 778.0,1087.8 779.0,1088.1 780.0,1088.1 781.0,1087.8 782.0,1087.7 783.0,1087.3 784.0,1087.0 785.0,1087.1 786.0,1087.3 787.0,1087.8 788.0,1087.3 789.0,1087.2 790.0,1087.0 791.0,1087.2 792.0,1086.7 793.0,1086.8 794.0,1087.2 795.0,1087.9 796.0,1087.9 797.0,1087.6 798.0,1087.7 799.0,1087.2 800.0,1087.2 801.0,1087.1 802.0,1088.0 803.0,1088.5 804.0,1088.6 805.0,1088.5 806.0,1088.2 807.0,1088.1 808.0,1087.9 809.0,1087.8 810.0,1087.8 811.0,1088.5 812.0,1088.4 813.0,1088.2 814.0,1087.7 815.0,1088.1 816.0,1088.1 817.0,1088.5 818.0,1087.9 819.0,1087.8 820.0,1087.4 821.0,1087.9 822.0,1088.2 823.0,1087.8 824.0,1087.4 825.0,1087.2 826.0,1087.4 827.0,1087.3 828.0,1087.5 829.0,1087.8 830.0,1088.3 831.0,1087.9 832.0,1088.0 833.0,1087.8 834.0,1088.3 835.0,1087.8 836.0,1087.6 837.0,1087.4 838.0,1087.4 839.0,1087.8 840.0,1087.8 841.0,1087.8 842.0,1087.6 843.0,1087.5 844.0,1087.9 845.0,1087.7 846.0,1087.7 847.0,1087.8 848.0,1088.5 849.0,1089.2 850.0,1088.9 851.0,1088.4 852.0,1088.2 853.0,1088.2 854.0,1087.9 855.0,1087.5 856.0,1087.7 857.0,1087.7 858.0,1087.2 859.0,1086.7 860.0,1087.1 861.0,1087.4 862.0,1087.7 863.0,1087.6 864.0,1087.9 865.0,1087.9 866.0,1088.0 867.0,1087.6 868.0,1087.6 869.0,1087.2 870.0,1087.7 871.0,1087.8 872.0,1087.8 873.0,1087.4 874.0,1087.4 875.0,1087.8 876.0,1087.4 877.0,1087.2 878.0,1086.9 879.0,1088.0 880.0,1088.5 881.0,1088.6 882.0,1088.1 883.0,1088.4 884.0,1088.4 885.0,1088.1 886.0,1087.9 887.0,1088.1 888.0,1088.3 889.0,1087.9 890.0,1088.2 891.0,1088.5 892.0,1088.8 893.0,1088.5 894.0,1087.5 895.0,1087.5 896.0,1087.3 897.0,1087.9 898.0,1087.9 899.0,1087.9 900.0,1087.3 901.0,1087.2 902.0,1087.1 903.0,1087.5 904.0,1087.2 905.0,1087.3 906.0,1086.8 907.0,1087.3 908.0,1087.4 909.0,1088.3 910.0,1088.5 911.0,1088.5 912.0,1087.7 913.0,1086.9 914.0,1086.6 915.0,1087.0 916.0,1087.2 917.0,1087.0 918.0,1087.2 919.0,1086.8 920.0,1087.4 921.0,1087.3 922.0,1087.6 923.0,1087.5 924.0,1087.3 925.0,1087.3 926.0,1086.8 927.0,1087.0 928.0,1087.6 929.0,1088.5 930.0,1088.9 931.0,1088.6 932.0,1087.9 933.0,1087.9 934.0,1087.7 935.0,1087.9 936.0,1087.4 937.0,1087.4 938.0,1087.3 939.0,1087.4 940.0,1087.1 941.0,1087.1 942.0,1087.7 943.0,1088.0 944.0,1088.0 945.0,1087.5 946.0,1087.7 947.0,1087.5 948.0,1087.3 949.0,1087.3 950.0,1087.7 951.0,1087.8 952.0,1087.9 953.0,1087.7 954.0,1087.6 955.0,1087.1 956.0,1087.6 957.0,1087.1 958.0,1087.0 959.0,1086.5 960.0,1087.2 961.0,1087.5 962.0,1088.0 963.0,1087.4 964.0,1087.4 965.0,1087.0 966.0,1087.2 967.0,1087.1 968.0,1086.9 969.0,1086.6 970.0,1086.3 971.0,1086.2 972.0,1086.5 973.0,1086.7 974.0,1087.1 975.0,1087.7 976.0,1087.5 977.0,1087.0 978.0,1086.4 979.0,1086.2 980.0,1086.3 981.0,1086.6 982.0,1086.6 983.0,1086.4 984.0,1086.4 985.0,1086.6 986.0,1087.1 987.0,1087.0 988.0,1087.1 989.0,1087.0 990.0,1087.3 991.0,1087.2 992.0,1087.3 993.0,1087.0 994.0,1086.5 995.0,1086.3 996.0,1086.1 997.0,1086.5 998.0,1086.2 999.0,1086.6 1000.0,1086.5 1001.0,1086.5 1002.0,1085.6 1003.0,1085.5 1004.0,1085.7 1005.0,1085.9 1006.0,1086.0 1007.0,1085.8 1008.0,1086.1 1009.0,1085.8 1010.0,1085.9 1011.0,1085.9 1012.0,1086.7 1013.0,1086.4 1014.0,1085.9 1015.0,1085.0 1016.0,1085.4 1017.0,1085.1 1018.0,1085.1 1019.0,1084.8 1020.0,1084.7 1021.0,1084.5 1022.0,1084.3 1023.0,1083.9 1024.0,1083.6 1025.0,1083.5 1026.0,1083.9 1027.0,1084.1 1028.0,1083.6 1029.0,1083.3 1030.0,1083.3 1031.0,1083.7 1032.0,1083.6 1033.0,1083.0 1034.0,1082.7 1035.0,1082.3 1036.0,1082.0 1037.0,1081.3 1038.0,1081.5 1039.0,1081.5 1040.0,1081.6 1041.0,1080.7 1042.0,1080.4 1043.0,1079.4 1044.0,1079.0 1045.0,1078.8 1046.0,1078.4 1047.0,1077.6 1048.0,1076.1 1049.0,1075.0 1050.0,1074.4 1051.0,1073.1 1052.0,1071.2 1053.0,1069.3 1054.0,1067.7 1055.0,1066.2 1056.0,1064.3 1057.0,1061.8 1058.0,1058.8 1059.0,1054.5 1060.0,1050.3 1061.0,1045.5 1062.0,1039.8 1063.0,1032.1 1064.0,1022.4 1065.0,1011.4 1066.0,997.3 1067.0,980.3 1068.0,959.5 1069.0,935.9 1070.0,908.9 1071.0,881.5 1072.0,857.9 1073.0,844.2 1074.0,843.8 1075.0,855.5 1076.0,876.6 1077.0,903.2 1078.0,931.4 1079.0,958.5 1080.0,983.2 1081.0,1004.4 1082.0,1022.2 1083.0,1035.9 1084.0,1047.4 1085.0,1056.2 1086.0,1063.1 1087.0,1067.3 1088.0,1070.2 1089.0,1072.2 1090.0,1074.3 1091.0,1076.0 1092.0,1076.8 1093.0,1078.1 1094.0,1078.6 1095.0,1080.0 1096.0,1080.4 1097.0,1080.7 1098.0,1080.9 1099.0,1081.4 1100.0,1081.8 1101.0,1082.1 1102.0,1081.9 1103.0,1081.3 1104.0,1081.4 1105.0,1081.5 1106.0,1081.9 1107.0,1081.4 1108.0,1081.1 1109.0,1080.5 1110.0,1079.8 1111.0,1079.0 1112.0,1079.0 1113.0,1078.4 1114.0,1078.5 1115.0,1077.9 1116.0,1078.0 1117.0,1078.2 1118.0,1078.7 1119.0,1079.2 1120.0,1079.4 1121.0,1080.3 1122.0,1081.6 1123.0,1082.3 1124.0,1082.8 1125.0,1083.3 1126.0,1083.8 1127.0,1084.3 1128.0,1084.6 1129.0,1084.9 1130.0,1085.0 1131.0,1085.3 1132.0,1085.6 1133.0,1085.8 1134.0,1085.8 1135.0,1086.2 1136.0,1086.4 1137.0,1086.8 1138.0,1086.8 1139.0,1086.9 1140.0,1087.3 1141.0,1086.7 1142.0,1086.6 1143.0,1085.8 1144.0,1086.3 1145.0,1086.2 1146.0,1085.4 1147.0,1084.2 1148.0,1083.4 1149.0,1083.4 1150.0,1083.1 1151.0,1082.1 1152.0,1081.1 1153.0,1080.1 1154.0,1079.2 1155.0,1078.6 1156.0,1077.1 1157.0,1076.8 1158.0,1076.1 1159.0,1077.0 1160.0,1077.1 1161.0,1077.8 1162.0,1078.4 1163.0,1079.1 1164.0,1080.1 1165.0,1080.5 1166.0,1081.7 1167.0,1082.9 1168.0,1084.3 1169.0,1084.9 1170.0,1085.6 1171.0,1085.8 1172.0,1086.2 1173.0,1086.4 1174.0,1086.9 1175.0,1087.0 1176.0,1087.0 1177.0,1086.8 1178.0,1086.9 1179.0,1086.8 1180.0,1087.2 1181.0,1087.1 1182.0,1087.5 1183.0,1087.1 1184.0,1087.3 1185.0,1087.3 1186.0,1087.4 1187.0,1087.9 1188.0,1087.9 1189.0,1088.5 1190.0,1088.2 1191.0,1087.9 1192.0,1087.4 1193.0,1087.3 1194.0,1087.5 1195.0,1087.6 1196.0,1087.4 1197.0,1086.9 1198.0,1086.9 1199.0,1086.4 1200.0,1087.0 1201.0,1086.8 1202.0,1087.2 1203.0,1087.1 1204.0,1087.4 1205.0,1087.2 1206.0,1086.8 1207.0,1086.4 1208.0,1086.3 1209.0,1086.5 1210.0,1087.2 1211.0,1087.5 1212.0,1087.9 1213.0,1087.1 1214.0,1087.5 1215.0,1087.2 1216.0,1087.6 1217.0,1087.6 1218.0,1088.2 1219.0,1088.2 1220.0,1088.1 1221.0,1087.4 1222.0,1087.5 1223.0,1087.4 1224.0,1087.9 1225.0,1087.7 1226.0,1088.3 1227.0,1087.5 1228.0,1087.5 1229.0,1087.2 1230.0,1087.7 1231.0,1087.5 1232.0,1087.2 1233.0,1087.0 1234.0,1087.2 1235.0,1087.9 1236.0,1088.6 1237.0,1088.3 1238.0,1087.4 1239.0,1087.0 1240.0,1087.5 1241.0,1087.6 1242.0,1087.5 1243.0,1087.4 1244.0,1087.9 1245.0,1088.0 1246.0,1087.4 1247.0,1086.8 1248.0,1086.7 1249.0,1086.4 1250.0,1087.0 1251.0,1087.1 1252.0,1087.8 1253.0,1088.0 1254.0,1088.5 1255.0,1088.1 1256.0,1087.8 1257.0,1087.8 1258.0,1087.9 1259.0,1087.4 1260.0,1087.1 1261.0,1086.9 1262.0,1087.5 1263.0,1086.9 1264.0,1087.0 1265.0,1086.6 1266.0,1087.1 1267.0,1087.5 1268.0,1087.6 1269.0,1087.6 1270.0,1087.9 1271.0,1087.2 1272.0,1087.3 1273.0,1086.8 1274.0,1087.4 1275.0,1087.4 1276.0,1087.4 1277.0,1087.2 1278.0,1087.3 1279.0,1087.6 1280.0,1087.6 1281.0,1087.9 1282.0,1088.4 1283.0,1088.2 1284.0,1087.7 1285.0,1087.8 1286.0,1088.4 1287.0,1088.3 1288.0,1087.6 1289.0,1087.3 1290.0,1087.1 1291.0,1087.0 1292.0,1087.4 1293.0,1087.3 1294.0,1087.3 1295.0,1086.8 1296.0,1086.9 1297.0,1086.7 1298.0,1087.0 1299.0,1087.2 1300.0,1087.5 1301.0,1087.7 1302.0,1087.5 1303.0,1087.4 1304.0,1087.2 1305.0,1087.0 1306.0,1087.2 1307.0,1086.9 1308.0,1087.3 1309.0,1087.0 1310.0,1087.1 1311.0,1086.6 1312.0,1086.3 1313.0,1086.5 1314.0,1086.4 1315.0,1086.8 1316.0,1086.5 1317.0,1086.0 1318.0,1085.5 1319.0,1085.1 1320.0,1085.5 1321.0,1085.9 1322.0,1086.4 1323.0,1085.9 1324.0,1085.2 1325.0,1085.3 1326.0,1085.4 1327.0,1085.2 1328.0,1084.6 1329.0,1084.6 1330.0,1084.3 1331.0,1083.4 1332.0,1081.9 1333.0,1080.8 1334.0,1079.4 1335.0,1077.8 1336.0,1076.3 1337.0,1074.7 1338.0,1073.3 1339.0,1071.7 1340.0,1070.9 1341.0,1069.2 1342.0,1067.8 1343.0,1066.0 1344.0,1065.6 1345.0,1065.5 1346.0,1065.5 1347.0,1065.7 1348.0,1065.9 1349.0,1067.0 1350.0,1068.8 1351.0,1070.7 1352.0,1072.3 1353.0,1073.5 1354.0,1075.0 1355.0,1076.7 1356.0,1077.8 1357.0,1078.8 1358.0,1079.2 1359.0,1079.8 1360.0,1080.9 1361.0,1081.4 1362.0,1082.0 1363.0,1081.9 1364.0,1082.6 1365.0,1082.6 1366.0,1082.6 1367.0,1082.7 1368.0,1082.9 1369.0,1082.4 1370.0,1082.2 1371.0,1081.9 1372.0,1082.1 1373.0,1082.1 1374.0,1082.3 1375.0,1082.5 1376.0,1082.1 1377.0,1082.0 1378.0,1081.9 1379.0,1082.1 1380.0,1082.0 1381.0,1081.5 1382.0,1081.0 1383.0,1080.6 1384.0,1080.1 1385.0,1080.1 1386.0,1079.5 1387.0,1079.6 1388.0,1078.9 1389.0,1078.7 1390.0,1078.6 1391.0,1079.1 1392.0,1079.5 1393.0,1079.3 1394.0,1078.8 1395.0,1078.2 1396.0,1078.1 1397.0,1077.9 1398.0,1078.0 1399.0,1078.1 1400.0,1077.8 1401.0,1076.8 1402.0,1075.6 1403.0,1074.7 1404.0,1074.0 1405.0,1073.6 1406.0,1072.8 1407.0,1071.3 1408.0,1069.3 1409.0,1067.4 1410.0,1065.0 1411.0,1061.5 1412.0,1057.3 1413.0,1053.1 1414.0,1048.6 1415.0,1043.4 1416.0,1037.6 1417.0,1031.3 1418.0,1024.5 1419.0,1017.6 1420.0,1010.5 1421.0,1004.5 1422.0,1000.0 1423.0,997.7 1424.0,997.4 1425.0,998.8 1426.0,1002.2 1427.0,1007.5 1428.0,1013.9 1429.0,1021.0 1430.0,1027.8 1431.0,1034.8 1432.0,1041.3 1433.0,1046.5 1434.0,1051.5 1435.0,1056.2 1436.0,1060.9 1437.0,1064.8 1438.0,1068.4 1439.0,1071.2 1440.0,1073.1 1441.0,1075.2 1442.0,1076.7 1443.0,1078.0 1444.0,1078.6 1445.0,1079.7 1446.0,1080.6 1447.0,1081.4 1448.0,1081.7 1449.0,1082.1 1450.0,1082.3 1451.0,1083.0 1452.0,1083.4 1453.0,1083.7 1454.0,1083.8 1455.0,1084.9 1456.0,1084.9 1457.0,1085.4 1458.0,1084.9 1459.0,1085.2 1460.0,1085.2 1461.0,1085.6 1462.0,1086.1 1463.0,1086.1 1464.0,1085.8 1465.0,1085.4 1466.0,1085.6 1467.0,1086.0 1468.0,1086.6 1469.0,1086.6 1470.0,1086.8 1471.0,1086.9 1472.0,1086.9 1473.0,1086.3 1474.0,1085.7 1475.0,1085.3 1476.0,1086.2 1477.0,1086.3 1478.0,1087.1 1479.0,1086.8 1480.0,1087.5 1481.0,1087.5 1482.0,1087.4 1483.0,1086.9 1484.0,1086.7 1485.0,1086.8 1486.0,1086.8 1487.0,1086.8 1488.0,1087.1 1489.0,1086.9 1490.0,1087.0 1491.0,1086.3 1492.0,1086.8 1493.0,1087.0 1494.0,1087.2 1495.0,1087.4 1496.0,1086.8 1497.0,1087.1 1498.0,1086.7 1499.0,1087.3 1500.0,1087.0 1501.0,1086.5 1502.0,1086.1 1503.0,1086.1 1504.0,1087.1 1505.0,1087.4 1506.0,1087.3 1507.0,1086.4 1508.0,1086.6 1509.0,1086.9 1510.0,1087.1 1511.0,1086.6 1512.0,1085.5 1513.0,1085.5 1514.0,1086.0 1515.0,1086.4 1516.0,1086.2 1517.0,1085.3 1518.0,1084.6 1519.0,1084.3 1520.0,1083.6 1521.0,1083.5 1522.0,1083.0 1523.0,1083.3 1524.0,1083.2 1525.0,1083.1 1526.0,1082.6 1527.0,1082.1 1528.0,1082.1 1529.0,1082.2 1530.0,1082.4 1531.0,1082.2 1532.0,1082.5 1533.0,1082.7 1534.0,1083.0 1535.0,1083.0 1536.0,1083.8 1537.0,1084.6 1538.0,1085.8 1539.0,1085.7 1540.0,1085.7 1541.0,1085.6 1542.0,1086.2 1543.0,1086.5 1544.0,1086.9 1545.0,1087.0 1546.0,1086.9 1547.0,1086.3 1548.0,1086.5 1549.0,1087.0 1550.0,1087.1 1551.0,1086.8 1552.0,1086.9 1553.0,1087.4 1554.0,1087.6 1555.0,1087.6 1556.0,1087.6 1557.0,1087.4 1558.0,1087.2 1559.0,1087.1 1560.0,1087.5 1561.0,1087.0 1562.0,1086.8 1563.0,1087.2 1564.0,1088.2 1565.0,1087.7 1566.0,1088.2 1567.0,1087.5 1568.0,1088.3 1569.0,1087.9 1570.0,1088.5 1571.0,1088.3 1572.0,1087.7 1573.0,1087.6 1574.0,1087.4 1575.0,1087.0 1576.0,1087.6 1577.0,1088.0 1578.0,1089.1 1579.0,1088.1 1580.0,1088.3 1581.0,1088.3 1582.0,1088.9 1583.0,1088.6 1584.0,1087.8 1585.0,1087.4 1586.0,1086.8 1587.0,1086.7 1588.0,1086.8 1589.0,1087.1 1590.0,1087.5 1591.0,1087.4 1592.0,1088.2 1593.0,1088.6 1594.0,1088.6 1595.0,1088.4 1596.0,1087.9 1597.0,1087.8 1598.0,1087.7 1599.0,1087.6 1600.0,1087.6 1601.0,1087.1 1602.0,1087.4 1603.0,1087.9 1604.0,1088.1 1605.0,1088.1 1606.0,1087.4 1607.0,1087.3 1608.0,1087.0 1609.0,1087.6 1610.0,1088.5 1611.0,1088.9 1612.0,1088.4 1613.0,1087.9 1614.0,1087.7 1615.0,1088.1 1616.0,1088.0 1617.0,1088.2 1618.0,1088.1 1619.0,1087.9 1620.0,1087.7 1621.0,1087.1 1622.0,1087.2 1623.0,1086.9 1624.0,1087.3 1625.0,1087.2 1626.0,1087.6 1627.0,1087.7 1628.0,1087.6 1629.0,1087.4 1630.0,1087.0 1631.0,1087.6 1632.0,1088.2 1633.0,1088.7 1634.0,1088.4 1635.0,1088.4 1636.0,1087.7 1637.0,1088.2 1638.0,1087.7 1639.0,1087.4 1640.0,1087.7 1641.0,1088.2 1642.0,1088.7 1643.0,1088.0 1644.0,1087.6 1645.0,1087.9 1646.0,1087.4 1647.0,1087.3 1648.0,1087.4 1649.0,1087.9 1650.0,1088.4 1651.0,1088.3 1652.0,1088.8 1653.0,1088.3 1654.0,1088.4 1655.0,1087.2 1656.0,1087.1 1657.0,1087.4 1658.0,1087.6 1659.0,1088.1 1660.0,1087.7 1661.0,1087.7 1662.0,1087.5 1663.0,1087.4 1664.0,1087.5 1665.0,1087.8 1666.0,1088.1 1667.0,1088.1 1668.0,1087.7 1669.0,1087.6 1670.0,1087.7 1671.0,1088.2 1672.0,1088.8 1673.0,1089.0 1674.0,1088.8 1675.0,1088.0 1676.0,1087.6 1677.0,1087.4 1678.0,1087.1 1679.0,1087.3 1680.0,1087.4 1681.0,1087.8 1682.0,1087.8 1683.0,1087.9 1684.0,1087.4 1685.0,1087.9 1686.0,1088.1 1687.0,1088.9 1688.0,1088.6 1689.0,1088.9 1690.0,1088.4 1691.0,1088.3 1692.0,1088.6 1693.0,1088.4 1694.0,1088.5 1695.0,1088.2 1696.0,1088.7 1697.0,1088.5 1698.0,1088.4 1699.0,1088.1 1700.0,1088.0 1701.0,1087.5 1702.0,1087.5 1703.0,1087.2 1704.0,1087.4 1705.0,1087.6 1706.0,1087.8 1707.0,1087.5 1708.0,1088.0 1709.0,1088.1 1710.0,1088.7 1711.0,1088.1 1712.0,1087.7 1713.0,1087.6 1714.0,1087.8 1715.0,1087.4 1716.0,1087.4 1717.0,1088.1 1718.0,1088.0 1719.0,1088.1 1720.0,1087.4 1721.0,1087.8 1722.0,1087.9 1723.0,1087.4 1724.0,1087.5 1725.0,1087.5 1726.0,1087.7 1727.0,1087.5 1728.0,1087.2 1729.0,1087.1 1730.0,1087.6 1731.0,1087.2 1732.0,1087.6 1733.0,1086.8 1734.0,1087.2 1735.0,1086.9 1736.0,1086.5 1737.0,1086.3 1738.0,1086.0 1739.0,1086.5 1740.0,1086.9 1741.0,1086.8 1742.0,1086.6 1743.0,1086.6 1744.0,1086.8 1745.0,1087.5 1746.0,1087.2 1747.0,1086.8 1748.0,1086.4 1749.0,1086.6 1750.0,1087.0 1751.0,1087.0 1752.0,1086.6 1753.0,1086.3 1754.0,1086.1 1755.0,1086.5 1756.0,1086.5 1757.0,1086.3 1758.0,1085.6 1759.0,1085.8 1760.0,1086.2 1761.0,1086.3 1762.0,1085.8 1763.0,1085.6 1764.0,1085.2 1765.0,1085.0 1766.0,1085.1 1767.0,1085.4 1768.0,1085.8 1769.0,1085.8 1770.0,1086.1 1771.0,1086.0 1772.0,1086.1 1773.0,1086.1 1774.0,1085.9 1775.0,1085.5 1776.0,1085.3 1777.0,1085.1 1778.0,1084.8 1779.0,1084.6 1780.0,1084.1 1781.0,1083.9 1782.0,1083.7 1783.0,1083.9 1784.0,1083.3 1785.0,1083.0 1786.0,1082.9 1787.0,1083.1 1788.0,1082.6 1789.0,1082.4 1790.0,1081.8 1791.0,1081.7 1792.0,1081.6 1793.0,1081.5 1794.0,1081.2 1795.0,1081.0 1796.0,1080.9 1797.0,1081.0 1798.0,1080.8 1799.0,1081.2 1800.0,1080.9 1801.0,1080.8 1802.0,1080.6 1803.0,1081.2 1804.0,1081.5 1805.0,1081.8 1806.0,1082.5 1807.0,1082.9 1808.0,1083.4 1809.0,1083.8 1810.0,1084.1 1811.0,1084.3 1812.0,1084.9 1813.0,1085.4 1814.0,1085.4 1815.0,1085.1 1816.0,1084.9 1817.0,1085.3 1818.0,1085.6 1819.0,1085.7 1820.0,1085.7 1821.0,1085.9 1822.0,1086.0 1823.0,1086.2 1824.0,1085.7 1825.0,1085.7 1826.0,1085.5 1827.0,1086.4 1828.0,1086.6 1829.0,1086.6 1830.0,1086.0 1831.0,1086.1 1832.0,1086.4 1833.0,1086.7 1834.0,1087.3 1835.0,1087.2 1836.0,1087.6 1837.0,1087.2 1838.0,1087.3 1839.0,1086.6 1840.0,1086.6 1841.0,1086.4 1842.0,1086.8 1843.0,1086.3 1844.0,1086.6 1845.0,1086.6 1846.0,1087.1 1847.0,1086.8 1848.0,1086.9 1849.0,1087.1 1850.0,1086.9 1851.0,1086.7 1852.0,1086.7 1853.0,1087.1 1854.0,1087.3 1855.0,1087.1 1856.0,1086.9 1857.0,1087.0 1858.0,1087.5 1859.0,1087.4 1860.0,1087.9 1861.0,1087.8 1862.0,1088.0 1863.0,1087.8 1864.0,1087.2 1865.0,1086.9 1866.0,1086.4 1867.0,1086.7 1868.0,1087.0 1869.0,1087.3 1870.0,1087.4 1871.0,1086.9 1872.0,1087.2 1873.0,1086.8 1874.0,1087.2 1875.0,1087.0 1876.0,1087.1 1877.0,1086.9 1878.0,1086.8 1879.0,1087.1 1880.0,1087.6 1881.0,1088.0 1882.0,1087.7 1883.0,1087.4 1884.0,1087.0 1885.0,1087.4 1886.0,1087.1 1887.0,1087.6 1888.0,1087.4 1889.0,1087.7 1890.0,1087.5 1891.0,1087.9 1892.0,1088.2 1893.0,1088.4 1894.0,1088.1 1895.0,1088.4 1896.0,1088.4 1897.0,1088.4 1898.0,1088.4 1899.0,1088.1 1900.0,1088.2 1901.0,1087.6 1902.0,1087.4 1903.0,1087.6 1904.0,1087.5 1905.0,1087.8 1906.0,1087.6 1907.0,1088.1 1908.0,1087.3 1909.0,1087.2 1910.0,1087.3 1911.0,1087.6 1912.0,1087.7 1913.0,1086.9 1914.0,1087.3 1915.0,1087.1 1916.0,1087.9 1917.0,1087.3 1918.0,1087.6 1919.0,1087.3 1920.0,1088.0 1921.0,1087.6 1922.0,1087.5 1923.0,1087.8 1924.0,1087.8 1925.0,1087.8 1926.0,1087.1 1927.0,1087.1 1928.0,1087.6 1929.0,1088.1 1930.0,1088.1 1931.0,1087.4 1932.0,1087.2 1933.0,1087.7 1934.0,1088.3 1935.0,1088.3 1936.0,1087.8 1937.0,1087.5 1938.0,1086.8 1939.0,1086.7 1940.0,1087.0 1941.0,1087.1 1942.0,1088.1 1943.0,1087.8 1944.0,1087.8 1945.0,1087.4 1946.0,1087.8 1947.0,1088.1 1948.0,1087.6 1949.0,1087.2 1950.0,1087.4 1951.0,1087.5 1952.0,1087.2 1953.0,1087.1 1954.0,1087.2 1955.0,1087.1 1956.0,1086.7 1957.0,1086.4 1958.0,1086.7 1959.0,1086.8 1960.0,1087.3 1961.0,1087.3 1962.0,1086.8 1963.0,1086.6 1964.0,1086.5 1965.0,1087.0 1966.0,1087.1 1967.0,1086.6 1968.0,1086.2 1969.0,1086.0 1970.0,1085.8 1971.0,1085.4 1972.0,1085.3 1973.0,1085.2 1974.0,1085.5 1975.0,1084.7 1976.0,1084.4 1977.0,1083.9 1978.0,1083.9 1979.0,1084.0 1980.0,1083.4 1981.0,1083.2 1982.0,1082.3 1983.0,1081.9 1984.0,1081.1 1985.0,1080.5 1986.0,1079.2 1987.0,1078.2 1988.0,1076.4 1989.0,1075.0 1990.0,1072.4 1991.0,1070.6 1992.0,1067.7 1993.0,1064.9 1994.0,1061.1 1995.0,1058.2 1996.0,1054.3 1997.0,1051.2 1998.0,1048.5 1999.0,1046.4 2000.0,1045.0 2001.0,1044.6 2002.0,1045.1 2003.0,1046.4 2004.0,1048.3 2005.0,1050.9 2006.0,1054.6 2007.0,1058.1 2008.0,1061.6 2009.0,1064.4 2010.0,1067.1 2011.0,1069.9 2012.0,1072.3 2013.0,1074.5 2014.0,1075.8 2015.0,1077.6 2016.0,1078.7 2017.0,1080.2 2018.0,1081.4 2019.0,1081.9 2020.0,1082.8 2021.0,1083.2 2022.0,1083.8 2023.0,1083.6 2024.0,1083.7 2025.0,1084.2 2026.0,1084.6 2027.0,1085.1 2028.0,1085.4 2029.0,1086.1 2030.0,1086.6 2031.0,1086.4 2032.0,1085.9 2033.0,1085.9 2034.0,1086.1 2035.0,1086.8 2036.0,1086.6 2037.0,1086.8 2038.0,1086.8 2039.0,1087.0 2040.0,1086.8 2041.0,1086.7 2042.0,1086.6 2043.0,1086.5 2044.0,1086.6 2045.0,1086.3 2046.0,1086.6 2047.0,1086.3 2048.0,1086.5 2049.0,1085.9 2050.0,1085.7 2051.0,1085.8 2052.0,1085.5 2053.0,1085.0 2054.0,1084.0 2055.0,1083.7 2056.0,1084.3 2057.0,1084.2 2058.0,1084.1 2059.0,1083.0 2060.0,1082.6 2061.0,1082.2 2062.0,1082.5 2063.0,1081.9 2064.0,1081.6 2065.0,1080.9 2066.0,1080.5 2067.0,1080.2 2068.0,1079.9 2069.0,1079.4 2070.0,1079.6 2071.0,1079.8 2072.0,1080.4 2073.0,1080.1 2074.0,1080.6 2075.0,1081.0 2076.0,1082.0 2077.0,1082.3 2078.0,1082.5 2079.0,1082.8 2080.0,1082.8 2081.0,1083.3 2082.0,1083.5 2083.0,1083.9 2084.0,1084.6 2085.0,1085.0 2086.0,1085.3 2087.0,1085.2 2088.0,1085.5 2089.0,1085.6 2090.0,1085.8 2091.0,1085.9 2092.0,1086.2 2093.0,1086.4 2094.0,1086.4 2095.0,1087.2 2096.0,1087.7 2097.0,1088.1 2098.0,1087.6 2099.0,1087.9 2100.0,1087.9 2101.0,1088.0 2102.0,1087.5 2103.0,1087.6 2104.0,1088.0 2105.0,1087.9 2106.0,1088.4 2107.0,1087.9 2108.0,1088.1 2109.0,1087.3 2110.0,1088.0 2111.0,1087.7 2112.0,1088.0 2113.0,1087.8 2114.0,1088.2 2115.0,1087.9 2116.0,1087.6 2117.0,1086.9 2118.0,1087.3 2119.0,1087.3 2120.0,1087.6 2121.0,1087.4 2122.0,1087.4 2123.0,1087.3 2124.0,1087.6 2125.0,1088.1 2126.0,1087.8 2127.0,1087.6 2128.0,1087.1 2129.0,1087.8 2130.0,1087.5 2131.0,1087.6 2132.0,1087.2 2133.0,1087.7 2134.0,1087.7 2135.0,1088.0 2136.0,1087.9 2137.0,1087.8 2138.0,1087.4 2139.0,1087.5 2140.0,1087.6 2141.0,1088.0 2142.0,1088.1 2143.0,1088.4 2144.0,1088.1 2145.0,1087.7 2146.0,1087.7 2147.0,1088.4 2148.0,1088.4 2149.0,1087.7 2150.0,1087.2 2151.0,1087.2 2152.0,1087.1 2153.0,1087.3 2154.0,1087.1 2155.0,1087.2 2156.0,1087.4 2157.0,1087.6 2158.0,1087.9 2159.0,1087.8 2160.0,1088.2 2161.0,1088.2 2162.0,1088.0 2163.0,1087.6 2164.0,1088.1 2165.0,1088.3 2166.0,1088.2 2167.0,1087.8 2168.0,1087.8 2169.0,1088.2 2170.0,1088.7 2171.0,1088.8 2172.0,1088.6 2173.0,1088.1 2174.0,1087.4 2175.0,1087.6 2176.0,1087.7 2177.0,1088.7 2178.0,1088.7 2179.0,1088.1 2180.0,1087.2 2181.0,1087.2 2182.0,1087.4 2183.0,1087.4 2184.0,1087.3 2185.0,1087.7 2186.0,1087.9 2187.0,1087.7 2188.0,1087.8 2189.0,1087.7 2190.0,1087.8 2191.0,1087.3 2192.0,1087.2 2193.0,1087.5 2194.0,1087.5 2195.0,1087.6 2196.0,1087.7 2197.0,1088.0 2198.0,1088.1 2199.0,1087.6 2200.0,1088.0 2201.0,1088.3 2202.0,1088.6 2203.0,1087.8 2204.0,1087.3 2205.0,1087.4 2206.0,1088.3 2207.0,1088.7 2208.0,1088.8 2209.0,1088.2 2210.0,1088.0 2211.0,1087.7 2212.0,1088.0 2213.0,1087.6 2214.0,1087.9" fill="none" stroke="#05AA60" stroke-width="5.2" stroke-linejoin="round" stroke-linecap="butt"/>
</g>
<g id="labels" class="t" font-size="52">
<polygon points="446.3,1025.2 470.6,1012.0 470.6,1038.5"/>
<text class="t" x="477.2" y="1039.0" font-size="52" textLength="79.4" lengthAdjust="spacingAndGlyphs">020</text>
<polygon points="720.6,1030.8 746.0,1017.5 746.0,1044.0"/>
<text class="t" x="755.8" y="1044.4" font-size="52" textLength="70.7" lengthAdjust="spacingAndGlyphs">111</text>
<polygon points="1054.3,808.2 1080.7,795.5 1080.7,820.9"/>
<text class="t" x="1084.1" y="820.6" font-size="52" textLength="81.4" lengthAdjust="spacingAndGlyphs">002</text>
<polygon points="1152.1,1020.9 1179.3,1008.2 1179.3,1033.6"/>
<text class="t" x="1185.6" y="1033.4" font-size="52" textLength="78.7" lengthAdjust="spacingAndGlyphs">200</text>
<polygon points="1336.9,899.8 1364.8,886.8 1364.8,912.9"/>
<text class="t" x="1371.0" y="913.5" font-size="52" textLength="75.2" lengthAdjust="spacingAndGlyphs">131</text>
<polygon points="1413.7,952.1 1438.3,938.8 1438.3,965.4"/>
<text class="t" x="1442.1" y="966.0" font-size="52" textLength="80.1" lengthAdjust="spacingAndGlyphs">220</text>
<polygon points="1984.0,1004.6 2011.0,992.4 2011.0,1016.9"/>
<text class="t" x="2017.8" y="1016.7" font-size="52" textLength="78.0" lengthAdjust="spacingAndGlyphs">222</text>
<polygon points="1340.2,1009.4 1359.3,1009.4 1349.5,1044"/>
<polygon points="446.3,1310.5 473.5,1297.4 473.5,1323.5"/>
<text class="t" x="478.3" y="1324.2" font-size="52" textLength="79.3" lengthAdjust="spacingAndGlyphs">020</text>
<polygon points="720.6,1301.4 748.8,1288.9 748.8,1313.9"/>
<text class="t" x="755.7" y="1314.6" font-size="52" textLength="72.3" lengthAdjust="spacingAndGlyphs">111</text>
<polygon points="1054.3,1111.5 1078.6,1098.8 1078.6,1124.2"/>
<text class="t" x="1084.1" y="1124.8" font-size="52" textLength="79.5" lengthAdjust="spacingAndGlyphs">002</text>
<polygon points="1142.0,1327.8 1169.1,1314.8 1169.1,1340.9"/>
<text class="t" x="1173.2" y="1341.2" font-size="52" textLength="79.4" lengthAdjust="spacingAndGlyphs">200</text>
<polygon points="1331.4,1209.3 1357.5,1196.9 1357.5,1221.8"/>
<text class="t" x="1365.3" y="1221.5" font-size="52" textLength="70.9" lengthAdjust="spacingAndGlyphs">131</text>
<polygon points="1405.7,1265.3 1432.9,1252.1 1432.9,1278.6"/>
<text class="t" x="1436.6" y="1278.4" font-size="52" textLength="80.6" lengthAdjust="spacingAndGlyphs">220</text>
<polygon points="1984.0,1291.7 2011.0,1279.0 2011.0,1304.3"/>
<text class="t" x="2015.5" y="1304.3" font-size="52" textLength="79.5" lengthAdjust="spacingAndGlyphs">222</text>
<rect x="1335.1" y="1252" width="2.8" height="52"/><polygon points="1329.3,1301.3 1345.7,1301.3 1336.3,1335.6"/>
<polygon points="435.4,1593.8 462.6,1581.1 462.6,1606.4"/>
<text class="t" x="468.2" y="1607.2" font-size="52" textLength="80.1" lengthAdjust="spacingAndGlyphs">020</text>
<polygon points="712.6,1585.4 738.7,1572.8 738.7,1598.1"/>
<text class="t" x="746.8" y="1598.0" font-size="52" textLength="71.5" lengthAdjust="spacingAndGlyphs">111</text>
<polygon points="1051.4,1406.8 1077.8,1394.5 1077.8,1419.2"/>
<text class="t" x="1082.6" y="1420.0" font-size="52" textLength="80.4" lengthAdjust="spacingAndGlyphs">002</text>
<circle cx="1115.3" cy="1495.4" r="10.8" fill="none" stroke="#000" stroke-width="2.6"/>
<text class="t" x="1131.1" y="1510.0" font-size="52" textLength="80.2" lengthAdjust="spacingAndGlyphs">010</text>
<polygon points="1141.0,1584.0 1166.0,1570.5 1166.0,1597.5"/>
<text class="t" x="1170.3" y="1597.3" font-size="52" textLength="80.9" lengthAdjust="spacingAndGlyphs">200</text>
<polygon points="1266.2,1484.2 1291.4,1471.8 1291.4,1496.7"/>
<text class="t" x="1302.9" y="1496.5" font-size="52" textLength="69.9" lengthAdjust="spacingAndGlyphs">131</text>
<polygon points="1404.6,1461.8 1431.1,1448.8 1431.1,1474.9"/>
<text class="t" x="1435.5" y="1474.7" font-size="52" textLength="79.4" lengthAdjust="spacingAndGlyphs">220</text>
<polygon points="1984.0,1534.8 2011.0,1521.7 2011.0,1547.8"/>
<text class="t" x="2015.5" y="1548.4" font-size="52" textLength="79.5" lengthAdjust="spacingAndGlyphs">222</text>
<line x1="1115.4" y1="1540.8" x2="1114.6" y2="1558.8" stroke="#000" stroke-width="2.6"/>
<line x1="1112.6" y1="1565.5" x2="1112" y2="1575" stroke="#000" stroke-width="2.6"/>
<polygon points="1103.3,1572.5 1121.9,1574 1109.6,1605.5"/>
<line x1="1288.9" y1="1511" x2="1318" y2="1563" stroke="#000" stroke-width="2" stroke-dasharray="2 3.4"/>
<polygon points="1307.3,1564.3 1323.9,1556.3 1334,1591.5"/>
<polygon points="448.8,1882.5 476.4,1870.3 476.4,1894.8"/>
<text class="t" x="482.0" y="1896.0" font-size="52" textLength="78.3" lengthAdjust="spacingAndGlyphs">020</text>
<polygon points="1038.3,1710.2 1065.5,1697.8 1065.5,1722.5"/>
<text class="t" x="1071.0" y="1723.0" font-size="52" textLength="78.9" lengthAdjust="spacingAndGlyphs">002</text>
<circle cx="1095" cy="1798.2" r="10.8" fill="none" stroke="#000" stroke-width="2.6"/>
<text class="t" x="1112.1" y="1811.7" font-size="52" textLength="77.5" lengthAdjust="spacingAndGlyphs">010</text>
<polygon points="1157.2,1865.6 1182.5,1852.9 1182.5,1878.3"/>
<text class="t" x="1188.1" y="1878.1" font-size="52" textLength="79.4" lengthAdjust="spacingAndGlyphs">200</text>
<polygon points="1408.3,1698.0 1435.0,1685.3 1435.0,1710.7"/>
<text class="t" x="1439.1" y="1711.0" font-size="52" textLength="80.3" lengthAdjust="spacingAndGlyphs">220</text>
<polygon points="1994.8,1820.2 2020.1,1808.0 2020.1,1832.4"/>
<text class="t" x="2025.8" y="1833.0" font-size="52" textLength="79.1" lengthAdjust="spacingAndGlyphs">222</text>
<rect x="1056.1" y="1742.4" width="2.8" height="60"/><polygon points="1048.5,1800.3 1067.7,1800.3 1057.6,1834.2"/>
</g>
</svg></body></html>
